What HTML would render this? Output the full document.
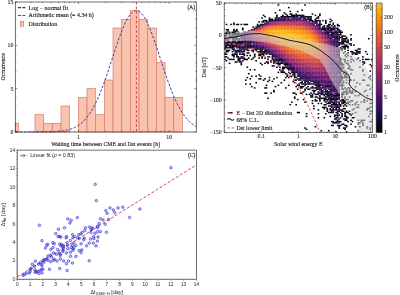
<!DOCTYPE html>
<html><head><meta charset="utf-8"><style>
html,body{margin:0;padding:0;background:#fff;width:400px;height:295px;overflow:hidden}
svg{display:block;will-change:transform;filter:blur(0.35px)}
text[font-family*="Serif"]{stroke:#222;stroke-width:0.14px;paint-order:stroke}
</style></head><body>
<svg width="400" height="295" viewBox="0 0 400 295" shape-rendering="auto">
<rect width="400" height="295" fill="#fff"/>
<rect x="15.30" y="123.33" width="3.00" height="8.67" fill="#f9c3ad" stroke="#d97a68" stroke-width="0.7"/>
<rect x="35.00" y="114.67" width="8.67" height="17.33" fill="#f9c3ad" stroke="#d97a68" stroke-width="0.7"/>
<rect x="43.67" y="123.33" width="8.67" height="8.67" fill="#f9c3ad" stroke="#d97a68" stroke-width="0.7"/>
<rect x="52.34" y="123.33" width="8.67" height="8.67" fill="#f9c3ad" stroke="#d97a68" stroke-width="0.7"/>
<rect x="61.01" y="106.00" width="8.67" height="26.00" fill="#f9c3ad" stroke="#d97a68" stroke-width="0.7"/>
<rect x="78.35" y="97.33" width="8.67" height="34.67" fill="#f9c3ad" stroke="#d97a68" stroke-width="0.7"/>
<rect x="87.02" y="88.67" width="8.67" height="43.33" fill="#f9c3ad" stroke="#d97a68" stroke-width="0.7"/>
<rect x="95.69" y="114.67" width="8.67" height="17.33" fill="#f9c3ad" stroke="#d97a68" stroke-width="0.7"/>
<rect x="104.36" y="80.00" width="8.67" height="52.00" fill="#f9c3ad" stroke="#d97a68" stroke-width="0.7"/>
<rect x="113.03" y="28.00" width="8.67" height="104.00" fill="#f9c3ad" stroke="#d97a68" stroke-width="0.7"/>
<rect x="121.70" y="19.33" width="8.67" height="112.67" fill="#f9c3ad" stroke="#d97a68" stroke-width="0.7"/>
<rect x="130.37" y="10.67" width="8.67" height="121.33" fill="#f9c3ad" stroke="#d97a68" stroke-width="0.7"/>
<rect x="139.04" y="19.33" width="8.67" height="112.67" fill="#f9c3ad" stroke="#d97a68" stroke-width="0.7"/>
<rect x="147.71" y="28.00" width="8.67" height="104.00" fill="#f9c3ad" stroke="#d97a68" stroke-width="0.7"/>
<rect x="156.38" y="62.67" width="8.67" height="69.33" fill="#f9c3ad" stroke="#d97a68" stroke-width="0.7"/>
<rect x="165.05" y="97.33" width="8.67" height="34.67" fill="#f9c3ad" stroke="#d97a68" stroke-width="0.7"/>
<rect x="173.72" y="97.33" width="8.67" height="34.67" fill="#f9c3ad" stroke="#d97a68" stroke-width="0.7"/>
<polyline points="15.30,132.00 16.21,132.00 17.12,132.00 18.03,132.00 18.94,132.00 19.85,132.00 20.76,132.00 21.67,132.00 22.58,132.00 23.49,132.00 24.40,132.00 25.31,132.00 26.21,132.00 27.12,132.00 28.03,132.00 28.94,131.99 29.85,131.99 30.76,131.99 31.67,131.99 32.58,131.99 33.49,131.99 34.40,131.99 35.31,131.98 36.22,131.98 37.13,131.98 38.04,131.97 38.95,131.97 39.86,131.96 40.77,131.96 41.68,131.95 42.59,131.94 43.50,131.93 44.41,131.92 45.32,131.91 46.22,131.89 47.13,131.88 48.04,131.86 48.95,131.84 49.86,131.81 50.77,131.79 51.68,131.76 52.59,131.72 53.50,131.68 54.41,131.64 55.32,131.59 56.23,131.54 57.14,131.47 58.05,131.40 58.96,131.33 59.87,131.24 60.78,131.14 61.69,131.03 62.60,130.91 63.51,130.78 64.42,130.63 65.33,130.47 66.23,130.29 67.14,130.09 68.05,129.87 68.96,129.63 69.87,129.37 70.78,129.08 71.69,128.76 72.60,128.42 73.51,128.04 74.42,127.63 75.33,127.19 76.24,126.70 77.15,126.18 78.06,125.61 78.97,125.00 79.88,124.35 80.79,123.64 81.70,122.88 82.61,122.07 83.52,121.19 84.43,120.26 85.34,119.27 86.24,118.21 87.15,117.09 88.06,115.90 88.97,114.64 89.88,113.30 90.79,111.90 91.70,110.42 92.61,108.86 93.52,107.22 94.43,105.51 95.34,103.72 96.25,101.85 97.16,99.91 98.07,97.88 98.98,95.79 99.89,93.62 100.80,91.37 101.71,89.06 102.62,86.68 103.53,84.24 104.44,81.74 105.35,79.19 106.25,76.58 107.16,73.93 108.07,71.24 108.98,68.52 109.89,65.76 110.80,62.99 111.71,60.21 112.62,57.42 113.53,54.64 114.44,51.86 115.35,49.11 116.26,46.38 117.17,43.69 118.08,41.05 118.99,38.46 119.90,35.94 120.81,33.49 121.72,31.12 122.63,28.84 123.54,26.67 124.45,24.60 125.36,22.65 126.26,20.82 127.17,19.13 128.08,17.57 128.99,16.16 129.90,14.90 130.81,13.80 131.72,12.85 132.63,12.08 133.54,11.47 134.45,11.03 135.36,10.76 136.27,10.67 137.18,10.75 138.09,11.00 139.00,11.43 139.91,12.03 140.82,12.80 141.73,13.73 142.64,14.82 143.55,16.07 144.46,17.47 145.37,19.02 146.27,20.71 147.18,22.52 148.09,24.47 149.00,26.53 149.91,28.70 150.82,30.97 151.73,33.33 152.64,35.77 153.55,38.29 154.46,40.87 155.37,43.51 156.28,46.20 157.19,48.92 158.10,51.68 159.01,54.45 159.92,57.24 160.83,60.03 161.74,62.81 162.65,65.58 163.56,68.33 164.47,71.06 165.38,73.75 166.28,76.41 167.19,79.01 168.10,81.57 169.01,84.08 169.92,86.52 170.83,88.91 171.74,91.22 172.65,93.47 173.56,95.65 174.47,97.75 175.38,99.77 176.29,101.72 177.20,103.60 178.11,105.39 179.02,107.11 179.93,108.75 180.84,110.31 181.75,111.80 182.66,113.21 183.57,114.55 184.48,115.82 185.39,117.01 186.29,118.14 187.20,119.20 188.11,120.20 189.02,121.14 189.93,122.01 190.84,122.83 191.75,123.59 192.66,124.30 193.57,124.96 194.48,125.58 195.39,126.14 196.30,126.67" fill="none" stroke="#2a32b0" stroke-width="0.95" stroke-dasharray="2.6,1.6"/>
<line x1="136.40" y1="2.00" x2="136.40" y2="132.00" stroke="#c42e2a" stroke-width="0.85" stroke-dasharray="2.6,2.1"/>
<rect x="15.3" y="2.0" width="181.0" height="130.0" fill="none" stroke="#333" stroke-width="0.7"/>
<line x1="15.30" y1="132.00" x2="17.30" y2="132.00" stroke="#222" stroke-width="0.5"/>
<line x1="196.30" y1="132.00" x2="194.30" y2="132.00" stroke="#222" stroke-width="0.5"/>
<line x1="15.30" y1="123.33" x2="16.40" y2="123.33" stroke="#222" stroke-width="0.5"/>
<line x1="196.30" y1="123.33" x2="195.20" y2="123.33" stroke="#222" stroke-width="0.5"/>
<line x1="15.30" y1="114.67" x2="16.40" y2="114.67" stroke="#222" stroke-width="0.5"/>
<line x1="196.30" y1="114.67" x2="195.20" y2="114.67" stroke="#222" stroke-width="0.5"/>
<line x1="15.30" y1="106.00" x2="16.40" y2="106.00" stroke="#222" stroke-width="0.5"/>
<line x1="196.30" y1="106.00" x2="195.20" y2="106.00" stroke="#222" stroke-width="0.5"/>
<line x1="15.30" y1="97.33" x2="16.40" y2="97.33" stroke="#222" stroke-width="0.5"/>
<line x1="196.30" y1="97.33" x2="195.20" y2="97.33" stroke="#222" stroke-width="0.5"/>
<line x1="15.30" y1="88.67" x2="17.30" y2="88.67" stroke="#222" stroke-width="0.5"/>
<line x1="196.30" y1="88.67" x2="194.30" y2="88.67" stroke="#222" stroke-width="0.5"/>
<line x1="15.30" y1="80.00" x2="16.40" y2="80.00" stroke="#222" stroke-width="0.5"/>
<line x1="196.30" y1="80.00" x2="195.20" y2="80.00" stroke="#222" stroke-width="0.5"/>
<line x1="15.30" y1="71.33" x2="16.40" y2="71.33" stroke="#222" stroke-width="0.5"/>
<line x1="196.30" y1="71.33" x2="195.20" y2="71.33" stroke="#222" stroke-width="0.5"/>
<line x1="15.30" y1="62.67" x2="16.40" y2="62.67" stroke="#222" stroke-width="0.5"/>
<line x1="196.30" y1="62.67" x2="195.20" y2="62.67" stroke="#222" stroke-width="0.5"/>
<line x1="15.30" y1="54.00" x2="16.40" y2="54.00" stroke="#222" stroke-width="0.5"/>
<line x1="196.30" y1="54.00" x2="195.20" y2="54.00" stroke="#222" stroke-width="0.5"/>
<line x1="15.30" y1="45.33" x2="17.30" y2="45.33" stroke="#222" stroke-width="0.5"/>
<line x1="196.30" y1="45.33" x2="194.30" y2="45.33" stroke="#222" stroke-width="0.5"/>
<line x1="15.30" y1="36.67" x2="16.40" y2="36.67" stroke="#222" stroke-width="0.5"/>
<line x1="196.30" y1="36.67" x2="195.20" y2="36.67" stroke="#222" stroke-width="0.5"/>
<line x1="15.30" y1="28.00" x2="16.40" y2="28.00" stroke="#222" stroke-width="0.5"/>
<line x1="196.30" y1="28.00" x2="195.20" y2="28.00" stroke="#222" stroke-width="0.5"/>
<line x1="15.30" y1="19.33" x2="16.40" y2="19.33" stroke="#222" stroke-width="0.5"/>
<line x1="196.30" y1="19.33" x2="195.20" y2="19.33" stroke="#222" stroke-width="0.5"/>
<line x1="15.30" y1="10.67" x2="16.40" y2="10.67" stroke="#222" stroke-width="0.5"/>
<line x1="196.30" y1="10.67" x2="195.20" y2="10.67" stroke="#222" stroke-width="0.5"/>
<line x1="15.30" y1="2.00" x2="17.30" y2="2.00" stroke="#222" stroke-width="0.5"/>
<line x1="196.30" y1="2.00" x2="194.30" y2="2.00" stroke="#222" stroke-width="0.5"/>
<text x="13.40" y="133.90" font-size="5.95" text-anchor="end" font-family='"Liberation Serif", serif' fill="#222" style="stroke-width:0.1px">0</text>
<text x="13.40" y="90.57" font-size="5.95" text-anchor="end" font-family='"Liberation Serif", serif' fill="#222" style="stroke-width:0.1px">5</text>
<text x="13.40" y="47.23" font-size="5.95" text-anchor="end" font-family='"Liberation Serif", serif' fill="#222" style="stroke-width:0.1px">10</text>
<text x="13.40" y="3.90" font-size="5.95" text-anchor="end" font-family='"Liberation Serif", serif' fill="#222" style="stroke-width:0.1px">15</text>
<line x1="15.27" y1="132.00" x2="15.27" y2="130.90" stroke="#222" stroke-width="0.5"/>
<line x1="15.27" y1="2.00" x2="15.27" y2="3.10" stroke="#222" stroke-width="0.5"/>
<line x1="31.23" y1="132.00" x2="31.23" y2="130.90" stroke="#222" stroke-width="0.5"/>
<line x1="31.23" y1="2.00" x2="31.23" y2="3.10" stroke="#222" stroke-width="0.5"/>
<line x1="42.55" y1="132.00" x2="42.55" y2="130.90" stroke="#222" stroke-width="0.5"/>
<line x1="42.55" y1="2.00" x2="42.55" y2="3.10" stroke="#222" stroke-width="0.5"/>
<line x1="51.33" y1="132.00" x2="51.33" y2="130.90" stroke="#222" stroke-width="0.5"/>
<line x1="51.33" y1="2.00" x2="51.33" y2="3.10" stroke="#222" stroke-width="0.5"/>
<line x1="58.50" y1="132.00" x2="58.50" y2="130.90" stroke="#222" stroke-width="0.5"/>
<line x1="58.50" y1="2.00" x2="58.50" y2="3.10" stroke="#222" stroke-width="0.5"/>
<line x1="64.57" y1="132.00" x2="64.57" y2="130.90" stroke="#222" stroke-width="0.5"/>
<line x1="64.57" y1="2.00" x2="64.57" y2="3.10" stroke="#222" stroke-width="0.5"/>
<line x1="69.82" y1="132.00" x2="69.82" y2="130.90" stroke="#222" stroke-width="0.5"/>
<line x1="69.82" y1="2.00" x2="69.82" y2="3.10" stroke="#222" stroke-width="0.5"/>
<line x1="74.45" y1="132.00" x2="74.45" y2="130.90" stroke="#222" stroke-width="0.5"/>
<line x1="74.45" y1="2.00" x2="74.45" y2="3.10" stroke="#222" stroke-width="0.5"/>
<line x1="78.60" y1="132.00" x2="78.60" y2="130.00" stroke="#222" stroke-width="0.5"/>
<line x1="78.60" y1="2.00" x2="78.60" y2="4.00" stroke="#222" stroke-width="0.5"/>
<line x1="105.87" y1="132.00" x2="105.87" y2="130.90" stroke="#222" stroke-width="0.5"/>
<line x1="105.87" y1="2.00" x2="105.87" y2="3.10" stroke="#222" stroke-width="0.5"/>
<line x1="121.83" y1="132.00" x2="121.83" y2="130.90" stroke="#222" stroke-width="0.5"/>
<line x1="121.83" y1="2.00" x2="121.83" y2="3.10" stroke="#222" stroke-width="0.5"/>
<line x1="133.15" y1="132.00" x2="133.15" y2="130.90" stroke="#222" stroke-width="0.5"/>
<line x1="133.15" y1="2.00" x2="133.15" y2="3.10" stroke="#222" stroke-width="0.5"/>
<line x1="141.93" y1="132.00" x2="141.93" y2="130.90" stroke="#222" stroke-width="0.5"/>
<line x1="141.93" y1="2.00" x2="141.93" y2="3.10" stroke="#222" stroke-width="0.5"/>
<line x1="149.10" y1="132.00" x2="149.10" y2="130.90" stroke="#222" stroke-width="0.5"/>
<line x1="149.10" y1="2.00" x2="149.10" y2="3.10" stroke="#222" stroke-width="0.5"/>
<line x1="155.17" y1="132.00" x2="155.17" y2="130.90" stroke="#222" stroke-width="0.5"/>
<line x1="155.17" y1="2.00" x2="155.17" y2="3.10" stroke="#222" stroke-width="0.5"/>
<line x1="160.42" y1="132.00" x2="160.42" y2="130.90" stroke="#222" stroke-width="0.5"/>
<line x1="160.42" y1="2.00" x2="160.42" y2="3.10" stroke="#222" stroke-width="0.5"/>
<line x1="165.05" y1="132.00" x2="165.05" y2="130.90" stroke="#222" stroke-width="0.5"/>
<line x1="165.05" y1="2.00" x2="165.05" y2="3.10" stroke="#222" stroke-width="0.5"/>
<line x1="169.20" y1="132.00" x2="169.20" y2="130.00" stroke="#222" stroke-width="0.5"/>
<line x1="169.20" y1="2.00" x2="169.20" y2="4.00" stroke="#222" stroke-width="0.5"/>
<text x="78.60" y="138.60" font-size="5.95" text-anchor="middle" font-family='"Liberation Serif", serif' fill="#222" style="stroke-width:0.1px">1</text>
<text x="169.20" y="138.60" font-size="5.95" text-anchor="middle" font-family='"Liberation Serif", serif' fill="#222" style="stroke-width:0.1px">10</text>
<text x="105.60" y="145.60" font-size="5.82" text-anchor="middle" font-family='"Liberation Serif", serif' fill="#222">Waiting time between CME and Dst events [h]</text>
<text x="4.90" y="66.80" font-size="5.95" text-anchor="middle" font-family='"Liberation Serif", serif' fill="#222" transform="rotate(-90 4.9 66.8)">Occurrence</text>
<text x="195.20" y="9.00" font-size="5.6" text-anchor="end" font-family='"Liberation Serif", serif' fill="#222">(A)</text>
<line x1="17.80" y1="7.60" x2="25.40" y2="7.60" stroke="#2e3599" stroke-width="1.1" stroke-dasharray="3.3,1.2"/>
<text x="28.60" y="9.60" font-size="5.95" text-anchor="start" font-family='"Liberation Serif", serif' fill="#222">Log − normal fit</text>
<line x1="17.80" y1="15.50" x2="25.40" y2="15.50" stroke="#a83a36" stroke-width="1.1" stroke-dasharray="3.3,1.2"/>
<text x="28.60" y="17.20" font-size="5.95" text-anchor="start" font-family='"Liberation Serif", serif' fill="#222">Arithmetic mean (= 4.34 h)</text>
<rect x="20.4" y="21.3" width="3.2" height="5.0" fill="#f9c3ad" stroke="#d97a68" stroke-width="0.7"/>
<text x="28.60" y="26.30" font-size="5.95" text-anchor="start" font-family='"Liberation Serif", serif' fill="#222">Distribution</text>
<g clip-path="url(#clipB)"><defs><clipPath id="clipB"><rect x="224.2" y="3.0" width="148.20" height="129.50"/></clipPath></defs><rect x="277.55" y="4.29" width="1.68" height="1.49" fill="#000004"/><rect x="304.23" y="4.29" width="1.68" height="1.49" fill="#000004"/><rect x="287.93" y="6.88" width="1.68" height="1.49" fill="#000004"/><rect x="279.03" y="9.47" width="1.68" height="1.49" fill="#000004"/><rect x="301.26" y="9.47" width="1.68" height="1.49" fill="#000004"/><rect x="289.41" y="10.77" width="1.68" height="1.49" fill="#000004"/><rect x="296.82" y="10.77" width="1.68" height="1.49" fill="#000004"/><rect x="274.59" y="12.06" width="1.68" height="1.49" fill="#000004"/><rect x="283.48" y="12.06" width="1.68" height="1.49" fill="#000004"/><rect x="284.96" y="13.36" width="1.68" height="1.49" fill="#000004"/><rect x="289.41" y="13.36" width="1.68" height="1.49" fill="#000004"/><rect x="290.89" y="13.36" width="1.68" height="1.49" fill="#160b39"/><rect x="295.34" y="13.36" width="1.68" height="1.49" fill="#000004"/><rect x="311.64" y="13.36" width="1.68" height="1.49" fill="#000004"/><rect x="319.05" y="13.36" width="1.68" height="1.49" fill="#000004"/><rect x="262.73" y="14.65" width="1.68" height="1.49" fill="#000004"/><rect x="276.07" y="14.65" width="1.68" height="1.49" fill="#000004"/><rect x="282.00" y="14.65" width="1.68" height="1.49" fill="#000004"/><rect x="286.44" y="14.65" width="1.68" height="1.49" fill="#000004"/><rect x="290.89" y="14.65" width="4.65" height="1.49" fill="#000004"/><rect x="295.34" y="14.65" width="1.68" height="1.49" fill="#310a5c"/><rect x="296.82" y="14.65" width="4.65" height="1.49" fill="#000004"/><rect x="301.26" y="14.65" width="1.68" height="1.49" fill="#160b39"/><rect x="302.75" y="14.65" width="1.68" height="1.49" fill="#000004"/><rect x="314.60" y="14.65" width="1.68" height="1.49" fill="#160b39"/><rect x="319.05" y="14.65" width="1.68" height="1.49" fill="#000004"/><rect x="264.21" y="15.95" width="1.68" height="1.49" fill="#000004"/><rect x="276.07" y="15.95" width="1.68" height="1.49" fill="#000004"/><rect x="280.52" y="15.95" width="3.16" height="1.49" fill="#000004"/><rect x="283.48" y="15.95" width="3.16" height="1.49" fill="#160b39"/><rect x="286.44" y="15.95" width="4.65" height="1.49" fill="#000004"/><rect x="290.89" y="15.95" width="1.68" height="1.49" fill="#310a5c"/><rect x="292.37" y="15.95" width="1.68" height="1.49" fill="#000004"/><rect x="293.85" y="15.95" width="1.68" height="1.49" fill="#160b39"/><rect x="295.34" y="15.95" width="1.68" height="1.49" fill="#310a5c"/><rect x="296.82" y="15.95" width="1.68" height="1.49" fill="#160b39"/><rect x="299.78" y="15.95" width="1.68" height="1.49" fill="#160b39"/><rect x="301.26" y="15.95" width="1.68" height="1.49" fill="#000004"/><rect x="302.75" y="15.95" width="1.68" height="1.49" fill="#310a5c"/><rect x="304.23" y="15.95" width="1.68" height="1.49" fill="#160b39"/><rect x="305.71" y="15.95" width="1.68" height="1.49" fill="#000004"/><rect x="307.19" y="15.95" width="3.16" height="1.49" fill="#160b39"/><rect x="310.16" y="15.95" width="1.68" height="1.49" fill="#000004"/><rect x="317.57" y="15.95" width="1.68" height="1.49" fill="#000004"/><rect x="261.25" y="17.24" width="1.68" height="1.49" fill="#000004"/><rect x="268.66" y="17.24" width="1.68" height="1.49" fill="#160b39"/><rect x="274.59" y="17.24" width="1.68" height="1.49" fill="#160b39"/><rect x="276.07" y="17.24" width="1.68" height="1.49" fill="#420a68"/><rect x="277.55" y="17.24" width="1.68" height="1.49" fill="#160b39"/><rect x="279.03" y="17.24" width="1.68" height="1.49" fill="#000004"/><rect x="280.52" y="17.24" width="1.68" height="1.49" fill="#310a5c"/><rect x="282.00" y="17.24" width="1.68" height="1.49" fill="#420a68"/><rect x="283.48" y="17.24" width="1.68" height="1.49" fill="#000004"/><rect x="284.96" y="17.24" width="1.68" height="1.49" fill="#160b39"/><rect x="286.44" y="17.24" width="1.68" height="1.49" fill="#420a68"/><rect x="287.93" y="17.24" width="1.68" height="1.49" fill="#000004"/><rect x="290.89" y="17.24" width="1.68" height="1.49" fill="#420a68"/><rect x="292.37" y="17.24" width="1.68" height="1.49" fill="#160b39"/><rect x="293.85" y="17.24" width="1.68" height="1.49" fill="#000004"/><rect x="295.34" y="17.24" width="1.68" height="1.49" fill="#310a5c"/><rect x="296.82" y="17.24" width="1.68" height="1.49" fill="#420a68"/><rect x="298.30" y="17.24" width="1.68" height="1.49" fill="#160b39"/><rect x="299.78" y="17.24" width="1.68" height="1.49" fill="#310a5c"/><rect x="301.26" y="17.24" width="1.68" height="1.49" fill="#4c0c6b"/><rect x="302.75" y="17.24" width="1.68" height="1.49" fill="#160b39"/><rect x="304.23" y="17.24" width="1.68" height="1.49" fill="#000004"/><rect x="307.19" y="17.24" width="1.68" height="1.49" fill="#000004"/><rect x="308.67" y="17.24" width="3.16" height="1.49" fill="#160b39"/><rect x="316.08" y="17.24" width="3.16" height="1.49" fill="#000004"/><rect x="268.66" y="18.54" width="4.65" height="1.49" fill="#000004"/><rect x="274.59" y="18.54" width="1.68" height="1.49" fill="#160b39"/><rect x="276.07" y="18.54" width="6.13" height="1.49" fill="#420a68"/><rect x="282.00" y="18.54" width="1.68" height="1.49" fill="#310a5c"/><rect x="283.48" y="18.54" width="1.68" height="1.49" fill="#160b39"/><rect x="284.96" y="18.54" width="1.68" height="1.49" fill="#61136e"/><rect x="286.44" y="18.54" width="1.68" height="1.49" fill="#6a176e"/><rect x="287.93" y="18.54" width="1.68" height="1.49" fill="#310a5c"/><rect x="289.41" y="18.54" width="3.16" height="1.49" fill="#61136e"/><rect x="292.37" y="18.54" width="1.68" height="1.49" fill="#420a68"/><rect x="293.85" y="18.54" width="1.68" height="1.49" fill="#61136e"/><rect x="295.34" y="18.54" width="1.68" height="1.49" fill="#310a5c"/><rect x="296.82" y="18.54" width="1.68" height="1.49" fill="#61136e"/><rect x="298.30" y="18.54" width="3.16" height="1.49" fill="#310a5c"/><rect x="302.75" y="18.54" width="1.68" height="1.49" fill="#4c0c6b"/><rect x="304.23" y="18.54" width="1.68" height="1.49" fill="#310a5c"/><rect x="305.71" y="18.54" width="1.68" height="1.49" fill="#160b39"/><rect x="307.19" y="18.54" width="1.68" height="1.49" fill="#000004"/><rect x="308.67" y="18.54" width="1.68" height="1.49" fill="#420a68"/><rect x="310.16" y="18.54" width="1.68" height="1.49" fill="#000004"/><rect x="314.60" y="18.54" width="1.68" height="1.49" fill="#000004"/><rect x="329.42" y="18.54" width="1.68" height="1.49" fill="#160b39"/><rect x="262.73" y="19.84" width="4.65" height="1.49" fill="#000004"/><rect x="268.66" y="19.84" width="1.68" height="1.49" fill="#000004"/><rect x="270.14" y="19.84" width="1.68" height="1.49" fill="#160b39"/><rect x="271.62" y="19.84" width="1.68" height="1.49" fill="#000004"/><rect x="273.11" y="19.84" width="1.68" height="1.49" fill="#5c126e"/><rect x="274.59" y="19.84" width="1.68" height="1.49" fill="#000004"/><rect x="276.07" y="19.84" width="1.68" height="1.49" fill="#310a5c"/><rect x="277.55" y="19.84" width="1.68" height="1.49" fill="#160b39"/><rect x="279.03" y="19.84" width="3.16" height="1.49" fill="#5c126e"/><rect x="282.00" y="19.84" width="3.16" height="1.49" fill="#61136e"/><rect x="284.96" y="19.84" width="4.65" height="1.49" fill="#65156e"/><rect x="289.41" y="19.84" width="3.16" height="1.49" fill="#6a176e"/><rect x="292.37" y="19.84" width="1.68" height="1.49" fill="#71196e"/><rect x="293.85" y="19.84" width="1.68" height="1.49" fill="#7f1e6c"/><rect x="295.34" y="19.84" width="1.68" height="1.49" fill="#71196e"/><rect x="296.82" y="19.84" width="1.68" height="1.49" fill="#6a176e"/><rect x="298.30" y="19.84" width="1.68" height="1.49" fill="#751b6e"/><rect x="299.78" y="19.84" width="1.68" height="1.49" fill="#6a176e"/><rect x="301.26" y="19.84" width="1.68" height="1.49" fill="#61136e"/><rect x="302.75" y="19.84" width="1.68" height="1.49" fill="#4c0c6b"/><rect x="304.23" y="19.84" width="1.68" height="1.49" fill="#5c126e"/><rect x="305.71" y="19.84" width="1.68" height="1.49" fill="#61136e"/><rect x="308.67" y="19.84" width="4.65" height="1.49" fill="#000004"/><rect x="314.60" y="19.84" width="1.68" height="1.49" fill="#000004"/><rect x="316.08" y="19.84" width="4.65" height="1.49" fill="#160b39"/><rect x="322.01" y="19.84" width="1.68" height="1.49" fill="#160b39"/><rect x="324.98" y="19.84" width="1.68" height="1.49" fill="#000004"/><rect x="330.90" y="19.84" width="1.68" height="1.49" fill="#000004"/><rect x="258.29" y="21.13" width="1.68" height="1.49" fill="#000004"/><rect x="261.25" y="21.13" width="3.16" height="1.49" fill="#000004"/><rect x="265.70" y="21.13" width="1.68" height="1.49" fill="#000004"/><rect x="267.18" y="21.13" width="4.65" height="1.49" fill="#420a68"/><rect x="271.62" y="21.13" width="1.68" height="1.49" fill="#6a176e"/><rect x="273.11" y="21.13" width="1.68" height="1.49" fill="#5c126e"/><rect x="274.59" y="21.13" width="3.16" height="1.49" fill="#71196e"/><rect x="277.55" y="21.13" width="1.68" height="1.49" fill="#7f1e6c"/><rect x="279.03" y="21.13" width="1.68" height="1.49" fill="#84206b"/><rect x="280.52" y="21.13" width="3.16" height="1.49" fill="#8a226a"/><rect x="283.48" y="21.13" width="1.68" height="1.49" fill="#7a1d6d"/><rect x="284.96" y="21.13" width="1.68" height="1.49" fill="#932667"/><rect x="286.44" y="21.13" width="7.61" height="1.49" fill="#8a226a"/><rect x="293.85" y="21.13" width="1.68" height="1.49" fill="#8f2469"/><rect x="295.34" y="21.13" width="1.68" height="1.49" fill="#932667"/><rect x="296.82" y="21.13" width="1.68" height="1.49" fill="#8f2469"/><rect x="298.30" y="21.13" width="1.68" height="1.49" fill="#932667"/><rect x="299.78" y="21.13" width="1.68" height="1.49" fill="#8a226a"/><rect x="301.26" y="21.13" width="1.68" height="1.49" fill="#84206b"/><rect x="302.75" y="21.13" width="1.68" height="1.49" fill="#751b6e"/><rect x="304.23" y="21.13" width="1.68" height="1.49" fill="#71196e"/><rect x="305.71" y="21.13" width="1.68" height="1.49" fill="#65156e"/><rect x="307.19" y="21.13" width="3.16" height="1.49" fill="#6a176e"/><rect x="311.64" y="21.13" width="1.68" height="1.49" fill="#000004"/><rect x="313.12" y="21.13" width="1.68" height="1.49" fill="#160b39"/><rect x="314.60" y="21.13" width="1.68" height="1.49" fill="#000004"/><rect x="316.08" y="21.13" width="1.68" height="1.49" fill="#160b39"/><rect x="319.05" y="21.13" width="1.68" height="1.49" fill="#000004"/><rect x="324.98" y="21.13" width="1.68" height="1.49" fill="#000004"/><rect x="329.42" y="21.13" width="1.68" height="1.49" fill="#000004"/><rect x="233.09" y="22.42" width="1.68" height="1.49" fill="#000004"/><rect x="264.21" y="22.42" width="4.65" height="1.49" fill="#310a5c"/><rect x="268.66" y="22.42" width="1.68" height="1.49" fill="#65156e"/><rect x="270.14" y="22.42" width="1.68" height="1.49" fill="#7a1d6d"/><rect x="271.62" y="22.42" width="1.68" height="1.49" fill="#7f1e6c"/><rect x="273.11" y="22.42" width="1.68" height="1.49" fill="#8a226a"/><rect x="274.59" y="22.42" width="1.68" height="1.49" fill="#982766"/><rect x="276.07" y="22.42" width="3.16" height="1.49" fill="#a32c61"/><rect x="279.03" y="22.42" width="3.16" height="1.49" fill="#b1325a"/><rect x="282.00" y="22.42" width="1.68" height="1.49" fill="#ad305d"/><rect x="283.48" y="22.42" width="1.68" height="1.49" fill="#a82e5f"/><rect x="284.96" y="22.42" width="3.16" height="1.49" fill="#b1325a"/><rect x="287.93" y="22.42" width="1.68" height="1.49" fill="#b63458"/><rect x="289.41" y="22.42" width="1.68" height="1.49" fill="#ad305d"/><rect x="290.89" y="22.42" width="1.68" height="1.49" fill="#b63458"/><rect x="292.37" y="22.42" width="1.68" height="1.49" fill="#ad305d"/><rect x="293.85" y="22.42" width="1.68" height="1.49" fill="#b1325a"/><rect x="295.34" y="22.42" width="3.16" height="1.49" fill="#ad305d"/><rect x="298.30" y="22.42" width="1.68" height="1.49" fill="#b1325a"/><rect x="299.78" y="22.42" width="1.68" height="1.49" fill="#a82e5f"/><rect x="301.26" y="22.42" width="1.68" height="1.49" fill="#a32c61"/><rect x="302.75" y="22.42" width="1.68" height="1.49" fill="#932667"/><rect x="304.23" y="22.42" width="1.68" height="1.49" fill="#8a226a"/><rect x="305.71" y="22.42" width="1.68" height="1.49" fill="#7a1d6d"/><rect x="307.19" y="22.42" width="1.68" height="1.49" fill="#751b6e"/><rect x="308.67" y="22.42" width="1.68" height="1.49" fill="#61136e"/><rect x="310.16" y="22.42" width="1.68" height="1.49" fill="#310a5c"/><rect x="311.64" y="22.42" width="1.68" height="1.49" fill="#61136e"/><rect x="313.12" y="22.42" width="1.68" height="1.49" fill="#5c126e"/><rect x="314.60" y="22.42" width="1.68" height="1.49" fill="#310a5c"/><rect x="316.08" y="22.42" width="1.68" height="1.49" fill="#000004"/><rect x="319.05" y="22.42" width="1.68" height="1.49" fill="#000004"/><rect x="324.98" y="22.42" width="1.68" height="1.49" fill="#000004"/><rect x="332.39" y="22.42" width="1.68" height="1.49" fill="#310a5c"/><rect x="225.68" y="23.72" width="1.68" height="1.49" fill="#000004"/><rect x="230.13" y="23.72" width="1.68" height="1.49" fill="#000004"/><rect x="233.09" y="23.72" width="1.68" height="1.49" fill="#000004"/><rect x="236.06" y="23.72" width="3.16" height="1.49" fill="#000004"/><rect x="240.50" y="23.72" width="1.68" height="1.49" fill="#000004"/><rect x="243.47" y="23.72" width="4.65" height="1.49" fill="#000004"/><rect x="256.80" y="23.72" width="1.68" height="1.49" fill="#000004"/><rect x="259.77" y="23.72" width="1.68" height="1.49" fill="#160b39"/><rect x="261.25" y="23.72" width="1.68" height="1.49" fill="#000004"/><rect x="262.73" y="23.72" width="3.16" height="1.49" fill="#420a68"/><rect x="265.70" y="23.72" width="1.68" height="1.49" fill="#6a176e"/><rect x="267.18" y="23.72" width="1.68" height="1.49" fill="#84206b"/><rect x="268.66" y="23.72" width="3.16" height="1.49" fill="#a32c61"/><rect x="271.62" y="23.72" width="1.68" height="1.49" fill="#b63458"/><rect x="273.11" y="23.72" width="4.65" height="1.49" fill="#bc3754"/><rect x="277.55" y="23.72" width="1.68" height="1.49" fill="#cc4248"/><rect x="279.03" y="23.72" width="1.68" height="1.49" fill="#c43c4e"/><rect x="280.52" y="23.72" width="1.68" height="1.49" fill="#c83f4b"/><rect x="282.00" y="23.72" width="1.68" height="1.49" fill="#cc4248"/><rect x="283.48" y="23.72" width="1.68" height="1.49" fill="#c43c4e"/><rect x="284.96" y="23.72" width="1.68" height="1.49" fill="#cc4248"/><rect x="286.44" y="23.72" width="3.16" height="1.49" fill="#c83f4b"/><rect x="289.41" y="23.72" width="3.16" height="1.49" fill="#c43c4e"/><rect x="292.37" y="23.72" width="1.68" height="1.49" fill="#c83f4b"/><rect x="293.85" y="23.72" width="1.68" height="1.49" fill="#c43c4e"/><rect x="295.34" y="23.72" width="1.68" height="1.49" fill="#c83f4b"/><rect x="296.82" y="23.72" width="3.16" height="1.49" fill="#c43c4e"/><rect x="299.78" y="23.72" width="1.68" height="1.49" fill="#c03a51"/><rect x="301.26" y="23.72" width="1.68" height="1.49" fill="#bc3754"/><rect x="302.75" y="23.72" width="1.68" height="1.49" fill="#b1325a"/><rect x="304.23" y="23.72" width="1.68" height="1.49" fill="#a82e5f"/><rect x="305.71" y="23.72" width="1.68" height="1.49" fill="#9d2964"/><rect x="307.19" y="23.72" width="1.68" height="1.49" fill="#932667"/><rect x="308.67" y="23.72" width="1.68" height="1.49" fill="#84206b"/><rect x="310.16" y="23.72" width="1.68" height="1.49" fill="#6a176e"/><rect x="311.64" y="23.72" width="1.68" height="1.49" fill="#61136e"/><rect x="313.12" y="23.72" width="1.68" height="1.49" fill="#420a68"/><rect x="316.08" y="23.72" width="1.68" height="1.49" fill="#4c0c6b"/><rect x="317.57" y="23.72" width="3.16" height="1.49" fill="#310a5c"/><rect x="320.53" y="23.72" width="1.68" height="1.49" fill="#000004"/><rect x="327.94" y="23.72" width="3.16" height="1.49" fill="#000004"/><rect x="332.39" y="23.72" width="1.68" height="1.49" fill="#160b39"/><rect x="336.83" y="23.72" width="1.68" height="1.49" fill="#000004"/><rect x="256.80" y="25.02" width="1.68" height="1.49" fill="#000004"/><rect x="258.29" y="25.02" width="1.68" height="1.49" fill="#310a5c"/><rect x="259.77" y="25.02" width="1.68" height="1.49" fill="#160b39"/><rect x="261.25" y="25.02" width="1.68" height="1.49" fill="#420a68"/><rect x="262.73" y="25.02" width="1.68" height="1.49" fill="#751b6e"/><rect x="264.21" y="25.02" width="1.68" height="1.49" fill="#932667"/><rect x="265.70" y="25.02" width="1.68" height="1.49" fill="#a82e5f"/><rect x="267.18" y="25.02" width="1.68" height="1.49" fill="#b1325a"/><rect x="268.66" y="25.02" width="1.68" height="1.49" fill="#c43c4e"/><rect x="270.14" y="25.02" width="1.68" height="1.49" fill="#d24644"/><rect x="271.62" y="25.02" width="1.68" height="1.49" fill="#c83f4b"/><rect x="273.11" y="25.02" width="1.68" height="1.49" fill="#dd513a"/><rect x="274.59" y="25.02" width="3.16" height="1.49" fill="#e05536"/><rect x="277.55" y="25.02" width="3.16" height="1.49" fill="#e45a31"/><rect x="280.52" y="25.02" width="1.68" height="1.49" fill="#e05536"/><rect x="282.00" y="25.02" width="3.16" height="1.49" fill="#e45a31"/><rect x="284.96" y="25.02" width="1.68" height="1.49" fill="#dd513a"/><rect x="286.44" y="25.02" width="3.16" height="1.49" fill="#d94d3d"/><rect x="289.41" y="25.02" width="1.68" height="1.49" fill="#e05536"/><rect x="290.89" y="25.02" width="1.68" height="1.49" fill="#dd513a"/><rect x="292.37" y="25.02" width="1.68" height="1.49" fill="#e45a31"/><rect x="293.85" y="25.02" width="1.68" height="1.49" fill="#d94d3d"/><rect x="295.34" y="25.02" width="1.68" height="1.49" fill="#dd513a"/><rect x="296.82" y="25.02" width="1.68" height="1.49" fill="#d94d3d"/><rect x="298.30" y="25.02" width="1.68" height="1.49" fill="#d54a41"/><rect x="299.78" y="25.02" width="1.68" height="1.49" fill="#d94d3d"/><rect x="301.26" y="25.02" width="1.68" height="1.49" fill="#c83f4b"/><rect x="302.75" y="25.02" width="1.68" height="1.49" fill="#c43c4e"/><rect x="304.23" y="25.02" width="1.68" height="1.49" fill="#b63458"/><rect x="305.71" y="25.02" width="1.68" height="1.49" fill="#a82e5f"/><rect x="307.19" y="25.02" width="1.68" height="1.49" fill="#ad305d"/><rect x="308.67" y="25.02" width="1.68" height="1.49" fill="#9d2964"/><rect x="310.16" y="25.02" width="1.68" height="1.49" fill="#8a226a"/><rect x="311.64" y="25.02" width="1.68" height="1.49" fill="#7f1e6c"/><rect x="313.12" y="25.02" width="1.68" height="1.49" fill="#65156e"/><rect x="314.60" y="25.02" width="1.68" height="1.49" fill="#6a176e"/><rect x="316.08" y="25.02" width="1.68" height="1.49" fill="#4c0c6b"/><rect x="317.57" y="25.02" width="1.68" height="1.49" fill="#310a5c"/><rect x="319.05" y="25.02" width="1.68" height="1.49" fill="#000004"/><rect x="323.49" y="25.02" width="1.68" height="1.49" fill="#000004"/><rect x="326.46" y="25.02" width="3.16" height="1.49" fill="#160b39"/><rect x="330.90" y="25.02" width="1.68" height="1.49" fill="#310a5c"/><rect x="333.87" y="25.02" width="1.68" height="1.49" fill="#000004"/><rect x="336.83" y="25.02" width="3.16" height="1.49" fill="#000004"/><rect x="252.36" y="26.31" width="1.68" height="1.49" fill="#000004"/><rect x="255.32" y="26.31" width="1.68" height="1.49" fill="#160b39"/><rect x="256.80" y="26.31" width="3.16" height="1.49" fill="#000004"/><rect x="259.77" y="26.31" width="1.68" height="1.49" fill="#84206b"/><rect x="261.25" y="26.31" width="1.68" height="1.49" fill="#982766"/><rect x="262.73" y="26.31" width="1.68" height="1.49" fill="#b1325a"/><rect x="264.21" y="26.31" width="1.68" height="1.49" fill="#c83f4b"/><rect x="265.70" y="26.31" width="1.68" height="1.49" fill="#d54a41"/><rect x="267.18" y="26.31" width="1.68" height="1.49" fill="#dd513a"/><rect x="268.66" y="26.31" width="1.68" height="1.49" fill="#e75e2e"/><rect x="270.14" y="26.31" width="4.65" height="1.49" fill="#ec6726"/><rect x="274.59" y="26.31" width="1.68" height="1.49" fill="#ea632a"/><rect x="276.07" y="26.31" width="1.68" height="1.49" fill="#ec6726"/><rect x="277.55" y="26.31" width="1.68" height="1.49" fill="#f1731d"/><rect x="279.03" y="26.31" width="3.16" height="1.49" fill="#ef6c23"/><rect x="282.00" y="26.31" width="1.68" height="1.49" fill="#f1731d"/><rect x="283.48" y="26.31" width="1.68" height="1.49" fill="#ef6c23"/><rect x="284.96" y="26.31" width="3.16" height="1.49" fill="#ec6726"/><rect x="287.93" y="26.31" width="1.68" height="1.49" fill="#ef6c23"/><rect x="289.41" y="26.31" width="3.16" height="1.49" fill="#ec6726"/><rect x="292.37" y="26.31" width="1.68" height="1.49" fill="#ea632a"/><rect x="293.85" y="26.31" width="1.68" height="1.49" fill="#ec6726"/><rect x="295.34" y="26.31" width="4.65" height="1.49" fill="#e45a31"/><rect x="299.78" y="26.31" width="1.68" height="1.49" fill="#ea632a"/><rect x="301.26" y="26.31" width="1.68" height="1.49" fill="#e45a31"/><rect x="302.75" y="26.31" width="1.68" height="1.49" fill="#d54a41"/><rect x="304.23" y="26.31" width="1.68" height="1.49" fill="#d24644"/><rect x="305.71" y="26.31" width="1.68" height="1.49" fill="#cc4248"/><rect x="307.19" y="26.31" width="1.68" height="1.49" fill="#c43c4e"/><rect x="308.67" y="26.31" width="1.68" height="1.49" fill="#bc3754"/><rect x="310.16" y="26.31" width="1.68" height="1.49" fill="#a82e5f"/><rect x="311.64" y="26.31" width="1.68" height="1.49" fill="#8f2469"/><rect x="313.12" y="26.31" width="1.68" height="1.49" fill="#84206b"/><rect x="314.60" y="26.31" width="1.68" height="1.49" fill="#71196e"/><rect x="316.08" y="26.31" width="1.68" height="1.49" fill="#6a176e"/><rect x="317.57" y="26.31" width="1.68" height="1.49" fill="#420a68"/><rect x="319.05" y="26.31" width="1.68" height="1.49" fill="#160b39"/><rect x="322.01" y="26.31" width="3.16" height="1.49" fill="#000004"/><rect x="326.46" y="26.31" width="3.16" height="1.49" fill="#000004"/><rect x="329.42" y="26.31" width="1.68" height="1.49" fill="#310a5c"/><rect x="332.39" y="26.31" width="1.68" height="1.49" fill="#160b39"/><rect x="333.87" y="26.31" width="1.68" height="1.49" fill="#000004"/><rect x="241.98" y="27.60" width="1.68" height="1.49" fill="#000004"/><rect x="253.84" y="27.60" width="1.68" height="1.49" fill="#000004"/><rect x="255.32" y="27.60" width="1.68" height="1.49" fill="#310a5c"/><rect x="256.80" y="27.60" width="1.68" height="1.49" fill="#84206b"/><rect x="258.29" y="27.60" width="1.68" height="1.49" fill="#a32c61"/><rect x="259.77" y="27.60" width="1.68" height="1.49" fill="#c03a51"/><rect x="261.25" y="27.60" width="1.68" height="1.49" fill="#d94d3d"/><rect x="262.73" y="27.60" width="1.68" height="1.49" fill="#e05536"/><rect x="264.21" y="27.60" width="1.68" height="1.49" fill="#e75e2e"/><rect x="265.70" y="27.60" width="1.68" height="1.49" fill="#ef6c23"/><rect x="267.18" y="27.60" width="1.68" height="1.49" fill="#f1731d"/><rect x="268.66" y="27.60" width="1.68" height="1.49" fill="#f78212"/><rect x="270.14" y="27.60" width="1.68" height="1.49" fill="#f37819"/><rect x="271.62" y="27.60" width="1.68" height="1.49" fill="#f78212"/><rect x="273.11" y="27.60" width="1.68" height="1.49" fill="#f8870e"/><rect x="274.59" y="27.60" width="3.16" height="1.49" fill="#f78212"/><rect x="277.55" y="27.60" width="1.68" height="1.49" fill="#f98e09"/><rect x="279.03" y="27.60" width="4.65" height="1.49" fill="#f8870e"/><rect x="283.48" y="27.60" width="3.16" height="1.49" fill="#f57d15"/><rect x="286.44" y="27.60" width="1.68" height="1.49" fill="#f8870e"/><rect x="287.93" y="27.60" width="1.68" height="1.49" fill="#f37819"/><rect x="289.41" y="27.60" width="1.68" height="1.49" fill="#f57d15"/><rect x="290.89" y="27.60" width="1.68" height="1.49" fill="#f37819"/><rect x="292.37" y="27.60" width="1.68" height="1.49" fill="#f57d15"/><rect x="293.85" y="27.60" width="1.68" height="1.49" fill="#f37819"/><rect x="295.34" y="27.60" width="1.68" height="1.49" fill="#f1731d"/><rect x="296.82" y="27.60" width="1.68" height="1.49" fill="#f37819"/><rect x="298.30" y="27.60" width="1.68" height="1.49" fill="#f1731d"/><rect x="299.78" y="27.60" width="4.65" height="1.49" fill="#ea632a"/><rect x="304.23" y="27.60" width="1.68" height="1.49" fill="#e45a31"/><rect x="305.71" y="27.60" width="1.68" height="1.49" fill="#d94d3d"/><rect x="307.19" y="27.60" width="1.68" height="1.49" fill="#cc4248"/><rect x="308.67" y="27.60" width="3.16" height="1.49" fill="#c83f4b"/><rect x="311.64" y="27.60" width="1.68" height="1.49" fill="#b1325a"/><rect x="313.12" y="27.60" width="1.68" height="1.49" fill="#9d2964"/><rect x="314.60" y="27.60" width="1.68" height="1.49" fill="#7f1e6c"/><rect x="316.08" y="27.60" width="1.68" height="1.49" fill="#6a176e"/><rect x="317.57" y="27.60" width="1.68" height="1.49" fill="#57106e"/><rect x="319.05" y="27.60" width="1.68" height="1.49" fill="#310a5c"/><rect x="320.53" y="27.60" width="1.68" height="1.49" fill="#420a68"/><rect x="322.01" y="27.60" width="1.68" height="1.49" fill="#160b39"/><rect x="323.49" y="27.60" width="1.68" height="1.49" fill="#000004"/><rect x="324.98" y="27.60" width="1.68" height="1.49" fill="#160b39"/><rect x="326.46" y="27.60" width="1.68" height="1.49" fill="#310a5c"/><rect x="327.94" y="27.60" width="1.68" height="1.49" fill="#000004"/><rect x="329.42" y="27.60" width="1.68" height="1.49" fill="#160b39"/><rect x="330.90" y="27.60" width="1.68" height="1.49" fill="#000004"/><rect x="332.39" y="27.60" width="1.68" height="1.49" fill="#420a68"/><rect x="333.87" y="27.60" width="1.68" height="1.49" fill="#310a5c"/><rect x="335.35" y="27.60" width="1.68" height="1.49" fill="#160b39"/><rect x="336.83" y="27.60" width="1.68" height="1.49" fill="#000004"/><rect x="225.68" y="28.90" width="3.16" height="1.49" fill="#000004"/><rect x="233.09" y="28.90" width="1.68" height="1.49" fill="#000004"/><rect x="236.06" y="28.90" width="1.68" height="1.49" fill="#000004"/><rect x="241.98" y="28.90" width="1.68" height="1.49" fill="#000004"/><rect x="250.88" y="28.90" width="1.68" height="1.49" fill="#310a5c"/><rect x="252.36" y="28.90" width="1.68" height="1.49" fill="#4c0c6b"/><rect x="253.84" y="28.90" width="1.68" height="1.49" fill="#7f1e6c"/><rect x="255.32" y="28.90" width="1.68" height="1.49" fill="#a32c61"/><rect x="256.80" y="28.90" width="1.68" height="1.49" fill="#c43c4e"/><rect x="258.29" y="28.90" width="1.68" height="1.49" fill="#c83f4b"/><rect x="259.77" y="28.90" width="1.68" height="1.49" fill="#e45a31"/><rect x="261.25" y="28.90" width="1.68" height="1.49" fill="#ef6c23"/><rect x="262.73" y="28.90" width="1.68" height="1.49" fill="#f37819"/><rect x="264.21" y="28.90" width="3.16" height="1.49" fill="#f78212"/><rect x="267.18" y="28.90" width="1.68" height="1.49" fill="#fa9407"/><rect x="268.66" y="28.90" width="1.68" height="1.49" fill="#fb9906"/><rect x="270.14" y="28.90" width="3.16" height="1.49" fill="#fa9407"/><rect x="273.11" y="28.90" width="3.16" height="1.49" fill="#fb9906"/><rect x="276.07" y="28.90" width="1.68" height="1.49" fill="#fa9407"/><rect x="277.55" y="28.90" width="1.68" height="1.49" fill="#f98e09"/><rect x="279.03" y="28.90" width="4.65" height="1.49" fill="#fb9906"/><rect x="283.48" y="28.90" width="3.16" height="1.49" fill="#fa9407"/><rect x="286.44" y="28.90" width="1.68" height="1.49" fill="#fb9906"/><rect x="287.93" y="28.90" width="1.68" height="1.49" fill="#fc9f07"/><rect x="289.41" y="28.90" width="1.68" height="1.49" fill="#fa9407"/><rect x="290.89" y="28.90" width="1.68" height="1.49" fill="#f8870e"/><rect x="292.37" y="28.90" width="1.68" height="1.49" fill="#f98e09"/><rect x="293.85" y="28.90" width="4.65" height="1.49" fill="#f8870e"/><rect x="298.30" y="28.90" width="1.68" height="1.49" fill="#f78212"/><rect x="299.78" y="28.90" width="1.68" height="1.49" fill="#f37819"/><rect x="301.26" y="28.90" width="1.68" height="1.49" fill="#f1731d"/><rect x="302.75" y="28.90" width="1.68" height="1.49" fill="#ef6c23"/><rect x="304.23" y="28.90" width="3.16" height="1.49" fill="#ec6726"/><rect x="307.19" y="28.90" width="1.68" height="1.49" fill="#e45a31"/><rect x="308.67" y="28.90" width="1.68" height="1.49" fill="#dd513a"/><rect x="310.16" y="28.90" width="1.68" height="1.49" fill="#d24644"/><rect x="311.64" y="28.90" width="1.68" height="1.49" fill="#c03a51"/><rect x="313.12" y="28.90" width="1.68" height="1.49" fill="#ad305d"/><rect x="314.60" y="28.90" width="1.68" height="1.49" fill="#982766"/><rect x="316.08" y="28.90" width="1.68" height="1.49" fill="#84206b"/><rect x="317.57" y="28.90" width="1.68" height="1.49" fill="#751b6e"/><rect x="319.05" y="28.90" width="1.68" height="1.49" fill="#5c126e"/><rect x="320.53" y="28.90" width="1.68" height="1.49" fill="#420a68"/><rect x="322.01" y="28.90" width="3.16" height="1.49" fill="#000004"/><rect x="324.98" y="28.90" width="1.68" height="1.49" fill="#160b39"/><rect x="326.46" y="28.90" width="1.68" height="1.49" fill="#420a68"/><rect x="327.94" y="28.90" width="1.68" height="1.49" fill="#000004"/><rect x="329.42" y="28.90" width="1.68" height="1.49" fill="#420a68"/><rect x="330.90" y="28.90" width="3.16" height="1.49" fill="#000004"/><rect x="333.87" y="28.90" width="1.68" height="1.49" fill="#5c126e"/><rect x="336.83" y="28.90" width="1.68" height="1.49" fill="#000004"/><rect x="338.31" y="28.90" width="1.68" height="1.49" fill="#160b39"/><rect x="227.16" y="30.20" width="1.68" height="1.49" fill="#000004"/><rect x="233.09" y="30.20" width="4.65" height="1.49" fill="#000004"/><rect x="247.91" y="30.20" width="1.68" height="1.49" fill="#000004"/><rect x="249.39" y="30.20" width="1.68" height="1.49" fill="#61136e"/><rect x="250.88" y="30.20" width="1.68" height="1.49" fill="#751b6e"/><rect x="252.36" y="30.20" width="1.68" height="1.49" fill="#a32c61"/><rect x="253.84" y="30.20" width="1.68" height="1.49" fill="#bc3754"/><rect x="255.32" y="30.20" width="1.68" height="1.49" fill="#cc4248"/><rect x="256.80" y="30.20" width="1.68" height="1.49" fill="#d94d3d"/><rect x="258.29" y="30.20" width="1.68" height="1.49" fill="#e45a31"/><rect x="259.77" y="30.20" width="1.68" height="1.49" fill="#ef6c23"/><rect x="261.25" y="30.20" width="1.68" height="1.49" fill="#f37819"/><rect x="262.73" y="30.20" width="3.16" height="1.49" fill="#f8870e"/><rect x="265.70" y="30.20" width="1.68" height="1.49" fill="#fb9906"/><rect x="267.18" y="30.20" width="1.68" height="1.49" fill="#fc9f07"/><rect x="268.66" y="30.20" width="1.68" height="1.49" fill="#fcac11"/><rect x="270.14" y="30.20" width="1.68" height="1.49" fill="#fc9f07"/><rect x="271.62" y="30.20" width="1.68" height="1.49" fill="#fcac11"/><rect x="273.11" y="30.20" width="1.68" height="1.49" fill="#fcb216"/><rect x="274.59" y="30.20" width="1.68" height="1.49" fill="#fc9f07"/><rect x="276.07" y="30.20" width="4.65" height="1.49" fill="#fcb216"/><rect x="280.52" y="30.20" width="1.68" height="1.49" fill="#fcac11"/><rect x="282.00" y="30.20" width="1.68" height="1.49" fill="#fcb216"/><rect x="283.48" y="30.20" width="1.68" height="1.49" fill="#fca50a"/><rect x="284.96" y="30.20" width="1.68" height="1.49" fill="#fc9f07"/><rect x="286.44" y="30.20" width="3.16" height="1.49" fill="#fca50a"/><rect x="289.41" y="30.20" width="1.68" height="1.49" fill="#fb9906"/><rect x="290.89" y="30.20" width="4.65" height="1.49" fill="#fc9f07"/><rect x="295.34" y="30.20" width="1.68" height="1.49" fill="#fa9407"/><rect x="296.82" y="30.20" width="1.68" height="1.49" fill="#fb9906"/><rect x="298.30" y="30.20" width="3.16" height="1.49" fill="#fa9407"/><rect x="301.26" y="30.20" width="1.68" height="1.49" fill="#f8870e"/><rect x="302.75" y="30.20" width="1.68" height="1.49" fill="#f57d15"/><rect x="304.23" y="30.20" width="1.68" height="1.49" fill="#f1731d"/><rect x="305.71" y="30.20" width="3.16" height="1.49" fill="#ef6c23"/><rect x="308.67" y="30.20" width="1.68" height="1.49" fill="#e75e2e"/><rect x="310.16" y="30.20" width="1.68" height="1.49" fill="#dd513a"/><rect x="311.64" y="30.20" width="1.68" height="1.49" fill="#d54a41"/><rect x="313.12" y="30.20" width="1.68" height="1.49" fill="#c43c4e"/><rect x="314.60" y="30.20" width="1.68" height="1.49" fill="#a82e5f"/><rect x="316.08" y="30.20" width="1.68" height="1.49" fill="#9d2964"/><rect x="317.57" y="30.20" width="1.68" height="1.49" fill="#8a226a"/><rect x="319.05" y="30.20" width="1.68" height="1.49" fill="#7a1d6d"/><rect x="320.53" y="30.20" width="1.68" height="1.49" fill="#65156e"/><rect x="323.49" y="30.20" width="1.68" height="1.49" fill="#4c0c6b"/><rect x="324.98" y="30.20" width="1.68" height="1.49" fill="#160b39"/><rect x="326.46" y="30.20" width="3.16" height="1.49" fill="#310a5c"/><rect x="329.42" y="30.20" width="3.16" height="1.49" fill="#000004"/><rect x="333.87" y="30.20" width="1.68" height="1.49" fill="#420a68"/><rect x="335.35" y="30.20" width="1.68" height="1.49" fill="#4c0c6b"/><rect x="336.83" y="30.20" width="1.68" height="1.49" fill="#420a68"/><rect x="338.31" y="30.20" width="1.68" height="1.49" fill="#160b39"/><rect x="339.80" y="30.20" width="1.68" height="1.49" fill="#000004"/><rect x="225.68" y="31.49" width="1.68" height="1.49" fill="#160b39"/><rect x="228.65" y="31.49" width="1.68" height="1.49" fill="#160b39"/><rect x="231.61" y="31.49" width="4.65" height="1.49" fill="#000004"/><rect x="237.54" y="31.49" width="1.68" height="1.49" fill="#000004"/><rect x="243.47" y="31.49" width="3.16" height="1.49" fill="#160b39"/><rect x="246.43" y="31.49" width="1.68" height="1.49" fill="#420a68"/><rect x="247.91" y="31.49" width="1.68" height="1.49" fill="#751b6e"/><rect x="249.39" y="31.49" width="1.68" height="1.49" fill="#8a226a"/><rect x="250.88" y="31.49" width="1.68" height="1.49" fill="#ad305d"/><rect x="252.36" y="31.49" width="1.68" height="1.49" fill="#c03a51"/><rect x="253.84" y="31.49" width="1.68" height="1.49" fill="#cc4248"/><rect x="255.32" y="31.49" width="1.68" height="1.49" fill="#dd513a"/><rect x="256.80" y="31.49" width="3.16" height="1.49" fill="#e75e2e"/><rect x="259.77" y="31.49" width="1.68" height="1.49" fill="#ec6726"/><rect x="261.25" y="31.49" width="1.68" height="1.49" fill="#f57d15"/><rect x="262.73" y="31.49" width="1.68" height="1.49" fill="#f78212"/><rect x="264.21" y="31.49" width="1.68" height="1.49" fill="#f98e09"/><rect x="265.70" y="31.49" width="1.68" height="1.49" fill="#fa9407"/><rect x="267.18" y="31.49" width="3.16" height="1.49" fill="#fca50a"/><rect x="270.14" y="31.49" width="4.65" height="1.49" fill="#fcac11"/><rect x="274.59" y="31.49" width="1.68" height="1.49" fill="#fbb81d"/><rect x="276.07" y="31.49" width="3.16" height="1.49" fill="#fcb216"/><rect x="279.03" y="31.49" width="1.68" height="1.49" fill="#fcac11"/><rect x="280.52" y="31.49" width="4.65" height="1.49" fill="#fcb216"/><rect x="284.96" y="31.49" width="4.65" height="1.49" fill="#fcac11"/><rect x="289.41" y="31.49" width="1.68" height="1.49" fill="#fb9906"/><rect x="290.89" y="31.49" width="1.68" height="1.49" fill="#fcac11"/><rect x="292.37" y="31.49" width="1.68" height="1.49" fill="#fca50a"/><rect x="293.85" y="31.49" width="3.16" height="1.49" fill="#fc9f07"/><rect x="296.82" y="31.49" width="1.68" height="1.49" fill="#fca50a"/><rect x="298.30" y="31.49" width="1.68" height="1.49" fill="#fc9f07"/><rect x="299.78" y="31.49" width="1.68" height="1.49" fill="#fb9906"/><rect x="301.26" y="31.49" width="3.16" height="1.49" fill="#fa9407"/><rect x="304.23" y="31.49" width="3.16" height="1.49" fill="#f57d15"/><rect x="307.19" y="31.49" width="1.68" height="1.49" fill="#f37819"/><rect x="308.67" y="31.49" width="1.68" height="1.49" fill="#f1731d"/><rect x="310.16" y="31.49" width="1.68" height="1.49" fill="#e75e2e"/><rect x="311.64" y="31.49" width="1.68" height="1.49" fill="#e05536"/><rect x="313.12" y="31.49" width="1.68" height="1.49" fill="#d24644"/><rect x="314.60" y="31.49" width="1.68" height="1.49" fill="#c43c4e"/><rect x="316.08" y="31.49" width="1.68" height="1.49" fill="#ad305d"/><rect x="317.57" y="31.49" width="1.68" height="1.49" fill="#982766"/><rect x="319.05" y="31.49" width="1.68" height="1.49" fill="#84206b"/><rect x="320.53" y="31.49" width="1.68" height="1.49" fill="#751b6e"/><rect x="322.01" y="31.49" width="1.68" height="1.49" fill="#71196e"/><rect x="323.49" y="31.49" width="1.68" height="1.49" fill="#420a68"/><rect x="324.98" y="31.49" width="1.68" height="1.49" fill="#310a5c"/><rect x="326.46" y="31.49" width="1.68" height="1.49" fill="#000004"/><rect x="327.94" y="31.49" width="1.68" height="1.49" fill="#160b39"/><rect x="329.42" y="31.49" width="1.68" height="1.49" fill="#310a5c"/><rect x="330.90" y="31.49" width="1.68" height="1.49" fill="#160b39"/><rect x="332.39" y="31.49" width="1.68" height="1.49" fill="#310a5c"/><rect x="333.87" y="31.49" width="3.16" height="1.49" fill="#160b39"/><rect x="336.83" y="31.49" width="1.68" height="1.49" fill="#420a68"/><rect x="338.31" y="31.49" width="4.65" height="1.49" fill="#000004"/><rect x="224.20" y="32.78" width="6.13" height="1.49" fill="#000004"/><rect x="230.13" y="32.78" width="1.68" height="1.49" fill="#160b39"/><rect x="231.61" y="32.78" width="7.61" height="1.49" fill="#000004"/><rect x="239.02" y="32.78" width="1.68" height="1.49" fill="#160b39"/><rect x="240.50" y="32.78" width="1.68" height="1.49" fill="#310a5c"/><rect x="241.98" y="32.78" width="1.68" height="1.49" fill="#000004"/><rect x="243.47" y="32.78" width="1.68" height="1.49" fill="#4c0c6b"/><rect x="244.95" y="32.78" width="1.68" height="1.49" fill="#61136e"/><rect x="246.43" y="32.78" width="1.68" height="1.49" fill="#7f1e6c"/><rect x="247.91" y="32.78" width="1.68" height="1.49" fill="#932667"/><rect x="249.39" y="32.78" width="1.68" height="1.49" fill="#9d2964"/><rect x="250.88" y="32.78" width="1.68" height="1.49" fill="#b1325a"/><rect x="252.36" y="32.78" width="3.16" height="1.49" fill="#c43c4e"/><rect x="255.32" y="32.78" width="1.68" height="1.49" fill="#d24644"/><rect x="256.80" y="32.78" width="1.68" height="1.49" fill="#d94d3d"/><rect x="258.29" y="32.78" width="1.68" height="1.49" fill="#dd513a"/><rect x="259.77" y="32.78" width="1.68" height="1.49" fill="#e05536"/><rect x="261.25" y="32.78" width="1.68" height="1.49" fill="#ef6c23"/><rect x="262.73" y="32.78" width="1.68" height="1.49" fill="#f78212"/><rect x="264.21" y="32.78" width="1.68" height="1.49" fill="#f8870e"/><rect x="265.70" y="32.78" width="1.68" height="1.49" fill="#fa9407"/><rect x="267.18" y="32.78" width="1.68" height="1.49" fill="#f8870e"/><rect x="268.66" y="32.78" width="1.68" height="1.49" fill="#fc9f07"/><rect x="270.14" y="32.78" width="1.68" height="1.49" fill="#fcb216"/><rect x="271.62" y="32.78" width="1.68" height="1.49" fill="#fca50a"/><rect x="273.11" y="32.78" width="1.68" height="1.49" fill="#fcac11"/><rect x="274.59" y="32.78" width="3.16" height="1.49" fill="#fbb81d"/><rect x="277.55" y="32.78" width="3.16" height="1.49" fill="#fbbe23"/><rect x="280.52" y="32.78" width="1.68" height="1.49" fill="#fac42a"/><rect x="282.00" y="32.78" width="3.16" height="1.49" fill="#fbbe23"/><rect x="284.96" y="32.78" width="1.68" height="1.49" fill="#fbb81d"/><rect x="286.44" y="32.78" width="1.68" height="1.49" fill="#fbbe23"/><rect x="287.93" y="32.78" width="1.68" height="1.49" fill="#fcb216"/><rect x="289.41" y="32.78" width="1.68" height="1.49" fill="#fbbe23"/><rect x="290.89" y="32.78" width="3.16" height="1.49" fill="#fbb81d"/><rect x="293.85" y="32.78" width="1.68" height="1.49" fill="#fcac11"/><rect x="295.34" y="32.78" width="4.65" height="1.49" fill="#fcb216"/><rect x="299.78" y="32.78" width="3.16" height="1.49" fill="#fc9f07"/><rect x="302.75" y="32.78" width="3.16" height="1.49" fill="#fb9906"/><rect x="305.71" y="32.78" width="3.16" height="1.49" fill="#f8870e"/><rect x="308.67" y="32.78" width="1.68" height="1.49" fill="#f78212"/><rect x="310.16" y="32.78" width="1.68" height="1.49" fill="#f57d15"/><rect x="311.64" y="32.78" width="1.68" height="1.49" fill="#ec6726"/><rect x="313.12" y="32.78" width="1.68" height="1.49" fill="#dd513a"/><rect x="314.60" y="32.78" width="1.68" height="1.49" fill="#d24644"/><rect x="316.08" y="32.78" width="1.68" height="1.49" fill="#c43c4e"/><rect x="317.57" y="32.78" width="1.68" height="1.49" fill="#b63458"/><rect x="319.05" y="32.78" width="1.68" height="1.49" fill="#a32c61"/><rect x="320.53" y="32.78" width="1.68" height="1.49" fill="#8a226a"/><rect x="322.01" y="32.78" width="1.68" height="1.49" fill="#71196e"/><rect x="323.49" y="32.78" width="1.68" height="1.49" fill="#65156e"/><rect x="324.98" y="32.78" width="1.68" height="1.49" fill="#310a5c"/><rect x="326.46" y="32.78" width="1.68" height="1.49" fill="#420a68"/><rect x="327.94" y="32.78" width="1.68" height="1.49" fill="#310a5c"/><rect x="330.90" y="32.78" width="3.16" height="1.49" fill="#000004"/><rect x="333.87" y="32.78" width="1.68" height="1.49" fill="#4c0c6b"/><rect x="335.35" y="32.78" width="1.68" height="1.49" fill="#420a68"/><rect x="336.83" y="32.78" width="1.68" height="1.49" fill="#160b39"/><rect x="339.80" y="32.78" width="1.68" height="1.49" fill="#160b39"/><rect x="225.68" y="34.08" width="1.68" height="1.49" fill="#160b39"/><rect x="228.65" y="34.08" width="1.68" height="1.49" fill="#000004"/><rect x="231.61" y="34.08" width="1.68" height="1.49" fill="#310a5c"/><rect x="233.09" y="34.08" width="7.61" height="1.49" fill="#000004"/><rect x="240.50" y="34.08" width="1.68" height="1.49" fill="#61136e"/><rect x="241.98" y="34.08" width="1.68" height="1.49" fill="#160b39"/><rect x="243.47" y="34.08" width="1.68" height="1.49" fill="#5c126e"/><rect x="244.95" y="34.08" width="1.68" height="1.49" fill="#65156e"/><rect x="246.43" y="34.08" width="1.68" height="1.49" fill="#7f1e6c"/><rect x="247.91" y="34.08" width="1.68" height="1.49" fill="#8a226a"/><rect x="249.39" y="34.08" width="1.68" height="1.49" fill="#932667"/><rect x="250.88" y="34.08" width="1.68" height="1.49" fill="#ad305d"/><rect x="252.36" y="34.08" width="1.68" height="1.49" fill="#bc3754"/><rect x="253.84" y="34.08" width="1.68" height="1.49" fill="#c43c4e"/><rect x="255.32" y="34.08" width="1.68" height="1.49" fill="#d24644"/><rect x="256.80" y="34.08" width="1.68" height="1.49" fill="#d94d3d"/><rect x="258.29" y="34.08" width="3.16" height="1.49" fill="#e05536"/><rect x="261.25" y="34.08" width="1.68" height="1.49" fill="#e75e2e"/><rect x="262.73" y="34.08" width="1.68" height="1.49" fill="#f1731d"/><rect x="264.21" y="34.08" width="1.68" height="1.49" fill="#ef6c23"/><rect x="265.70" y="34.08" width="1.68" height="1.49" fill="#f8870e"/><rect x="267.18" y="34.08" width="3.16" height="1.49" fill="#fa9407"/><rect x="270.14" y="34.08" width="1.68" height="1.49" fill="#fca50a"/><rect x="271.62" y="34.08" width="1.68" height="1.49" fill="#fc9f07"/><rect x="273.11" y="34.08" width="1.68" height="1.49" fill="#fcb216"/><rect x="274.59" y="34.08" width="1.68" height="1.49" fill="#fcac11"/><rect x="276.07" y="34.08" width="1.68" height="1.49" fill="#fcb216"/><rect x="277.55" y="34.08" width="1.68" height="1.49" fill="#fbb81d"/><rect x="279.03" y="34.08" width="1.68" height="1.49" fill="#fbbe23"/><rect x="280.52" y="34.08" width="1.68" height="1.49" fill="#fbb81d"/><rect x="282.00" y="34.08" width="1.68" height="1.49" fill="#fac42a"/><rect x="283.48" y="34.08" width="1.68" height="1.49" fill="#fbbe23"/><rect x="284.96" y="34.08" width="1.68" height="1.49" fill="#fac42a"/><rect x="286.44" y="34.08" width="3.16" height="1.49" fill="#fbbe23"/><rect x="289.41" y="34.08" width="3.16" height="1.49" fill="#fbb81d"/><rect x="292.37" y="34.08" width="3.16" height="1.49" fill="#fbbe23"/><rect x="295.34" y="34.08" width="1.68" height="1.49" fill="#fbb81d"/><rect x="296.82" y="34.08" width="1.68" height="1.49" fill="#fcb216"/><rect x="298.30" y="34.08" width="1.68" height="1.49" fill="#fbb81d"/><rect x="299.78" y="34.08" width="1.68" height="1.49" fill="#fcac11"/><rect x="301.26" y="34.08" width="1.68" height="1.49" fill="#fb9906"/><rect x="302.75" y="34.08" width="1.68" height="1.49" fill="#fca50a"/><rect x="304.23" y="34.08" width="4.65" height="1.49" fill="#fa9407"/><rect x="308.67" y="34.08" width="1.68" height="1.49" fill="#f8870e"/><rect x="310.16" y="34.08" width="1.68" height="1.49" fill="#f57d15"/><rect x="311.64" y="34.08" width="1.68" height="1.49" fill="#f37819"/><rect x="313.12" y="34.08" width="1.68" height="1.49" fill="#ec6726"/><rect x="314.60" y="34.08" width="1.68" height="1.49" fill="#e45a31"/><rect x="316.08" y="34.08" width="1.68" height="1.49" fill="#d54a41"/><rect x="317.57" y="34.08" width="1.68" height="1.49" fill="#c43c4e"/><rect x="319.05" y="34.08" width="1.68" height="1.49" fill="#b63458"/><rect x="320.53" y="34.08" width="1.68" height="1.49" fill="#982766"/><rect x="322.01" y="34.08" width="1.68" height="1.49" fill="#8f2469"/><rect x="323.49" y="34.08" width="1.68" height="1.49" fill="#7a1d6d"/><rect x="324.98" y="34.08" width="1.68" height="1.49" fill="#65156e"/><rect x="326.46" y="34.08" width="1.68" height="1.49" fill="#160b39"/><rect x="327.94" y="34.08" width="1.68" height="1.49" fill="#4c0c6b"/><rect x="329.42" y="34.08" width="6.13" height="1.49" fill="#160b39"/><rect x="335.35" y="34.08" width="1.68" height="1.49" fill="#310a5c"/><rect x="336.83" y="34.08" width="1.68" height="1.49" fill="#420a68"/><rect x="338.31" y="34.08" width="1.68" height="1.49" fill="#160b39"/><rect x="339.80" y="34.08" width="1.68" height="1.49" fill="#000004"/><rect x="350.17" y="34.08" width="1.68" height="1.49" fill="#000004"/><rect x="224.20" y="35.38" width="1.68" height="1.49" fill="#000004"/><rect x="225.68" y="35.38" width="1.68" height="1.49" fill="#160b39"/><rect x="228.65" y="35.38" width="3.16" height="1.49" fill="#000004"/><rect x="231.61" y="35.38" width="1.68" height="1.49" fill="#160b39"/><rect x="233.09" y="35.38" width="1.68" height="1.49" fill="#420a68"/><rect x="234.57" y="35.38" width="1.68" height="1.49" fill="#160b39"/><rect x="236.06" y="35.38" width="3.16" height="1.49" fill="#000004"/><rect x="239.02" y="35.38" width="1.68" height="1.49" fill="#160b39"/><rect x="240.50" y="35.38" width="1.68" height="1.49" fill="#310a5c"/><rect x="241.98" y="35.38" width="1.68" height="1.49" fill="#4c0c6b"/><rect x="243.47" y="35.38" width="1.68" height="1.49" fill="#160b39"/><rect x="244.95" y="35.38" width="1.68" height="1.49" fill="#5c126e"/><rect x="246.43" y="35.38" width="1.68" height="1.49" fill="#751b6e"/><rect x="247.91" y="35.38" width="1.68" height="1.49" fill="#84206b"/><rect x="249.39" y="35.38" width="1.68" height="1.49" fill="#8f2469"/><rect x="250.88" y="35.38" width="1.68" height="1.49" fill="#a32c61"/><rect x="252.36" y="35.38" width="1.68" height="1.49" fill="#a82e5f"/><rect x="253.84" y="35.38" width="1.68" height="1.49" fill="#b63458"/><rect x="255.32" y="35.38" width="1.68" height="1.49" fill="#c43c4e"/><rect x="256.80" y="35.38" width="1.68" height="1.49" fill="#cc4248"/><rect x="258.29" y="35.38" width="1.68" height="1.49" fill="#d24644"/><rect x="259.77" y="35.38" width="1.68" height="1.49" fill="#dd513a"/><rect x="261.25" y="35.38" width="1.68" height="1.49" fill="#e45a31"/><rect x="262.73" y="35.38" width="1.68" height="1.49" fill="#e75e2e"/><rect x="264.21" y="35.38" width="1.68" height="1.49" fill="#f1731d"/><rect x="265.70" y="35.38" width="1.68" height="1.49" fill="#f37819"/><rect x="267.18" y="35.38" width="1.68" height="1.49" fill="#f57d15"/><rect x="268.66" y="35.38" width="1.68" height="1.49" fill="#fa9407"/><rect x="270.14" y="35.38" width="1.68" height="1.49" fill="#fb9906"/><rect x="271.62" y="35.38" width="3.16" height="1.49" fill="#fc9f07"/><rect x="274.59" y="35.38" width="3.16" height="1.49" fill="#fcb216"/><rect x="277.55" y="35.38" width="1.68" height="1.49" fill="#fbb81d"/><rect x="279.03" y="35.38" width="1.68" height="1.49" fill="#fcb216"/><rect x="280.52" y="35.38" width="1.68" height="1.49" fill="#fbb81d"/><rect x="282.00" y="35.38" width="1.68" height="1.49" fill="#fac42a"/><rect x="283.48" y="35.38" width="3.16" height="1.49" fill="#fbbe23"/><rect x="286.44" y="35.38" width="6.13" height="1.49" fill="#fac42a"/><rect x="292.37" y="35.38" width="1.68" height="1.49" fill="#fbb81d"/><rect x="293.85" y="35.38" width="1.68" height="1.49" fill="#fbbe23"/><rect x="295.34" y="35.38" width="1.68" height="1.49" fill="#fbb81d"/><rect x="296.82" y="35.38" width="3.16" height="1.49" fill="#fac42a"/><rect x="299.78" y="35.38" width="1.68" height="1.49" fill="#fbb81d"/><rect x="301.26" y="35.38" width="3.16" height="1.49" fill="#fcb216"/><rect x="304.23" y="35.38" width="1.68" height="1.49" fill="#fcac11"/><rect x="305.71" y="35.38" width="1.68" height="1.49" fill="#fca50a"/><rect x="307.19" y="35.38" width="3.16" height="1.49" fill="#fc9f07"/><rect x="310.16" y="35.38" width="1.68" height="1.49" fill="#f98e09"/><rect x="311.64" y="35.38" width="1.68" height="1.49" fill="#f37819"/><rect x="313.12" y="35.38" width="1.68" height="1.49" fill="#ef6c23"/><rect x="314.60" y="35.38" width="1.68" height="1.49" fill="#ea632a"/><rect x="316.08" y="35.38" width="1.68" height="1.49" fill="#dd513a"/><rect x="317.57" y="35.38" width="1.68" height="1.49" fill="#d24644"/><rect x="319.05" y="35.38" width="1.68" height="1.49" fill="#c03a51"/><rect x="320.53" y="35.38" width="1.68" height="1.49" fill="#b1325a"/><rect x="322.01" y="35.38" width="1.68" height="1.49" fill="#9d2964"/><rect x="323.49" y="35.38" width="1.68" height="1.49" fill="#8a226a"/><rect x="324.98" y="35.38" width="1.68" height="1.49" fill="#71196e"/><rect x="326.46" y="35.38" width="1.68" height="1.49" fill="#61136e"/><rect x="327.94" y="35.38" width="1.68" height="1.49" fill="#000004"/><rect x="329.42" y="35.38" width="1.68" height="1.49" fill="#420a68"/><rect x="330.90" y="35.38" width="3.16" height="1.49" fill="#000004"/><rect x="333.87" y="35.38" width="1.68" height="1.49" fill="#5c126e"/><rect x="335.35" y="35.38" width="1.68" height="1.49" fill="#000004"/><rect x="336.83" y="35.38" width="3.16" height="1.49" fill="#160b39"/><rect x="341.28" y="35.38" width="3.16" height="1.49" fill="#000004"/><rect x="344.24" y="35.38" width="1.68" height="1.49" fill="#160b39"/><rect x="224.20" y="36.67" width="1.68" height="1.49" fill="#310a5c"/><rect x="228.65" y="36.67" width="1.68" height="1.49" fill="#160b39"/><rect x="230.13" y="36.67" width="3.16" height="1.49" fill="#000004"/><rect x="233.09" y="36.67" width="1.68" height="1.49" fill="#160b39"/><rect x="234.57" y="36.67" width="3.16" height="1.49" fill="#000004"/><rect x="240.50" y="36.67" width="1.68" height="1.49" fill="#160b39"/><rect x="241.98" y="36.67" width="1.68" height="1.49" fill="#5c126e"/><rect x="243.47" y="36.67" width="1.68" height="1.49" fill="#310a5c"/><rect x="244.95" y="36.67" width="1.68" height="1.49" fill="#5c126e"/><rect x="246.43" y="36.67" width="1.68" height="1.49" fill="#6a176e"/><rect x="247.91" y="36.67" width="1.68" height="1.49" fill="#751b6e"/><rect x="249.39" y="36.67" width="1.68" height="1.49" fill="#84206b"/><rect x="250.88" y="36.67" width="1.68" height="1.49" fill="#932667"/><rect x="252.36" y="36.67" width="1.68" height="1.49" fill="#9d2964"/><rect x="253.84" y="36.67" width="1.68" height="1.49" fill="#ad305d"/><rect x="255.32" y="36.67" width="1.68" height="1.49" fill="#b63458"/><rect x="256.80" y="36.67" width="1.68" height="1.49" fill="#c83f4b"/><rect x="258.29" y="36.67" width="3.16" height="1.49" fill="#cc4248"/><rect x="261.25" y="36.67" width="1.68" height="1.49" fill="#d94d3d"/><rect x="262.73" y="36.67" width="1.68" height="1.49" fill="#dd513a"/><rect x="264.21" y="36.67" width="1.68" height="1.49" fill="#e45a31"/><rect x="265.70" y="36.67" width="1.68" height="1.49" fill="#ea632a"/><rect x="267.18" y="36.67" width="3.16" height="1.49" fill="#f57d15"/><rect x="270.14" y="36.67" width="1.68" height="1.49" fill="#f78212"/><rect x="271.62" y="36.67" width="1.68" height="1.49" fill="#f98e09"/><rect x="273.11" y="36.67" width="1.68" height="1.49" fill="#fa9407"/><rect x="274.59" y="36.67" width="1.68" height="1.49" fill="#fb9906"/><rect x="276.07" y="36.67" width="1.68" height="1.49" fill="#fcac11"/><rect x="277.55" y="36.67" width="1.68" height="1.49" fill="#fc9f07"/><rect x="279.03" y="36.67" width="1.68" height="1.49" fill="#fcac11"/><rect x="280.52" y="36.67" width="3.16" height="1.49" fill="#fbb81d"/><rect x="283.48" y="36.67" width="1.68" height="1.49" fill="#fcac11"/><rect x="284.96" y="36.67" width="1.68" height="1.49" fill="#fbbe23"/><rect x="286.44" y="36.67" width="1.68" height="1.49" fill="#fbb81d"/><rect x="287.93" y="36.67" width="1.68" height="1.49" fill="#fbbe23"/><rect x="289.41" y="36.67" width="1.68" height="1.49" fill="#fbb81d"/><rect x="290.89" y="36.67" width="4.65" height="1.49" fill="#fac42a"/><rect x="295.34" y="36.67" width="1.68" height="1.49" fill="#fbbe23"/><rect x="296.82" y="36.67" width="1.68" height="1.49" fill="#fbb81d"/><rect x="298.30" y="36.67" width="3.16" height="1.49" fill="#fac42a"/><rect x="301.26" y="36.67" width="1.68" height="1.49" fill="#fcb216"/><rect x="302.75" y="36.67" width="1.68" height="1.49" fill="#fbb81d"/><rect x="304.23" y="36.67" width="4.65" height="1.49" fill="#fca50a"/><rect x="308.67" y="36.67" width="3.16" height="1.49" fill="#fb9906"/><rect x="311.64" y="36.67" width="1.68" height="1.49" fill="#f98e09"/><rect x="313.12" y="36.67" width="1.68" height="1.49" fill="#f57d15"/><rect x="314.60" y="36.67" width="1.68" height="1.49" fill="#ef6c23"/><rect x="316.08" y="36.67" width="1.68" height="1.49" fill="#ea632a"/><rect x="317.57" y="36.67" width="1.68" height="1.49" fill="#dd513a"/><rect x="319.05" y="36.67" width="1.68" height="1.49" fill="#d24644"/><rect x="320.53" y="36.67" width="1.68" height="1.49" fill="#c03a51"/><rect x="322.01" y="36.67" width="1.68" height="1.49" fill="#a82e5f"/><rect x="323.49" y="36.67" width="1.68" height="1.49" fill="#a32c61"/><rect x="324.98" y="36.67" width="1.68" height="1.49" fill="#8a226a"/><rect x="326.46" y="36.67" width="1.68" height="1.49" fill="#71196e"/><rect x="327.94" y="36.67" width="1.68" height="1.49" fill="#61136e"/><rect x="329.42" y="36.67" width="1.68" height="1.49" fill="#6a176e"/><rect x="330.90" y="36.67" width="1.68" height="1.49" fill="#5c126e"/><rect x="332.39" y="36.67" width="1.68" height="1.49" fill="#160b39"/><rect x="333.87" y="36.67" width="1.68" height="1.49" fill="#420a68"/><rect x="335.35" y="36.67" width="1.68" height="1.49" fill="#000004"/><rect x="336.83" y="36.67" width="1.68" height="1.49" fill="#310a5c"/><rect x="338.31" y="36.67" width="1.68" height="1.49" fill="#4c0c6b"/><rect x="339.80" y="36.67" width="1.68" height="1.49" fill="#000004"/><rect x="341.28" y="36.67" width="1.68" height="1.49" fill="#160b39"/><rect x="345.72" y="36.67" width="1.68" height="1.49" fill="#000004"/><rect x="224.20" y="37.96" width="1.68" height="1.49" fill="#160b39"/><rect x="225.68" y="37.96" width="1.68" height="1.49" fill="#310a5c"/><rect x="227.16" y="37.96" width="1.68" height="1.49" fill="#000004"/><rect x="228.65" y="37.96" width="1.68" height="1.49" fill="#160b39"/><rect x="231.61" y="37.96" width="3.16" height="1.49" fill="#000004"/><rect x="234.57" y="37.96" width="1.68" height="1.49" fill="#310a5c"/><rect x="236.06" y="37.96" width="1.68" height="1.49" fill="#000004"/><rect x="237.54" y="37.96" width="1.68" height="1.49" fill="#160b39"/><rect x="239.02" y="37.96" width="1.68" height="1.49" fill="#420a68"/><rect x="240.50" y="37.96" width="1.68" height="1.49" fill="#310a5c"/><rect x="241.98" y="37.96" width="1.68" height="1.49" fill="#420a68"/><rect x="243.47" y="37.96" width="1.68" height="1.49" fill="#310a5c"/><rect x="244.95" y="37.96" width="3.16" height="1.49" fill="#61136e"/><rect x="247.91" y="37.96" width="1.68" height="1.49" fill="#6a176e"/><rect x="249.39" y="37.96" width="1.68" height="1.49" fill="#7f1e6c"/><rect x="250.88" y="37.96" width="1.68" height="1.49" fill="#8a226a"/><rect x="252.36" y="37.96" width="1.68" height="1.49" fill="#8f2469"/><rect x="253.84" y="37.96" width="1.68" height="1.49" fill="#a32c61"/><rect x="255.32" y="37.96" width="1.68" height="1.49" fill="#a82e5f"/><rect x="256.80" y="37.96" width="1.68" height="1.49" fill="#ad305d"/><rect x="258.29" y="37.96" width="3.16" height="1.49" fill="#bc3754"/><rect x="261.25" y="37.96" width="1.68" height="1.49" fill="#cc4248"/><rect x="262.73" y="37.96" width="1.68" height="1.49" fill="#d94d3d"/><rect x="264.21" y="37.96" width="1.68" height="1.49" fill="#e05536"/><rect x="265.70" y="37.96" width="1.68" height="1.49" fill="#e75e2e"/><rect x="267.18" y="37.96" width="1.68" height="1.49" fill="#ec6726"/><rect x="268.66" y="37.96" width="1.68" height="1.49" fill="#f1731d"/><rect x="270.14" y="37.96" width="1.68" height="1.49" fill="#f57d15"/><rect x="271.62" y="37.96" width="1.68" height="1.49" fill="#f37819"/><rect x="273.11" y="37.96" width="1.68" height="1.49" fill="#f98e09"/><rect x="274.59" y="37.96" width="1.68" height="1.49" fill="#fa9407"/><rect x="276.07" y="37.96" width="1.68" height="1.49" fill="#fc9f07"/><rect x="277.55" y="37.96" width="1.68" height="1.49" fill="#fb9906"/><rect x="279.03" y="37.96" width="1.68" height="1.49" fill="#fcac11"/><rect x="280.52" y="37.96" width="1.68" height="1.49" fill="#fca50a"/><rect x="282.00" y="37.96" width="3.16" height="1.49" fill="#fcb216"/><rect x="284.96" y="37.96" width="1.68" height="1.49" fill="#fca50a"/><rect x="286.44" y="37.96" width="1.68" height="1.49" fill="#fbb81d"/><rect x="287.93" y="37.96" width="1.68" height="1.49" fill="#fbbe23"/><rect x="289.41" y="37.96" width="1.68" height="1.49" fill="#fac42a"/><rect x="290.89" y="37.96" width="1.68" height="1.49" fill="#fbbe23"/><rect x="292.37" y="37.96" width="1.68" height="1.49" fill="#fbb81d"/><rect x="293.85" y="37.96" width="1.68" height="1.49" fill="#fac42a"/><rect x="295.34" y="37.96" width="1.68" height="1.49" fill="#fbbe23"/><rect x="296.82" y="37.96" width="3.16" height="1.49" fill="#fac42a"/><rect x="299.78" y="37.96" width="1.68" height="1.49" fill="#fbbe23"/><rect x="301.26" y="37.96" width="1.68" height="1.49" fill="#fbb81d"/><rect x="302.75" y="37.96" width="1.68" height="1.49" fill="#fcb216"/><rect x="304.23" y="37.96" width="1.68" height="1.49" fill="#fca50a"/><rect x="305.71" y="37.96" width="3.16" height="1.49" fill="#fcb216"/><rect x="308.67" y="37.96" width="1.68" height="1.49" fill="#fcac11"/><rect x="310.16" y="37.96" width="1.68" height="1.49" fill="#fc9f07"/><rect x="311.64" y="37.96" width="1.68" height="1.49" fill="#fb9906"/><rect x="313.12" y="37.96" width="1.68" height="1.49" fill="#f78212"/><rect x="314.60" y="37.96" width="1.68" height="1.49" fill="#f37819"/><rect x="316.08" y="37.96" width="1.68" height="1.49" fill="#ec6726"/><rect x="317.57" y="37.96" width="1.68" height="1.49" fill="#e05536"/><rect x="319.05" y="37.96" width="1.68" height="1.49" fill="#d54a41"/><rect x="320.53" y="37.96" width="1.68" height="1.49" fill="#c43c4e"/><rect x="322.01" y="37.96" width="1.68" height="1.49" fill="#b63458"/><rect x="323.49" y="37.96" width="1.68" height="1.49" fill="#a82e5f"/><rect x="324.98" y="37.96" width="1.68" height="1.49" fill="#932667"/><rect x="326.46" y="37.96" width="1.68" height="1.49" fill="#7a1d6d"/><rect x="327.94" y="37.96" width="1.68" height="1.49" fill="#6a176e"/><rect x="329.42" y="37.96" width="1.68" height="1.49" fill="#000004"/><rect x="330.90" y="37.96" width="1.68" height="1.49" fill="#310a5c"/><rect x="333.87" y="37.96" width="1.68" height="1.49" fill="#160b39"/><rect x="335.35" y="37.96" width="1.68" height="1.49" fill="#310a5c"/><rect x="336.83" y="37.96" width="1.68" height="1.49" fill="#000004"/><rect x="338.31" y="37.96" width="1.68" height="1.49" fill="#160b39"/><rect x="341.28" y="37.96" width="1.68" height="1.49" fill="#420a68"/><rect x="342.76" y="37.96" width="4.65" height="1.49" fill="#000004"/><rect x="350.17" y="37.96" width="1.68" height="1.49" fill="#000004"/><rect x="367.95" y="37.96" width="1.68" height="1.49" fill="#000004"/><rect x="224.20" y="39.26" width="1.68" height="1.49" fill="#310a5c"/><rect x="225.68" y="39.26" width="1.68" height="1.49" fill="#160b39"/><rect x="227.16" y="39.26" width="1.68" height="1.49" fill="#4c0c6b"/><rect x="231.61" y="39.26" width="1.68" height="1.49" fill="#420a68"/><rect x="233.09" y="39.26" width="1.68" height="1.49" fill="#000004"/><rect x="234.57" y="39.26" width="3.16" height="1.49" fill="#420a68"/><rect x="237.54" y="39.26" width="1.68" height="1.49" fill="#160b39"/><rect x="239.02" y="39.26" width="1.68" height="1.49" fill="#000004"/><rect x="241.98" y="39.26" width="1.68" height="1.49" fill="#4c0c6b"/><rect x="243.47" y="39.26" width="3.16" height="1.49" fill="#310a5c"/><rect x="246.43" y="39.26" width="1.68" height="1.49" fill="#5c126e"/><rect x="247.91" y="39.26" width="3.16" height="1.49" fill="#61136e"/><rect x="250.88" y="39.26" width="1.68" height="1.49" fill="#751b6e"/><rect x="252.36" y="39.26" width="1.68" height="1.49" fill="#7f1e6c"/><rect x="253.84" y="39.26" width="1.68" height="1.49" fill="#8a226a"/><rect x="255.32" y="39.26" width="1.68" height="1.49" fill="#932667"/><rect x="256.80" y="39.26" width="1.68" height="1.49" fill="#ad305d"/><rect x="258.29" y="39.26" width="1.68" height="1.49" fill="#9d2964"/><rect x="259.77" y="39.26" width="1.68" height="1.49" fill="#b1325a"/><rect x="261.25" y="39.26" width="1.68" height="1.49" fill="#c03a51"/><rect x="262.73" y="39.26" width="1.68" height="1.49" fill="#cc4248"/><rect x="264.21" y="39.26" width="3.16" height="1.49" fill="#d94d3d"/><rect x="267.18" y="39.26" width="1.68" height="1.49" fill="#e75e2e"/><rect x="268.66" y="39.26" width="1.68" height="1.49" fill="#e05536"/><rect x="270.14" y="39.26" width="1.68" height="1.49" fill="#ec6726"/><rect x="271.62" y="39.26" width="1.68" height="1.49" fill="#f37819"/><rect x="273.11" y="39.26" width="3.16" height="1.49" fill="#f57d15"/><rect x="276.07" y="39.26" width="3.16" height="1.49" fill="#f8870e"/><rect x="279.03" y="39.26" width="1.68" height="1.49" fill="#fa9407"/><rect x="280.52" y="39.26" width="1.68" height="1.49" fill="#fb9906"/><rect x="282.00" y="39.26" width="3.16" height="1.49" fill="#fca50a"/><rect x="284.96" y="39.26" width="4.65" height="1.49" fill="#fcb216"/><rect x="289.41" y="39.26" width="1.68" height="1.49" fill="#fac42a"/><rect x="290.89" y="39.26" width="1.68" height="1.49" fill="#fbbe23"/><rect x="292.37" y="39.26" width="1.68" height="1.49" fill="#fcb216"/><rect x="293.85" y="39.26" width="1.68" height="1.49" fill="#fac42a"/><rect x="295.34" y="39.26" width="1.68" height="1.49" fill="#fbbe23"/><rect x="296.82" y="39.26" width="1.68" height="1.49" fill="#fac42a"/><rect x="298.30" y="39.26" width="1.68" height="1.49" fill="#fbbe23"/><rect x="299.78" y="39.26" width="1.68" height="1.49" fill="#fcb216"/><rect x="301.26" y="39.26" width="1.68" height="1.49" fill="#fbb81d"/><rect x="302.75" y="39.26" width="4.65" height="1.49" fill="#fcac11"/><rect x="307.19" y="39.26" width="1.68" height="1.49" fill="#fbb81d"/><rect x="308.67" y="39.26" width="1.68" height="1.49" fill="#fcac11"/><rect x="310.16" y="39.26" width="1.68" height="1.49" fill="#fca50a"/><rect x="311.64" y="39.26" width="1.68" height="1.49" fill="#fb9906"/><rect x="313.12" y="39.26" width="1.68" height="1.49" fill="#f8870e"/><rect x="314.60" y="39.26" width="1.68" height="1.49" fill="#f78212"/><rect x="316.08" y="39.26" width="1.68" height="1.49" fill="#f1731d"/><rect x="317.57" y="39.26" width="1.68" height="1.49" fill="#e75e2e"/><rect x="319.05" y="39.26" width="1.68" height="1.49" fill="#dd513a"/><rect x="320.53" y="39.26" width="1.68" height="1.49" fill="#d24644"/><rect x="322.01" y="39.26" width="1.68" height="1.49" fill="#c43c4e"/><rect x="323.49" y="39.26" width="1.68" height="1.49" fill="#b63458"/><rect x="324.98" y="39.26" width="1.68" height="1.49" fill="#9d2964"/><rect x="326.46" y="39.26" width="1.68" height="1.49" fill="#8a226a"/><rect x="327.94" y="39.26" width="1.68" height="1.49" fill="#7a1d6d"/><rect x="329.42" y="39.26" width="1.68" height="1.49" fill="#5c126e"/><rect x="330.90" y="39.26" width="1.68" height="1.49" fill="#71196e"/><rect x="332.39" y="39.26" width="6.13" height="1.49" fill="#160b39"/><rect x="338.31" y="39.26" width="1.68" height="1.49" fill="#000004"/><rect x="341.28" y="39.26" width="1.68" height="1.49" fill="#000004"/><rect x="342.76" y="39.26" width="1.68" height="1.49" fill="#310a5c"/><rect x="344.24" y="39.26" width="1.68" height="1.49" fill="#000004"/><rect x="347.21" y="39.26" width="1.68" height="1.49" fill="#000004"/><rect x="350.17" y="39.26" width="1.68" height="1.49" fill="#000004"/><rect x="224.20" y="40.55" width="1.68" height="1.49" fill="#310a5c"/><rect x="227.16" y="40.55" width="1.68" height="1.49" fill="#000004"/><rect x="228.65" y="40.55" width="1.68" height="1.49" fill="#420a68"/><rect x="231.61" y="40.55" width="1.68" height="1.49" fill="#160b39"/><rect x="233.09" y="40.55" width="1.68" height="1.49" fill="#000004"/><rect x="234.57" y="40.55" width="1.68" height="1.49" fill="#420a68"/><rect x="237.54" y="40.55" width="1.68" height="1.49" fill="#000004"/><rect x="239.02" y="40.55" width="1.68" height="1.49" fill="#160b39"/><rect x="240.50" y="40.55" width="1.68" height="1.49" fill="#310a5c"/><rect x="241.98" y="40.55" width="1.68" height="1.49" fill="#000004"/><rect x="243.47" y="40.55" width="1.68" height="1.49" fill="#310a5c"/><rect x="244.95" y="40.55" width="1.68" height="1.49" fill="#000004"/><rect x="246.43" y="40.55" width="1.68" height="1.49" fill="#5c126e"/><rect x="247.91" y="40.55" width="1.68" height="1.49" fill="#751b6e"/><rect x="249.39" y="40.55" width="1.68" height="1.49" fill="#61136e"/><rect x="250.88" y="40.55" width="1.68" height="1.49" fill="#6a176e"/><rect x="252.36" y="40.55" width="1.68" height="1.49" fill="#751b6e"/><rect x="253.84" y="40.55" width="1.68" height="1.49" fill="#7a1d6d"/><rect x="255.32" y="40.55" width="1.68" height="1.49" fill="#8a226a"/><rect x="256.80" y="40.55" width="1.68" height="1.49" fill="#8f2469"/><rect x="258.29" y="40.55" width="1.68" height="1.49" fill="#982766"/><rect x="259.77" y="40.55" width="1.68" height="1.49" fill="#a32c61"/><rect x="261.25" y="40.55" width="1.68" height="1.49" fill="#b63458"/><rect x="262.73" y="40.55" width="1.68" height="1.49" fill="#c03a51"/><rect x="264.21" y="40.55" width="1.68" height="1.49" fill="#c43c4e"/><rect x="265.70" y="40.55" width="1.68" height="1.49" fill="#c83f4b"/><rect x="267.18" y="40.55" width="1.68" height="1.49" fill="#d54a41"/><rect x="268.66" y="40.55" width="1.68" height="1.49" fill="#dd513a"/><rect x="270.14" y="40.55" width="4.65" height="1.49" fill="#ea632a"/><rect x="274.59" y="40.55" width="1.68" height="1.49" fill="#f37819"/><rect x="276.07" y="40.55" width="3.16" height="1.49" fill="#f78212"/><rect x="279.03" y="40.55" width="1.68" height="1.49" fill="#fa9407"/><rect x="280.52" y="40.55" width="1.68" height="1.49" fill="#f98e09"/><rect x="282.00" y="40.55" width="1.68" height="1.49" fill="#fb9906"/><rect x="283.48" y="40.55" width="1.68" height="1.49" fill="#fc9f07"/><rect x="284.96" y="40.55" width="1.68" height="1.49" fill="#fca50a"/><rect x="286.44" y="40.55" width="3.16" height="1.49" fill="#fcac11"/><rect x="289.41" y="40.55" width="1.68" height="1.49" fill="#fbb81d"/><rect x="290.89" y="40.55" width="3.16" height="1.49" fill="#fcb216"/><rect x="293.85" y="40.55" width="1.68" height="1.49" fill="#fbbe23"/><rect x="295.34" y="40.55" width="1.68" height="1.49" fill="#fcb216"/><rect x="296.82" y="40.55" width="1.68" height="1.49" fill="#fbb81d"/><rect x="298.30" y="40.55" width="3.16" height="1.49" fill="#fbbe23"/><rect x="301.26" y="40.55" width="3.16" height="1.49" fill="#fcb216"/><rect x="304.23" y="40.55" width="1.68" height="1.49" fill="#fbb81d"/><rect x="305.71" y="40.55" width="1.68" height="1.49" fill="#fcac11"/><rect x="307.19" y="40.55" width="1.68" height="1.49" fill="#fcb216"/><rect x="308.67" y="40.55" width="1.68" height="1.49" fill="#fca50a"/><rect x="310.16" y="40.55" width="1.68" height="1.49" fill="#fcac11"/><rect x="311.64" y="40.55" width="3.16" height="1.49" fill="#fa9407"/><rect x="314.60" y="40.55" width="1.68" height="1.49" fill="#f8870e"/><rect x="316.08" y="40.55" width="1.68" height="1.49" fill="#f37819"/><rect x="317.57" y="40.55" width="1.68" height="1.49" fill="#ea632a"/><rect x="319.05" y="40.55" width="1.68" height="1.49" fill="#e05536"/><rect x="320.53" y="40.55" width="3.16" height="1.49" fill="#d24644"/><rect x="323.49" y="40.55" width="1.68" height="1.49" fill="#b1325a"/><rect x="324.98" y="40.55" width="1.68" height="1.49" fill="#a32c61"/><rect x="326.46" y="40.55" width="1.68" height="1.49" fill="#982766"/><rect x="327.94" y="40.55" width="1.68" height="1.49" fill="#7a1d6d"/><rect x="329.42" y="40.55" width="1.68" height="1.49" fill="#61136e"/><rect x="330.90" y="40.55" width="3.16" height="1.49" fill="#4c0c6b"/><rect x="333.87" y="40.55" width="4.65" height="1.49" fill="#420a68"/><rect x="341.28" y="40.55" width="4.65" height="1.49" fill="#000004"/><rect x="345.72" y="40.55" width="1.68" height="1.49" fill="#160b39"/><rect x="347.21" y="40.55" width="1.68" height="1.49" fill="#000004"/><rect x="224.20" y="41.85" width="6.13" height="1.49" fill="#000004"/><rect x="230.13" y="41.85" width="3.16" height="1.49" fill="#160b39"/><rect x="233.09" y="41.85" width="1.68" height="1.49" fill="#000004"/><rect x="234.57" y="41.85" width="1.68" height="1.49" fill="#420a68"/><rect x="236.06" y="41.85" width="6.13" height="1.49" fill="#000004"/><rect x="241.98" y="41.85" width="1.68" height="1.49" fill="#420a68"/><rect x="243.47" y="41.85" width="1.68" height="1.49" fill="#6a176e"/><rect x="244.95" y="41.85" width="1.68" height="1.49" fill="#420a68"/><rect x="246.43" y="41.85" width="1.68" height="1.49" fill="#310a5c"/><rect x="247.91" y="41.85" width="1.68" height="1.49" fill="#000004"/><rect x="249.39" y="41.85" width="1.68" height="1.49" fill="#160b39"/><rect x="250.88" y="41.85" width="1.68" height="1.49" fill="#000004"/><rect x="252.36" y="41.85" width="3.16" height="1.49" fill="#61136e"/><rect x="255.32" y="41.85" width="1.68" height="1.49" fill="#751b6e"/><rect x="256.80" y="41.85" width="1.68" height="1.49" fill="#7f1e6c"/><rect x="258.29" y="41.85" width="1.68" height="1.49" fill="#7a1d6d"/><rect x="259.77" y="41.85" width="3.16" height="1.49" fill="#8f2469"/><rect x="262.73" y="41.85" width="1.68" height="1.49" fill="#a82e5f"/><rect x="264.21" y="41.85" width="1.68" height="1.49" fill="#ad305d"/><rect x="265.70" y="41.85" width="1.68" height="1.49" fill="#c03a51"/><rect x="267.18" y="41.85" width="1.68" height="1.49" fill="#c83f4b"/><rect x="268.66" y="41.85" width="1.68" height="1.49" fill="#cc4248"/><rect x="270.14" y="41.85" width="1.68" height="1.49" fill="#d24644"/><rect x="271.62" y="41.85" width="1.68" height="1.49" fill="#e45a31"/><rect x="273.11" y="41.85" width="1.68" height="1.49" fill="#e75e2e"/><rect x="274.59" y="41.85" width="3.16" height="1.49" fill="#ef6c23"/><rect x="277.55" y="41.85" width="3.16" height="1.49" fill="#f78212"/><rect x="280.52" y="41.85" width="3.16" height="1.49" fill="#f98e09"/><rect x="283.48" y="41.85" width="1.68" height="1.49" fill="#fa9407"/><rect x="284.96" y="41.85" width="3.16" height="1.49" fill="#fb9906"/><rect x="287.93" y="41.85" width="1.68" height="1.49" fill="#fc9f07"/><rect x="289.41" y="41.85" width="1.68" height="1.49" fill="#fcb216"/><rect x="290.89" y="41.85" width="1.68" height="1.49" fill="#fcac11"/><rect x="292.37" y="41.85" width="1.68" height="1.49" fill="#fca50a"/><rect x="293.85" y="41.85" width="1.68" height="1.49" fill="#fcb216"/><rect x="295.34" y="41.85" width="1.68" height="1.49" fill="#fcac11"/><rect x="296.82" y="41.85" width="1.68" height="1.49" fill="#fcb216"/><rect x="298.30" y="41.85" width="3.16" height="1.49" fill="#fbb81d"/><rect x="301.26" y="41.85" width="1.68" height="1.49" fill="#fbbe23"/><rect x="302.75" y="41.85" width="1.68" height="1.49" fill="#fbb81d"/><rect x="304.23" y="41.85" width="3.16" height="1.49" fill="#fcb216"/><rect x="307.19" y="41.85" width="3.16" height="1.49" fill="#fcac11"/><rect x="310.16" y="41.85" width="1.68" height="1.49" fill="#fcb216"/><rect x="311.64" y="41.85" width="3.16" height="1.49" fill="#fc9f07"/><rect x="314.60" y="41.85" width="1.68" height="1.49" fill="#f8870e"/><rect x="316.08" y="41.85" width="1.68" height="1.49" fill="#f78212"/><rect x="317.57" y="41.85" width="1.68" height="1.49" fill="#ea632a"/><rect x="319.05" y="41.85" width="1.68" height="1.49" fill="#e75e2e"/><rect x="320.53" y="41.85" width="1.68" height="1.49" fill="#dd513a"/><rect x="322.01" y="41.85" width="1.68" height="1.49" fill="#d94d3d"/><rect x="323.49" y="41.85" width="1.68" height="1.49" fill="#c83f4b"/><rect x="324.98" y="41.85" width="1.68" height="1.49" fill="#b1325a"/><rect x="326.46" y="41.85" width="1.68" height="1.49" fill="#9d2964"/><rect x="327.94" y="41.85" width="1.68" height="1.49" fill="#8a226a"/><rect x="329.42" y="41.85" width="1.68" height="1.49" fill="#65156e"/><rect x="330.90" y="41.85" width="1.68" height="1.49" fill="#751b6e"/><rect x="332.39" y="41.85" width="1.68" height="1.49" fill="#61136e"/><rect x="333.87" y="41.85" width="1.68" height="1.49" fill="#5c126e"/><rect x="335.35" y="41.85" width="1.68" height="1.49" fill="#61136e"/><rect x="336.83" y="41.85" width="1.68" height="1.49" fill="#160b39"/><rect x="338.31" y="41.85" width="1.68" height="1.49" fill="#000004"/><rect x="339.80" y="41.85" width="1.68" height="1.49" fill="#310a5c"/><rect x="341.28" y="41.85" width="3.16" height="1.49" fill="#000004"/><rect x="345.72" y="41.85" width="1.68" height="1.49" fill="#310a5c"/><rect x="347.21" y="41.85" width="1.68" height="1.49" fill="#160b39"/><rect x="224.20" y="43.14" width="1.68" height="1.49" fill="#000004"/><rect x="225.68" y="43.14" width="1.68" height="1.49" fill="#160b39"/><rect x="227.16" y="43.14" width="1.68" height="1.49" fill="#000004"/><rect x="230.13" y="43.14" width="3.16" height="1.49" fill="#000004"/><rect x="234.57" y="43.14" width="1.68" height="1.49" fill="#310a5c"/><rect x="236.06" y="43.14" width="3.16" height="1.49" fill="#000004"/><rect x="239.02" y="43.14" width="1.68" height="1.49" fill="#310a5c"/><rect x="240.50" y="43.14" width="1.68" height="1.49" fill="#000004"/><rect x="241.98" y="43.14" width="1.68" height="1.49" fill="#310a5c"/><rect x="243.47" y="43.14" width="1.68" height="1.49" fill="#4c0c6b"/><rect x="244.95" y="43.14" width="1.68" height="1.49" fill="#160b39"/><rect x="246.43" y="43.14" width="3.16" height="1.49" fill="#310a5c"/><rect x="249.39" y="43.14" width="1.68" height="1.49" fill="#000004"/><rect x="252.36" y="43.14" width="1.68" height="1.49" fill="#420a68"/><rect x="253.84" y="43.14" width="1.68" height="1.49" fill="#6a176e"/><rect x="255.32" y="43.14" width="1.68" height="1.49" fill="#5c126e"/><rect x="256.80" y="43.14" width="1.68" height="1.49" fill="#61136e"/><rect x="258.29" y="43.14" width="1.68" height="1.49" fill="#6a176e"/><rect x="259.77" y="43.14" width="1.68" height="1.49" fill="#751b6e"/><rect x="261.25" y="43.14" width="1.68" height="1.49" fill="#7f1e6c"/><rect x="262.73" y="43.14" width="1.68" height="1.49" fill="#8f2469"/><rect x="264.21" y="43.14" width="1.68" height="1.49" fill="#9d2964"/><rect x="265.70" y="43.14" width="1.68" height="1.49" fill="#ad305d"/><rect x="267.18" y="43.14" width="1.68" height="1.49" fill="#b63458"/><rect x="268.66" y="43.14" width="1.68" height="1.49" fill="#c43c4e"/><rect x="270.14" y="43.14" width="1.68" height="1.49" fill="#d24644"/><rect x="271.62" y="43.14" width="1.68" height="1.49" fill="#d94d3d"/><rect x="273.11" y="43.14" width="3.16" height="1.49" fill="#dd513a"/><rect x="276.07" y="43.14" width="1.68" height="1.49" fill="#e75e2e"/><rect x="277.55" y="43.14" width="1.68" height="1.49" fill="#ec6726"/><rect x="279.03" y="43.14" width="1.68" height="1.49" fill="#f37819"/><rect x="280.52" y="43.14" width="1.68" height="1.49" fill="#f57d15"/><rect x="282.00" y="43.14" width="1.68" height="1.49" fill="#f98e09"/><rect x="283.48" y="43.14" width="1.68" height="1.49" fill="#f8870e"/><rect x="284.96" y="43.14" width="1.68" height="1.49" fill="#fa9407"/><rect x="286.44" y="43.14" width="1.68" height="1.49" fill="#f98e09"/><rect x="287.93" y="43.14" width="1.68" height="1.49" fill="#fa9407"/><rect x="289.41" y="43.14" width="1.68" height="1.49" fill="#fc9f07"/><rect x="290.89" y="43.14" width="3.16" height="1.49" fill="#fca50a"/><rect x="293.85" y="43.14" width="1.68" height="1.49" fill="#fa9407"/><rect x="295.34" y="43.14" width="1.68" height="1.49" fill="#fcac11"/><rect x="296.82" y="43.14" width="4.65" height="1.49" fill="#fcb216"/><rect x="301.26" y="43.14" width="1.68" height="1.49" fill="#fcac11"/><rect x="302.75" y="43.14" width="3.16" height="1.49" fill="#fcb216"/><rect x="305.71" y="43.14" width="1.68" height="1.49" fill="#fca50a"/><rect x="307.19" y="43.14" width="3.16" height="1.49" fill="#fcac11"/><rect x="310.16" y="43.14" width="1.68" height="1.49" fill="#fc9f07"/><rect x="311.64" y="43.14" width="1.68" height="1.49" fill="#fca50a"/><rect x="313.12" y="43.14" width="1.68" height="1.49" fill="#fa9407"/><rect x="314.60" y="43.14" width="1.68" height="1.49" fill="#f8870e"/><rect x="316.08" y="43.14" width="1.68" height="1.49" fill="#f78212"/><rect x="317.57" y="43.14" width="1.68" height="1.49" fill="#f1731d"/><rect x="319.05" y="43.14" width="1.68" height="1.49" fill="#ef6c23"/><rect x="320.53" y="43.14" width="1.68" height="1.49" fill="#dd513a"/><rect x="322.01" y="43.14" width="1.68" height="1.49" fill="#d54a41"/><rect x="323.49" y="43.14" width="1.68" height="1.49" fill="#cc4248"/><rect x="324.98" y="43.14" width="1.68" height="1.49" fill="#c03a51"/><rect x="326.46" y="43.14" width="1.68" height="1.49" fill="#a32c61"/><rect x="327.94" y="43.14" width="1.68" height="1.49" fill="#932667"/><rect x="329.42" y="43.14" width="3.16" height="1.49" fill="#61136e"/><rect x="332.39" y="43.14" width="3.16" height="1.49" fill="#000004"/><rect x="335.35" y="43.14" width="1.68" height="1.49" fill="#5c126e"/><rect x="336.83" y="43.14" width="1.68" height="1.49" fill="#420a68"/><rect x="338.31" y="43.14" width="1.68" height="1.49" fill="#000004"/><rect x="339.80" y="43.14" width="1.68" height="1.49" fill="#160b39"/><rect x="341.28" y="43.14" width="3.16" height="1.49" fill="#000004"/><rect x="348.69" y="43.14" width="3.16" height="1.49" fill="#000004"/><rect x="224.20" y="44.44" width="1.68" height="1.49" fill="#420a68"/><rect x="225.68" y="44.44" width="6.13" height="1.49" fill="#000004"/><rect x="231.61" y="44.44" width="1.68" height="1.49" fill="#160b39"/><rect x="233.09" y="44.44" width="1.68" height="1.49" fill="#000004"/><rect x="234.57" y="44.44" width="1.68" height="1.49" fill="#4c0c6b"/><rect x="236.06" y="44.44" width="1.68" height="1.49" fill="#000004"/><rect x="237.54" y="44.44" width="1.68" height="1.49" fill="#5c126e"/><rect x="239.02" y="44.44" width="1.68" height="1.49" fill="#61136e"/><rect x="240.50" y="44.44" width="1.68" height="1.49" fill="#6a176e"/><rect x="243.47" y="44.44" width="1.68" height="1.49" fill="#61136e"/><rect x="244.95" y="44.44" width="1.68" height="1.49" fill="#310a5c"/><rect x="246.43" y="44.44" width="1.68" height="1.49" fill="#000004"/><rect x="247.91" y="44.44" width="4.65" height="1.49" fill="#160b39"/><rect x="252.36" y="44.44" width="1.68" height="1.49" fill="#4c0c6b"/><rect x="253.84" y="44.44" width="1.68" height="1.49" fill="#310a5c"/><rect x="255.32" y="44.44" width="1.68" height="1.49" fill="#5c126e"/><rect x="256.80" y="44.44" width="1.68" height="1.49" fill="#420a68"/><rect x="258.29" y="44.44" width="3.16" height="1.49" fill="#61136e"/><rect x="261.25" y="44.44" width="1.68" height="1.49" fill="#71196e"/><rect x="262.73" y="44.44" width="1.68" height="1.49" fill="#7a1d6d"/><rect x="264.21" y="44.44" width="1.68" height="1.49" fill="#84206b"/><rect x="265.70" y="44.44" width="1.68" height="1.49" fill="#982766"/><rect x="267.18" y="44.44" width="1.68" height="1.49" fill="#a32c61"/><rect x="268.66" y="44.44" width="1.68" height="1.49" fill="#b1325a"/><rect x="270.14" y="44.44" width="1.68" height="1.49" fill="#b63458"/><rect x="271.62" y="44.44" width="1.68" height="1.49" fill="#c03a51"/><rect x="273.11" y="44.44" width="1.68" height="1.49" fill="#c83f4b"/><rect x="274.59" y="44.44" width="1.68" height="1.49" fill="#d54a41"/><rect x="276.07" y="44.44" width="1.68" height="1.49" fill="#dd513a"/><rect x="277.55" y="44.44" width="1.68" height="1.49" fill="#e05536"/><rect x="279.03" y="44.44" width="1.68" height="1.49" fill="#ec6726"/><rect x="280.52" y="44.44" width="3.16" height="1.49" fill="#ef6c23"/><rect x="283.48" y="44.44" width="1.68" height="1.49" fill="#f78212"/><rect x="284.96" y="44.44" width="1.68" height="1.49" fill="#f8870e"/><rect x="286.44" y="44.44" width="1.68" height="1.49" fill="#f78212"/><rect x="287.93" y="44.44" width="1.68" height="1.49" fill="#f8870e"/><rect x="289.41" y="44.44" width="1.68" height="1.49" fill="#fa9407"/><rect x="290.89" y="44.44" width="1.68" height="1.49" fill="#fb9906"/><rect x="292.37" y="44.44" width="1.68" height="1.49" fill="#fa9407"/><rect x="293.85" y="44.44" width="1.68" height="1.49" fill="#fca50a"/><rect x="295.34" y="44.44" width="1.68" height="1.49" fill="#fc9f07"/><rect x="296.82" y="44.44" width="4.65" height="1.49" fill="#fca50a"/><rect x="301.26" y="44.44" width="3.16" height="1.49" fill="#fcac11"/><rect x="304.23" y="44.44" width="1.68" height="1.49" fill="#fc9f07"/><rect x="305.71" y="44.44" width="1.68" height="1.49" fill="#fcac11"/><rect x="307.19" y="44.44" width="1.68" height="1.49" fill="#fb9906"/><rect x="308.67" y="44.44" width="1.68" height="1.49" fill="#fca50a"/><rect x="310.16" y="44.44" width="1.68" height="1.49" fill="#fc9f07"/><rect x="311.64" y="44.44" width="3.16" height="1.49" fill="#fb9906"/><rect x="314.60" y="44.44" width="3.16" height="1.49" fill="#f78212"/><rect x="317.57" y="44.44" width="1.68" height="1.49" fill="#f57d15"/><rect x="319.05" y="44.44" width="1.68" height="1.49" fill="#ec6726"/><rect x="320.53" y="44.44" width="1.68" height="1.49" fill="#e45a31"/><rect x="322.01" y="44.44" width="1.68" height="1.49" fill="#dd513a"/><rect x="323.49" y="44.44" width="1.68" height="1.49" fill="#d24644"/><rect x="324.98" y="44.44" width="1.68" height="1.49" fill="#c03a51"/><rect x="326.46" y="44.44" width="1.68" height="1.49" fill="#b1325a"/><rect x="327.94" y="44.44" width="1.68" height="1.49" fill="#8f2469"/><rect x="329.42" y="44.44" width="1.68" height="1.49" fill="#6a176e"/><rect x="330.90" y="44.44" width="1.68" height="1.49" fill="#65156e"/><rect x="332.39" y="44.44" width="3.16" height="1.49" fill="#5c126e"/><rect x="335.35" y="44.44" width="3.16" height="1.49" fill="#160b39"/><rect x="338.31" y="44.44" width="1.68" height="1.49" fill="#000004"/><rect x="344.24" y="44.44" width="3.16" height="1.49" fill="#000004"/><rect x="350.17" y="44.44" width="1.68" height="1.49" fill="#000004"/><rect x="353.13" y="44.44" width="1.68" height="1.49" fill="#000004"/><rect x="224.20" y="45.73" width="3.16" height="1.49" fill="#160b39"/><rect x="228.65" y="45.73" width="3.16" height="1.49" fill="#310a5c"/><rect x="231.61" y="45.73" width="3.16" height="1.49" fill="#000004"/><rect x="234.57" y="45.73" width="3.16" height="1.49" fill="#160b39"/><rect x="237.54" y="45.73" width="1.68" height="1.49" fill="#420a68"/><rect x="239.02" y="45.73" width="1.68" height="1.49" fill="#160b39"/><rect x="240.50" y="45.73" width="3.16" height="1.49" fill="#310a5c"/><rect x="243.47" y="45.73" width="1.68" height="1.49" fill="#000004"/><rect x="244.95" y="45.73" width="3.16" height="1.49" fill="#310a5c"/><rect x="247.91" y="45.73" width="1.68" height="1.49" fill="#160b39"/><rect x="249.39" y="45.73" width="1.68" height="1.49" fill="#000004"/><rect x="250.88" y="45.73" width="1.68" height="1.49" fill="#310a5c"/><rect x="252.36" y="45.73" width="1.68" height="1.49" fill="#160b39"/><rect x="253.84" y="45.73" width="1.68" height="1.49" fill="#420a68"/><rect x="255.32" y="45.73" width="1.68" height="1.49" fill="#000004"/><rect x="256.80" y="45.73" width="1.68" height="1.49" fill="#420a68"/><rect x="258.29" y="45.73" width="1.68" height="1.49" fill="#5c126e"/><rect x="259.77" y="45.73" width="1.68" height="1.49" fill="#61136e"/><rect x="261.25" y="45.73" width="1.68" height="1.49" fill="#4c0c6b"/><rect x="262.73" y="45.73" width="1.68" height="1.49" fill="#65156e"/><rect x="264.21" y="45.73" width="1.68" height="1.49" fill="#751b6e"/><rect x="265.70" y="45.73" width="1.68" height="1.49" fill="#84206b"/><rect x="267.18" y="45.73" width="1.68" height="1.49" fill="#8a226a"/><rect x="268.66" y="45.73" width="1.68" height="1.49" fill="#982766"/><rect x="270.14" y="45.73" width="1.68" height="1.49" fill="#ad305d"/><rect x="271.62" y="45.73" width="1.68" height="1.49" fill="#b63458"/><rect x="273.11" y="45.73" width="1.68" height="1.49" fill="#c03a51"/><rect x="274.59" y="45.73" width="1.68" height="1.49" fill="#c83f4b"/><rect x="276.07" y="45.73" width="1.68" height="1.49" fill="#d54a41"/><rect x="277.55" y="45.73" width="1.68" height="1.49" fill="#d94d3d"/><rect x="279.03" y="45.73" width="1.68" height="1.49" fill="#e45a31"/><rect x="280.52" y="45.73" width="1.68" height="1.49" fill="#e75e2e"/><rect x="282.00" y="45.73" width="3.16" height="1.49" fill="#ea632a"/><rect x="284.96" y="45.73" width="1.68" height="1.49" fill="#ef6c23"/><rect x="286.44" y="45.73" width="1.68" height="1.49" fill="#f57d15"/><rect x="287.93" y="45.73" width="1.68" height="1.49" fill="#f8870e"/><rect x="289.41" y="45.73" width="4.65" height="1.49" fill="#f98e09"/><rect x="293.85" y="45.73" width="3.16" height="1.49" fill="#fa9407"/><rect x="296.82" y="45.73" width="1.68" height="1.49" fill="#fb9906"/><rect x="298.30" y="45.73" width="1.68" height="1.49" fill="#fca50a"/><rect x="299.78" y="45.73" width="1.68" height="1.49" fill="#fa9407"/><rect x="301.26" y="45.73" width="1.68" height="1.49" fill="#fb9906"/><rect x="302.75" y="45.73" width="1.68" height="1.49" fill="#fc9f07"/><rect x="304.23" y="45.73" width="1.68" height="1.49" fill="#fa9407"/><rect x="305.71" y="45.73" width="1.68" height="1.49" fill="#fb9906"/><rect x="307.19" y="45.73" width="3.16" height="1.49" fill="#fc9f07"/><rect x="310.16" y="45.73" width="3.16" height="1.49" fill="#fb9906"/><rect x="313.12" y="45.73" width="1.68" height="1.49" fill="#f98e09"/><rect x="314.60" y="45.73" width="1.68" height="1.49" fill="#fa9407"/><rect x="316.08" y="45.73" width="1.68" height="1.49" fill="#f78212"/><rect x="317.57" y="45.73" width="1.68" height="1.49" fill="#f1731d"/><rect x="319.05" y="45.73" width="1.68" height="1.49" fill="#ef6c23"/><rect x="320.53" y="45.73" width="1.68" height="1.49" fill="#ea632a"/><rect x="322.01" y="45.73" width="1.68" height="1.49" fill="#e05536"/><rect x="323.49" y="45.73" width="1.68" height="1.49" fill="#d54a41"/><rect x="324.98" y="45.73" width="1.68" height="1.49" fill="#c03a51"/><rect x="326.46" y="45.73" width="1.68" height="1.49" fill="#a82e5f"/><rect x="327.94" y="45.73" width="1.68" height="1.49" fill="#982766"/><rect x="329.42" y="45.73" width="1.68" height="1.49" fill="#751b6e"/><rect x="330.90" y="45.73" width="1.68" height="1.49" fill="#65156e"/><rect x="332.39" y="45.73" width="1.68" height="1.49" fill="#5c126e"/><rect x="333.87" y="45.73" width="1.68" height="1.49" fill="#6a176e"/><rect x="335.35" y="45.73" width="1.68" height="1.49" fill="#4c0c6b"/><rect x="336.83" y="45.73" width="1.68" height="1.49" fill="#420a68"/><rect x="341.28" y="45.73" width="1.68" height="1.49" fill="#160b39"/><rect x="342.76" y="45.73" width="6.13" height="1.49" fill="#000004"/><rect x="224.20" y="47.03" width="4.65" height="1.49" fill="#160b39"/><rect x="228.65" y="47.03" width="1.68" height="1.49" fill="#310a5c"/><rect x="230.13" y="47.03" width="3.16" height="1.49" fill="#000004"/><rect x="233.09" y="47.03" width="1.68" height="1.49" fill="#310a5c"/><rect x="236.06" y="47.03" width="1.68" height="1.49" fill="#160b39"/><rect x="237.54" y="47.03" width="1.68" height="1.49" fill="#420a68"/><rect x="239.02" y="47.03" width="1.68" height="1.49" fill="#160b39"/><rect x="240.50" y="47.03" width="1.68" height="1.49" fill="#310a5c"/><rect x="241.98" y="47.03" width="1.68" height="1.49" fill="#000004"/><rect x="243.47" y="47.03" width="1.68" height="1.49" fill="#310a5c"/><rect x="244.95" y="47.03" width="1.68" height="1.49" fill="#160b39"/><rect x="246.43" y="47.03" width="1.68" height="1.49" fill="#000004"/><rect x="247.91" y="47.03" width="4.65" height="1.49" fill="#160b39"/><rect x="252.36" y="47.03" width="3.16" height="1.49" fill="#310a5c"/><rect x="255.32" y="47.03" width="1.68" height="1.49" fill="#4c0c6b"/><rect x="256.80" y="47.03" width="1.68" height="1.49" fill="#420a68"/><rect x="258.29" y="47.03" width="1.68" height="1.49" fill="#4c0c6b"/><rect x="259.77" y="47.03" width="3.16" height="1.49" fill="#420a68"/><rect x="262.73" y="47.03" width="1.68" height="1.49" fill="#310a5c"/><rect x="264.21" y="47.03" width="1.68" height="1.49" fill="#65156e"/><rect x="265.70" y="47.03" width="1.68" height="1.49" fill="#61136e"/><rect x="267.18" y="47.03" width="1.68" height="1.49" fill="#7f1e6c"/><rect x="268.66" y="47.03" width="1.68" height="1.49" fill="#751b6e"/><rect x="270.14" y="47.03" width="1.68" height="1.49" fill="#8f2469"/><rect x="271.62" y="47.03" width="1.68" height="1.49" fill="#9d2964"/><rect x="273.11" y="47.03" width="1.68" height="1.49" fill="#a82e5f"/><rect x="274.59" y="47.03" width="1.68" height="1.49" fill="#ad305d"/><rect x="276.07" y="47.03" width="1.68" height="1.49" fill="#bc3754"/><rect x="277.55" y="47.03" width="1.68" height="1.49" fill="#cc4248"/><rect x="279.03" y="47.03" width="1.68" height="1.49" fill="#d24644"/><rect x="280.52" y="47.03" width="1.68" height="1.49" fill="#e05536"/><rect x="282.00" y="47.03" width="1.68" height="1.49" fill="#e75e2e"/><rect x="283.48" y="47.03" width="3.16" height="1.49" fill="#ec6726"/><rect x="286.44" y="47.03" width="1.68" height="1.49" fill="#ef6c23"/><rect x="287.93" y="47.03" width="1.68" height="1.49" fill="#f1731d"/><rect x="289.41" y="47.03" width="6.13" height="1.49" fill="#f8870e"/><rect x="295.34" y="47.03" width="1.68" height="1.49" fill="#fa9407"/><rect x="296.82" y="47.03" width="1.68" height="1.49" fill="#f78212"/><rect x="298.30" y="47.03" width="1.68" height="1.49" fill="#fb9906"/><rect x="299.78" y="47.03" width="1.68" height="1.49" fill="#fa9407"/><rect x="301.26" y="47.03" width="1.68" height="1.49" fill="#f8870e"/><rect x="302.75" y="47.03" width="1.68" height="1.49" fill="#fb9906"/><rect x="304.23" y="47.03" width="1.68" height="1.49" fill="#fa9407"/><rect x="305.71" y="47.03" width="1.68" height="1.49" fill="#fb9906"/><rect x="307.19" y="47.03" width="3.16" height="1.49" fill="#fa9407"/><rect x="310.16" y="47.03" width="1.68" height="1.49" fill="#fb9906"/><rect x="311.64" y="47.03" width="1.68" height="1.49" fill="#fa9407"/><rect x="313.12" y="47.03" width="1.68" height="1.49" fill="#f98e09"/><rect x="314.60" y="47.03" width="1.68" height="1.49" fill="#f57d15"/><rect x="316.08" y="47.03" width="1.68" height="1.49" fill="#f78212"/><rect x="317.57" y="47.03" width="1.68" height="1.49" fill="#f1731d"/><rect x="319.05" y="47.03" width="1.68" height="1.49" fill="#ef6c23"/><rect x="320.53" y="47.03" width="1.68" height="1.49" fill="#e75e2e"/><rect x="322.01" y="47.03" width="1.68" height="1.49" fill="#e45a31"/><rect x="323.49" y="47.03" width="1.68" height="1.49" fill="#d94d3d"/><rect x="324.98" y="47.03" width="1.68" height="1.49" fill="#c43c4e"/><rect x="326.46" y="47.03" width="1.68" height="1.49" fill="#bc3754"/><rect x="327.94" y="47.03" width="1.68" height="1.49" fill="#982766"/><rect x="329.42" y="47.03" width="1.68" height="1.49" fill="#7a1d6d"/><rect x="330.90" y="47.03" width="1.68" height="1.49" fill="#6a176e"/><rect x="332.39" y="47.03" width="1.68" height="1.49" fill="#61136e"/><rect x="333.87" y="47.03" width="1.68" height="1.49" fill="#000004"/><rect x="335.35" y="47.03" width="1.68" height="1.49" fill="#310a5c"/><rect x="336.83" y="47.03" width="1.68" height="1.49" fill="#160b39"/><rect x="339.80" y="47.03" width="1.68" height="1.49" fill="#000004"/><rect x="342.76" y="47.03" width="1.68" height="1.49" fill="#160b39"/><rect x="344.24" y="47.03" width="1.68" height="1.49" fill="#000004"/><rect x="347.21" y="47.03" width="1.68" height="1.49" fill="#000004"/><rect x="224.20" y="48.32" width="1.68" height="1.49" fill="#000004"/><rect x="231.61" y="48.32" width="3.16" height="1.49" fill="#000004"/><rect x="239.02" y="48.32" width="1.68" height="1.49" fill="#160b39"/><rect x="240.50" y="48.32" width="1.68" height="1.49" fill="#310a5c"/><rect x="241.98" y="48.32" width="1.68" height="1.49" fill="#000004"/><rect x="243.47" y="48.32" width="1.68" height="1.49" fill="#420a68"/><rect x="244.95" y="48.32" width="1.68" height="1.49" fill="#160b39"/><rect x="246.43" y="48.32" width="1.68" height="1.49" fill="#310a5c"/><rect x="253.84" y="48.32" width="1.68" height="1.49" fill="#160b39"/><rect x="255.32" y="48.32" width="3.16" height="1.49" fill="#000004"/><rect x="258.29" y="48.32" width="1.68" height="1.49" fill="#160b39"/><rect x="259.77" y="48.32" width="3.16" height="1.49" fill="#000004"/><rect x="262.73" y="48.32" width="1.68" height="1.49" fill="#310a5c"/><rect x="264.21" y="48.32" width="1.68" height="1.49" fill="#4c0c6b"/><rect x="265.70" y="48.32" width="1.68" height="1.49" fill="#61136e"/><rect x="267.18" y="48.32" width="1.68" height="1.49" fill="#5c126e"/><rect x="268.66" y="48.32" width="1.68" height="1.49" fill="#6a176e"/><rect x="270.14" y="48.32" width="1.68" height="1.49" fill="#7f1e6c"/><rect x="271.62" y="48.32" width="1.68" height="1.49" fill="#8f2469"/><rect x="273.11" y="48.32" width="1.68" height="1.49" fill="#982766"/><rect x="274.59" y="48.32" width="1.68" height="1.49" fill="#a32c61"/><rect x="276.07" y="48.32" width="1.68" height="1.49" fill="#ad305d"/><rect x="277.55" y="48.32" width="1.68" height="1.49" fill="#c03a51"/><rect x="279.03" y="48.32" width="1.68" height="1.49" fill="#c83f4b"/><rect x="280.52" y="48.32" width="1.68" height="1.49" fill="#d24644"/><rect x="282.00" y="48.32" width="1.68" height="1.49" fill="#d94d3d"/><rect x="283.48" y="48.32" width="3.16" height="1.49" fill="#e05536"/><rect x="286.44" y="48.32" width="1.68" height="1.49" fill="#ea632a"/><rect x="287.93" y="48.32" width="3.16" height="1.49" fill="#ef6c23"/><rect x="290.89" y="48.32" width="1.68" height="1.49" fill="#f37819"/><rect x="292.37" y="48.32" width="1.68" height="1.49" fill="#f57d15"/><rect x="293.85" y="48.32" width="1.68" height="1.49" fill="#f8870e"/><rect x="295.34" y="48.32" width="4.65" height="1.49" fill="#f78212"/><rect x="299.78" y="48.32" width="1.68" height="1.49" fill="#f8870e"/><rect x="301.26" y="48.32" width="3.16" height="1.49" fill="#f78212"/><rect x="304.23" y="48.32" width="1.68" height="1.49" fill="#fa9407"/><rect x="305.71" y="48.32" width="3.16" height="1.49" fill="#f98e09"/><rect x="308.67" y="48.32" width="4.65" height="1.49" fill="#f78212"/><rect x="313.12" y="48.32" width="1.68" height="1.49" fill="#f98e09"/><rect x="314.60" y="48.32" width="1.68" height="1.49" fill="#f8870e"/><rect x="316.08" y="48.32" width="3.16" height="1.49" fill="#f1731d"/><rect x="319.05" y="48.32" width="1.68" height="1.49" fill="#ec6726"/><rect x="320.53" y="48.32" width="1.68" height="1.49" fill="#e75e2e"/><rect x="322.01" y="48.32" width="1.68" height="1.49" fill="#e05536"/><rect x="323.49" y="48.32" width="1.68" height="1.49" fill="#dd513a"/><rect x="324.98" y="48.32" width="1.68" height="1.49" fill="#d24644"/><rect x="326.46" y="48.32" width="1.68" height="1.49" fill="#c03a51"/><rect x="327.94" y="48.32" width="1.68" height="1.49" fill="#a32c61"/><rect x="329.42" y="48.32" width="1.68" height="1.49" fill="#7a1d6d"/><rect x="330.90" y="48.32" width="1.68" height="1.49" fill="#71196e"/><rect x="332.39" y="48.32" width="1.68" height="1.49" fill="#61136e"/><rect x="333.87" y="48.32" width="1.68" height="1.49" fill="#4c0c6b"/><rect x="335.35" y="48.32" width="1.68" height="1.49" fill="#5c126e"/><rect x="336.83" y="48.32" width="3.16" height="1.49" fill="#310a5c"/><rect x="339.80" y="48.32" width="3.16" height="1.49" fill="#160b39"/><rect x="344.24" y="48.32" width="1.68" height="1.49" fill="#000004"/><rect x="357.58" y="48.32" width="3.16" height="1.49" fill="#000004"/><rect x="225.68" y="49.62" width="1.68" height="1.49" fill="#000004"/><rect x="227.16" y="49.62" width="1.68" height="1.49" fill="#160b39"/><rect x="228.65" y="49.62" width="1.68" height="1.49" fill="#000004"/><rect x="233.09" y="49.62" width="1.68" height="1.49" fill="#160b39"/><rect x="234.57" y="49.62" width="3.16" height="1.49" fill="#420a68"/><rect x="237.54" y="49.62" width="1.68" height="1.49" fill="#000004"/><rect x="239.02" y="49.62" width="1.68" height="1.49" fill="#420a68"/><rect x="240.50" y="49.62" width="1.68" height="1.49" fill="#160b39"/><rect x="243.47" y="49.62" width="1.68" height="1.49" fill="#000004"/><rect x="246.43" y="49.62" width="1.68" height="1.49" fill="#160b39"/><rect x="247.91" y="49.62" width="1.68" height="1.49" fill="#000004"/><rect x="250.88" y="49.62" width="1.68" height="1.49" fill="#310a5c"/><rect x="252.36" y="49.62" width="1.68" height="1.49" fill="#000004"/><rect x="255.32" y="49.62" width="1.68" height="1.49" fill="#000004"/><rect x="259.77" y="49.62" width="3.16" height="1.49" fill="#160b39"/><rect x="264.21" y="49.62" width="1.68" height="1.49" fill="#160b39"/><rect x="265.70" y="49.62" width="1.68" height="1.49" fill="#000004"/><rect x="267.18" y="49.62" width="3.16" height="1.49" fill="#4c0c6b"/><rect x="270.14" y="49.62" width="1.68" height="1.49" fill="#65156e"/><rect x="271.62" y="49.62" width="1.68" height="1.49" fill="#7a1d6d"/><rect x="273.11" y="49.62" width="3.16" height="1.49" fill="#8f2469"/><rect x="276.07" y="49.62" width="1.68" height="1.49" fill="#982766"/><rect x="277.55" y="49.62" width="1.68" height="1.49" fill="#9d2964"/><rect x="279.03" y="49.62" width="1.68" height="1.49" fill="#bc3754"/><rect x="280.52" y="49.62" width="1.68" height="1.49" fill="#c83f4b"/><rect x="282.00" y="49.62" width="1.68" height="1.49" fill="#cc4248"/><rect x="283.48" y="49.62" width="1.68" height="1.49" fill="#d54a41"/><rect x="284.96" y="49.62" width="3.16" height="1.49" fill="#e05536"/><rect x="287.93" y="49.62" width="1.68" height="1.49" fill="#ea632a"/><rect x="289.41" y="49.62" width="1.68" height="1.49" fill="#ef6c23"/><rect x="290.89" y="49.62" width="4.65" height="1.49" fill="#f1731d"/><rect x="295.34" y="49.62" width="3.16" height="1.49" fill="#f37819"/><rect x="298.30" y="49.62" width="3.16" height="1.49" fill="#f8870e"/><rect x="301.26" y="49.62" width="3.16" height="1.49" fill="#f78212"/><rect x="304.23" y="49.62" width="1.68" height="1.49" fill="#f8870e"/><rect x="305.71" y="49.62" width="1.68" height="1.49" fill="#f78212"/><rect x="307.19" y="49.62" width="4.65" height="1.49" fill="#f8870e"/><rect x="311.64" y="49.62" width="1.68" height="1.49" fill="#f78212"/><rect x="313.12" y="49.62" width="1.68" height="1.49" fill="#f1731d"/><rect x="314.60" y="49.62" width="1.68" height="1.49" fill="#f57d15"/><rect x="316.08" y="49.62" width="1.68" height="1.49" fill="#f1731d"/><rect x="317.57" y="49.62" width="1.68" height="1.49" fill="#ec6726"/><rect x="319.05" y="49.62" width="1.68" height="1.49" fill="#ef6c23"/><rect x="320.53" y="49.62" width="1.68" height="1.49" fill="#e75e2e"/><rect x="322.01" y="49.62" width="1.68" height="1.49" fill="#e05536"/><rect x="323.49" y="49.62" width="1.68" height="1.49" fill="#d94d3d"/><rect x="324.98" y="49.62" width="1.68" height="1.49" fill="#cc4248"/><rect x="326.46" y="49.62" width="1.68" height="1.49" fill="#c43c4e"/><rect x="327.94" y="49.62" width="1.68" height="1.49" fill="#9d2964"/><rect x="329.42" y="49.62" width="1.68" height="1.49" fill="#7f1e6c"/><rect x="330.90" y="49.62" width="1.68" height="1.49" fill="#71196e"/><rect x="332.39" y="49.62" width="1.68" height="1.49" fill="#6a176e"/><rect x="333.87" y="49.62" width="1.68" height="1.49" fill="#5c126e"/><rect x="335.35" y="49.62" width="1.68" height="1.49" fill="#71196e"/><rect x="336.83" y="49.62" width="1.68" height="1.49" fill="#5c126e"/><rect x="338.31" y="49.62" width="1.68" height="1.49" fill="#160b39"/><rect x="341.28" y="49.62" width="1.68" height="1.49" fill="#000004"/><rect x="347.21" y="49.62" width="1.68" height="1.49" fill="#000004"/><rect x="354.62" y="49.62" width="3.16" height="1.49" fill="#000004"/><rect x="225.68" y="50.91" width="3.16" height="1.49" fill="#000004"/><rect x="231.61" y="50.91" width="1.68" height="1.49" fill="#000004"/><rect x="234.57" y="50.91" width="1.68" height="1.49" fill="#160b39"/><rect x="236.06" y="50.91" width="1.68" height="1.49" fill="#310a5c"/><rect x="237.54" y="50.91" width="3.16" height="1.49" fill="#000004"/><rect x="240.50" y="50.91" width="1.68" height="1.49" fill="#160b39"/><rect x="241.98" y="50.91" width="1.68" height="1.49" fill="#420a68"/><rect x="243.47" y="50.91" width="1.68" height="1.49" fill="#000004"/><rect x="252.36" y="50.91" width="1.68" height="1.49" fill="#000004"/><rect x="256.80" y="50.91" width="4.65" height="1.49" fill="#000004"/><rect x="261.25" y="50.91" width="1.68" height="1.49" fill="#310a5c"/><rect x="262.73" y="50.91" width="3.16" height="1.49" fill="#000004"/><rect x="265.70" y="50.91" width="1.68" height="1.49" fill="#420a68"/><rect x="267.18" y="50.91" width="1.68" height="1.49" fill="#310a5c"/><rect x="268.66" y="50.91" width="1.68" height="1.49" fill="#4c0c6b"/><rect x="270.14" y="50.91" width="1.68" height="1.49" fill="#61136e"/><rect x="271.62" y="50.91" width="1.68" height="1.49" fill="#65156e"/><rect x="273.11" y="50.91" width="1.68" height="1.49" fill="#6a176e"/><rect x="274.59" y="50.91" width="1.68" height="1.49" fill="#7f1e6c"/><rect x="276.07" y="50.91" width="1.68" height="1.49" fill="#8a226a"/><rect x="277.55" y="50.91" width="1.68" height="1.49" fill="#9d2964"/><rect x="279.03" y="50.91" width="1.68" height="1.49" fill="#a82e5f"/><rect x="280.52" y="50.91" width="1.68" height="1.49" fill="#bc3754"/><rect x="282.00" y="50.91" width="1.68" height="1.49" fill="#c03a51"/><rect x="283.48" y="50.91" width="3.16" height="1.49" fill="#c83f4b"/><rect x="286.44" y="50.91" width="1.68" height="1.49" fill="#d94d3d"/><rect x="287.93" y="50.91" width="1.68" height="1.49" fill="#e05536"/><rect x="289.41" y="50.91" width="1.68" height="1.49" fill="#e45a31"/><rect x="290.89" y="50.91" width="1.68" height="1.49" fill="#e75e2e"/><rect x="292.37" y="50.91" width="1.68" height="1.49" fill="#ec6726"/><rect x="293.85" y="50.91" width="1.68" height="1.49" fill="#ef6c23"/><rect x="295.34" y="50.91" width="1.68" height="1.49" fill="#ec6726"/><rect x="296.82" y="50.91" width="1.68" height="1.49" fill="#f1731d"/><rect x="298.30" y="50.91" width="4.65" height="1.49" fill="#f37819"/><rect x="302.75" y="50.91" width="1.68" height="1.49" fill="#f1731d"/><rect x="304.23" y="50.91" width="1.68" height="1.49" fill="#f57d15"/><rect x="305.71" y="50.91" width="1.68" height="1.49" fill="#f78212"/><rect x="307.19" y="50.91" width="1.68" height="1.49" fill="#f8870e"/><rect x="308.67" y="50.91" width="1.68" height="1.49" fill="#f78212"/><rect x="310.16" y="50.91" width="4.65" height="1.49" fill="#f57d15"/><rect x="314.60" y="50.91" width="1.68" height="1.49" fill="#f1731d"/><rect x="316.08" y="50.91" width="1.68" height="1.49" fill="#ef6c23"/><rect x="317.57" y="50.91" width="1.68" height="1.49" fill="#ea632a"/><rect x="319.05" y="50.91" width="1.68" height="1.49" fill="#e75e2e"/><rect x="320.53" y="50.91" width="1.68" height="1.49" fill="#e45a31"/><rect x="322.01" y="50.91" width="1.68" height="1.49" fill="#e05536"/><rect x="323.49" y="50.91" width="1.68" height="1.49" fill="#d94d3d"/><rect x="324.98" y="50.91" width="1.68" height="1.49" fill="#d24644"/><rect x="326.46" y="50.91" width="1.68" height="1.49" fill="#c83f4b"/><rect x="327.94" y="50.91" width="1.68" height="1.49" fill="#a82e5f"/><rect x="329.42" y="50.91" width="1.68" height="1.49" fill="#84206b"/><rect x="330.90" y="50.91" width="1.68" height="1.49" fill="#71196e"/><rect x="332.39" y="50.91" width="1.68" height="1.49" fill="#65156e"/><rect x="333.87" y="50.91" width="1.68" height="1.49" fill="#57106e"/><rect x="335.35" y="50.91" width="1.68" height="1.49" fill="#310a5c"/><rect x="336.83" y="50.91" width="1.68" height="1.49" fill="#160b39"/><rect x="338.31" y="50.91" width="1.68" height="1.49" fill="#000004"/><rect x="344.24" y="50.91" width="1.68" height="1.49" fill="#000004"/><rect x="350.17" y="50.91" width="3.16" height="1.49" fill="#000004"/><rect x="356.10" y="50.91" width="4.65" height="1.49" fill="#000004"/><rect x="364.99" y="50.91" width="1.68" height="1.49" fill="#000004"/><rect x="224.20" y="52.21" width="1.68" height="1.49" fill="#000004"/><rect x="234.57" y="52.21" width="3.16" height="1.49" fill="#160b39"/><rect x="239.02" y="52.21" width="1.68" height="1.49" fill="#4c0c6b"/><rect x="241.98" y="52.21" width="1.68" height="1.49" fill="#310a5c"/><rect x="246.43" y="52.21" width="3.16" height="1.49" fill="#000004"/><rect x="259.77" y="52.21" width="1.68" height="1.49" fill="#000004"/><rect x="261.25" y="52.21" width="1.68" height="1.49" fill="#4c0c6b"/><rect x="262.73" y="52.21" width="3.16" height="1.49" fill="#000004"/><rect x="265.70" y="52.21" width="1.68" height="1.49" fill="#160b39"/><rect x="267.18" y="52.21" width="1.68" height="1.49" fill="#000004"/><rect x="268.66" y="52.21" width="3.16" height="1.49" fill="#160b39"/><rect x="271.62" y="52.21" width="1.68" height="1.49" fill="#4c0c6b"/><rect x="273.11" y="52.21" width="1.68" height="1.49" fill="#5c126e"/><rect x="274.59" y="52.21" width="1.68" height="1.49" fill="#65156e"/><rect x="276.07" y="52.21" width="1.68" height="1.49" fill="#7a1d6d"/><rect x="277.55" y="52.21" width="1.68" height="1.49" fill="#8a226a"/><rect x="279.03" y="52.21" width="1.68" height="1.49" fill="#932667"/><rect x="280.52" y="52.21" width="1.68" height="1.49" fill="#ad305d"/><rect x="282.00" y="52.21" width="1.68" height="1.49" fill="#a82e5f"/><rect x="283.48" y="52.21" width="1.68" height="1.49" fill="#c43c4e"/><rect x="284.96" y="52.21" width="1.68" height="1.49" fill="#c03a51"/><rect x="286.44" y="52.21" width="1.68" height="1.49" fill="#cc4248"/><rect x="287.93" y="52.21" width="1.68" height="1.49" fill="#d54a41"/><rect x="289.41" y="52.21" width="1.68" height="1.49" fill="#dd513a"/><rect x="290.89" y="52.21" width="1.68" height="1.49" fill="#e05536"/><rect x="292.37" y="52.21" width="1.68" height="1.49" fill="#e45a31"/><rect x="293.85" y="52.21" width="1.68" height="1.49" fill="#e75e2e"/><rect x="295.34" y="52.21" width="1.68" height="1.49" fill="#ec6726"/><rect x="296.82" y="52.21" width="1.68" height="1.49" fill="#ef6c23"/><rect x="298.30" y="52.21" width="1.68" height="1.49" fill="#ec6726"/><rect x="299.78" y="52.21" width="4.65" height="1.49" fill="#f1731d"/><rect x="304.23" y="52.21" width="3.16" height="1.49" fill="#ef6c23"/><rect x="307.19" y="52.21" width="1.68" height="1.49" fill="#f37819"/><rect x="308.67" y="52.21" width="1.68" height="1.49" fill="#ec6726"/><rect x="310.16" y="52.21" width="1.68" height="1.49" fill="#f1731d"/><rect x="311.64" y="52.21" width="1.68" height="1.49" fill="#f37819"/><rect x="313.12" y="52.21" width="1.68" height="1.49" fill="#ef6c23"/><rect x="314.60" y="52.21" width="1.68" height="1.49" fill="#f37819"/><rect x="316.08" y="52.21" width="1.68" height="1.49" fill="#f1731d"/><rect x="317.57" y="52.21" width="1.68" height="1.49" fill="#ea632a"/><rect x="319.05" y="52.21" width="1.68" height="1.49" fill="#e75e2e"/><rect x="320.53" y="52.21" width="1.68" height="1.49" fill="#e45a31"/><rect x="322.01" y="52.21" width="1.68" height="1.49" fill="#dd513a"/><rect x="323.49" y="52.21" width="1.68" height="1.49" fill="#d94d3d"/><rect x="324.98" y="52.21" width="1.68" height="1.49" fill="#d24644"/><rect x="326.46" y="52.21" width="1.68" height="1.49" fill="#c83f4b"/><rect x="327.94" y="52.21" width="1.68" height="1.49" fill="#a82e5f"/><rect x="329.42" y="52.21" width="1.68" height="1.49" fill="#7f1e6c"/><rect x="330.90" y="52.21" width="1.68" height="1.49" fill="#751b6e"/><rect x="332.39" y="52.21" width="1.68" height="1.49" fill="#65156e"/><rect x="333.87" y="52.21" width="1.68" height="1.49" fill="#61136e"/><rect x="335.35" y="52.21" width="1.68" height="1.49" fill="#71196e"/><rect x="336.83" y="52.21" width="3.16" height="1.49" fill="#160b39"/><rect x="342.76" y="52.21" width="1.68" height="1.49" fill="#000004"/><rect x="347.21" y="52.21" width="1.68" height="1.49" fill="#000004"/><rect x="351.65" y="52.21" width="3.16" height="1.49" fill="#000004"/><rect x="354.62" y="52.21" width="3.16" height="1.49" fill="#160b39"/><rect x="357.58" y="52.21" width="1.68" height="1.49" fill="#000004"/><rect x="359.06" y="52.21" width="1.68" height="1.49" fill="#160b39"/><rect x="224.20" y="53.50" width="3.16" height="1.49" fill="#000004"/><rect x="231.61" y="53.50" width="1.68" height="1.49" fill="#000004"/><rect x="233.09" y="53.50" width="4.65" height="1.49" fill="#160b39"/><rect x="239.02" y="53.50" width="1.68" height="1.49" fill="#000004"/><rect x="240.50" y="53.50" width="1.68" height="1.49" fill="#4c0c6b"/><rect x="241.98" y="53.50" width="3.16" height="1.49" fill="#000004"/><rect x="253.84" y="53.50" width="1.68" height="1.49" fill="#000004"/><rect x="258.29" y="53.50" width="6.13" height="1.49" fill="#000004"/><rect x="265.70" y="53.50" width="1.68" height="1.49" fill="#310a5c"/><rect x="268.66" y="53.50" width="1.68" height="1.49" fill="#310a5c"/><rect x="270.14" y="53.50" width="1.68" height="1.49" fill="#160b39"/><rect x="271.62" y="53.50" width="3.16" height="1.49" fill="#310a5c"/><rect x="274.59" y="53.50" width="1.68" height="1.49" fill="#5c126e"/><rect x="276.07" y="53.50" width="1.68" height="1.49" fill="#61136e"/><rect x="277.55" y="53.50" width="1.68" height="1.49" fill="#7a1d6d"/><rect x="279.03" y="53.50" width="1.68" height="1.49" fill="#84206b"/><rect x="280.52" y="53.50" width="1.68" height="1.49" fill="#8f2469"/><rect x="282.00" y="53.50" width="3.16" height="1.49" fill="#a32c61"/><rect x="284.96" y="53.50" width="1.68" height="1.49" fill="#b63458"/><rect x="286.44" y="53.50" width="1.68" height="1.49" fill="#c03a51"/><rect x="287.93" y="53.50" width="1.68" height="1.49" fill="#c83f4b"/><rect x="289.41" y="53.50" width="1.68" height="1.49" fill="#cc4248"/><rect x="290.89" y="53.50" width="1.68" height="1.49" fill="#d54a41"/><rect x="292.37" y="53.50" width="1.68" height="1.49" fill="#d94d3d"/><rect x="293.85" y="53.50" width="3.16" height="1.49" fill="#e05536"/><rect x="296.82" y="53.50" width="1.68" height="1.49" fill="#e75e2e"/><rect x="298.30" y="53.50" width="1.68" height="1.49" fill="#e45a31"/><rect x="299.78" y="53.50" width="1.68" height="1.49" fill="#ec6726"/><rect x="301.26" y="53.50" width="1.68" height="1.49" fill="#ef6c23"/><rect x="302.75" y="53.50" width="1.68" height="1.49" fill="#ea632a"/><rect x="304.23" y="53.50" width="1.68" height="1.49" fill="#ec6726"/><rect x="305.71" y="53.50" width="3.16" height="1.49" fill="#ef6c23"/><rect x="308.67" y="53.50" width="3.16" height="1.49" fill="#f1731d"/><rect x="311.64" y="53.50" width="4.65" height="1.49" fill="#ef6c23"/><rect x="316.08" y="53.50" width="1.68" height="1.49" fill="#ec6726"/><rect x="317.57" y="53.50" width="1.68" height="1.49" fill="#ea632a"/><rect x="319.05" y="53.50" width="3.16" height="1.49" fill="#e05536"/><rect x="322.01" y="53.50" width="1.68" height="1.49" fill="#d94d3d"/><rect x="323.49" y="53.50" width="1.68" height="1.49" fill="#d54a41"/><rect x="324.98" y="53.50" width="1.68" height="1.49" fill="#cc4248"/><rect x="326.46" y="53.50" width="1.68" height="1.49" fill="#c03a51"/><rect x="327.94" y="53.50" width="1.68" height="1.49" fill="#ad305d"/><rect x="329.42" y="53.50" width="1.68" height="1.49" fill="#7a1d6d"/><rect x="330.90" y="53.50" width="1.68" height="1.49" fill="#751b6e"/><rect x="332.39" y="53.50" width="1.68" height="1.49" fill="#65156e"/><rect x="333.87" y="53.50" width="1.68" height="1.49" fill="#61136e"/><rect x="335.35" y="53.50" width="1.68" height="1.49" fill="#4c0c6b"/><rect x="336.83" y="53.50" width="3.16" height="1.49" fill="#160b39"/><rect x="345.72" y="53.50" width="1.68" height="1.49" fill="#000004"/><rect x="351.65" y="53.50" width="1.68" height="1.49" fill="#160b39"/><rect x="354.62" y="53.50" width="3.16" height="1.49" fill="#000004"/><rect x="366.47" y="53.50" width="1.68" height="1.49" fill="#000004"/><rect x="231.61" y="54.80" width="3.16" height="1.49" fill="#000004"/><rect x="236.06" y="54.80" width="1.68" height="1.49" fill="#000004"/><rect x="243.47" y="54.80" width="1.68" height="1.49" fill="#000004"/><rect x="246.43" y="54.80" width="1.68" height="1.49" fill="#000004"/><rect x="249.39" y="54.80" width="1.68" height="1.49" fill="#000004"/><rect x="253.84" y="54.80" width="1.68" height="1.49" fill="#000004"/><rect x="258.29" y="54.80" width="3.16" height="1.49" fill="#000004"/><rect x="262.73" y="54.80" width="1.68" height="1.49" fill="#000004"/><rect x="271.62" y="54.80" width="3.16" height="1.49" fill="#160b39"/><rect x="274.59" y="54.80" width="1.68" height="1.49" fill="#61136e"/><rect x="276.07" y="54.80" width="1.68" height="1.49" fill="#4c0c6b"/><rect x="277.55" y="54.80" width="1.68" height="1.49" fill="#61136e"/><rect x="279.03" y="54.80" width="1.68" height="1.49" fill="#71196e"/><rect x="280.52" y="54.80" width="1.68" height="1.49" fill="#7a1d6d"/><rect x="282.00" y="54.80" width="1.68" height="1.49" fill="#8f2469"/><rect x="283.48" y="54.80" width="1.68" height="1.49" fill="#982766"/><rect x="284.96" y="54.80" width="1.68" height="1.49" fill="#ad305d"/><rect x="286.44" y="54.80" width="1.68" height="1.49" fill="#b1325a"/><rect x="287.93" y="54.80" width="1.68" height="1.49" fill="#bc3754"/><rect x="289.41" y="54.80" width="1.68" height="1.49" fill="#c03a51"/><rect x="290.89" y="54.80" width="1.68" height="1.49" fill="#c43c4e"/><rect x="292.37" y="54.80" width="1.68" height="1.49" fill="#c83f4b"/><rect x="293.85" y="54.80" width="1.68" height="1.49" fill="#d94d3d"/><rect x="295.34" y="54.80" width="1.68" height="1.49" fill="#d24644"/><rect x="296.82" y="54.80" width="1.68" height="1.49" fill="#e45a31"/><rect x="298.30" y="54.80" width="3.16" height="1.49" fill="#e05536"/><rect x="301.26" y="54.80" width="1.68" height="1.49" fill="#e75e2e"/><rect x="302.75" y="54.80" width="1.68" height="1.49" fill="#e45a31"/><rect x="304.23" y="54.80" width="3.16" height="1.49" fill="#ea632a"/><rect x="307.19" y="54.80" width="3.16" height="1.49" fill="#ec6726"/><rect x="310.16" y="54.80" width="1.68" height="1.49" fill="#ef6c23"/><rect x="311.64" y="54.80" width="1.68" height="1.49" fill="#ea632a"/><rect x="313.12" y="54.80" width="1.68" height="1.49" fill="#ef6c23"/><rect x="314.60" y="54.80" width="3.16" height="1.49" fill="#ea632a"/><rect x="317.57" y="54.80" width="1.68" height="1.49" fill="#e75e2e"/><rect x="319.05" y="54.80" width="1.68" height="1.49" fill="#e05536"/><rect x="320.53" y="54.80" width="1.68" height="1.49" fill="#d94d3d"/><rect x="322.01" y="54.80" width="1.68" height="1.49" fill="#dd513a"/><rect x="323.49" y="54.80" width="3.16" height="1.49" fill="#cc4248"/><rect x="326.46" y="54.80" width="1.68" height="1.49" fill="#c03a51"/><rect x="327.94" y="54.80" width="1.68" height="1.49" fill="#a82e5f"/><rect x="329.42" y="54.80" width="3.16" height="1.49" fill="#7a1d6d"/><rect x="332.39" y="54.80" width="1.68" height="1.49" fill="#6a176e"/><rect x="333.87" y="54.80" width="1.68" height="1.49" fill="#61136e"/><rect x="335.35" y="54.80" width="1.68" height="1.49" fill="#7f1e6c"/><rect x="336.83" y="54.80" width="1.68" height="1.49" fill="#420a68"/><rect x="338.31" y="54.80" width="1.68" height="1.49" fill="#160b39"/><rect x="344.24" y="54.80" width="1.68" height="1.49" fill="#160b39"/><rect x="347.21" y="54.80" width="1.68" height="1.49" fill="#160b39"/><rect x="224.20" y="56.09" width="3.16" height="1.49" fill="#000004"/><rect x="233.09" y="56.09" width="1.68" height="1.49" fill="#000004"/><rect x="236.06" y="56.09" width="3.16" height="1.49" fill="#000004"/><rect x="240.50" y="56.09" width="1.68" height="1.49" fill="#000004"/><rect x="241.98" y="56.09" width="1.68" height="1.49" fill="#420a68"/><rect x="253.84" y="56.09" width="1.68" height="1.49" fill="#000004"/><rect x="261.25" y="56.09" width="1.68" height="1.49" fill="#000004"/><rect x="267.18" y="56.09" width="1.68" height="1.49" fill="#000004"/><rect x="268.66" y="56.09" width="1.68" height="1.49" fill="#420a68"/><rect x="271.62" y="56.09" width="1.68" height="1.49" fill="#000004"/><rect x="273.11" y="56.09" width="1.68" height="1.49" fill="#160b39"/><rect x="274.59" y="56.09" width="1.68" height="1.49" fill="#310a5c"/><rect x="276.07" y="56.09" width="1.68" height="1.49" fill="#160b39"/><rect x="277.55" y="56.09" width="1.68" height="1.49" fill="#310a5c"/><rect x="279.03" y="56.09" width="1.68" height="1.49" fill="#5c126e"/><rect x="280.52" y="56.09" width="1.68" height="1.49" fill="#71196e"/><rect x="282.00" y="56.09" width="1.68" height="1.49" fill="#7a1d6d"/><rect x="283.48" y="56.09" width="1.68" height="1.49" fill="#8a226a"/><rect x="284.96" y="56.09" width="1.68" height="1.49" fill="#982766"/><rect x="286.44" y="56.09" width="1.68" height="1.49" fill="#a82e5f"/><rect x="287.93" y="56.09" width="3.16" height="1.49" fill="#b1325a"/><rect x="290.89" y="56.09" width="1.68" height="1.49" fill="#bc3754"/><rect x="292.37" y="56.09" width="1.68" height="1.49" fill="#c43c4e"/><rect x="293.85" y="56.09" width="1.68" height="1.49" fill="#c03a51"/><rect x="295.34" y="56.09" width="1.68" height="1.49" fill="#cc4248"/><rect x="296.82" y="56.09" width="1.68" height="1.49" fill="#d54a41"/><rect x="298.30" y="56.09" width="3.16" height="1.49" fill="#d94d3d"/><rect x="301.26" y="56.09" width="3.16" height="1.49" fill="#e45a31"/><rect x="304.23" y="56.09" width="1.68" height="1.49" fill="#e75e2e"/><rect x="305.71" y="56.09" width="4.65" height="1.49" fill="#e45a31"/><rect x="310.16" y="56.09" width="1.68" height="1.49" fill="#e75e2e"/><rect x="311.64" y="56.09" width="3.16" height="1.49" fill="#e45a31"/><rect x="314.60" y="56.09" width="3.16" height="1.49" fill="#e75e2e"/><rect x="317.57" y="56.09" width="1.68" height="1.49" fill="#e05536"/><rect x="319.05" y="56.09" width="1.68" height="1.49" fill="#d94d3d"/><rect x="320.53" y="56.09" width="1.68" height="1.49" fill="#dd513a"/><rect x="322.01" y="56.09" width="1.68" height="1.49" fill="#d54a41"/><rect x="323.49" y="56.09" width="1.68" height="1.49" fill="#d24644"/><rect x="324.98" y="56.09" width="3.16" height="1.49" fill="#c43c4e"/><rect x="327.94" y="56.09" width="1.68" height="1.49" fill="#ad305d"/><rect x="329.42" y="56.09" width="1.68" height="1.49" fill="#7f1e6c"/><rect x="330.90" y="56.09" width="1.68" height="1.49" fill="#751b6e"/><rect x="332.39" y="56.09" width="1.68" height="1.49" fill="#6a176e"/><rect x="333.87" y="56.09" width="1.68" height="1.49" fill="#61136e"/><rect x="335.35" y="56.09" width="1.68" height="1.49" fill="#420a68"/><rect x="336.83" y="56.09" width="1.68" height="1.49" fill="#61136e"/><rect x="338.31" y="56.09" width="1.68" height="1.49" fill="#000004"/><rect x="345.72" y="56.09" width="1.68" height="1.49" fill="#000004"/><rect x="350.17" y="56.09" width="1.68" height="1.49" fill="#000004"/><rect x="362.03" y="56.09" width="1.68" height="1.49" fill="#000004"/><rect x="227.16" y="57.39" width="1.68" height="1.49" fill="#000004"/><rect x="237.54" y="57.39" width="1.68" height="1.49" fill="#000004"/><rect x="239.02" y="57.39" width="1.68" height="1.49" fill="#160b39"/><rect x="240.50" y="57.39" width="1.68" height="1.49" fill="#310a5c"/><rect x="241.98" y="57.39" width="3.16" height="1.49" fill="#000004"/><rect x="247.91" y="57.39" width="1.68" height="1.49" fill="#000004"/><rect x="252.36" y="57.39" width="1.68" height="1.49" fill="#000004"/><rect x="258.29" y="57.39" width="1.68" height="1.49" fill="#000004"/><rect x="261.25" y="57.39" width="1.68" height="1.49" fill="#000004"/><rect x="264.21" y="57.39" width="1.68" height="1.49" fill="#000004"/><rect x="271.62" y="57.39" width="1.68" height="1.49" fill="#000004"/><rect x="274.59" y="57.39" width="1.68" height="1.49" fill="#160b39"/><rect x="276.07" y="57.39" width="1.68" height="1.49" fill="#420a68"/><rect x="277.55" y="57.39" width="1.68" height="1.49" fill="#160b39"/><rect x="279.03" y="57.39" width="1.68" height="1.49" fill="#61136e"/><rect x="280.52" y="57.39" width="1.68" height="1.49" fill="#4c0c6b"/><rect x="282.00" y="57.39" width="1.68" height="1.49" fill="#6a176e"/><rect x="283.48" y="57.39" width="1.68" height="1.49" fill="#7f1e6c"/><rect x="284.96" y="57.39" width="1.68" height="1.49" fill="#7a1d6d"/><rect x="286.44" y="57.39" width="1.68" height="1.49" fill="#932667"/><rect x="287.93" y="57.39" width="1.68" height="1.49" fill="#a32c61"/><rect x="289.41" y="57.39" width="1.68" height="1.49" fill="#a82e5f"/><rect x="290.89" y="57.39" width="1.68" height="1.49" fill="#b63458"/><rect x="292.37" y="57.39" width="1.68" height="1.49" fill="#bc3754"/><rect x="293.85" y="57.39" width="3.16" height="1.49" fill="#c43c4e"/><rect x="296.82" y="57.39" width="1.68" height="1.49" fill="#cc4248"/><rect x="298.30" y="57.39" width="3.16" height="1.49" fill="#d24644"/><rect x="301.26" y="57.39" width="1.68" height="1.49" fill="#d94d3d"/><rect x="302.75" y="57.39" width="1.68" height="1.49" fill="#d54a41"/><rect x="304.23" y="57.39" width="3.16" height="1.49" fill="#d94d3d"/><rect x="307.19" y="57.39" width="1.68" height="1.49" fill="#e45a31"/><rect x="308.67" y="57.39" width="3.16" height="1.49" fill="#e05536"/><rect x="311.64" y="57.39" width="1.68" height="1.49" fill="#e45a31"/><rect x="313.12" y="57.39" width="1.68" height="1.49" fill="#e05536"/><rect x="314.60" y="57.39" width="1.68" height="1.49" fill="#e45a31"/><rect x="316.08" y="57.39" width="1.68" height="1.49" fill="#e05536"/><rect x="317.57" y="57.39" width="1.68" height="1.49" fill="#dd513a"/><rect x="319.05" y="57.39" width="1.68" height="1.49" fill="#d94d3d"/><rect x="320.53" y="57.39" width="1.68" height="1.49" fill="#cc4248"/><rect x="322.01" y="57.39" width="1.68" height="1.49" fill="#d94d3d"/><rect x="323.49" y="57.39" width="1.68" height="1.49" fill="#d24644"/><rect x="324.98" y="57.39" width="3.16" height="1.49" fill="#c03a51"/><rect x="327.94" y="57.39" width="1.68" height="1.49" fill="#a32c61"/><rect x="329.42" y="57.39" width="3.16" height="1.49" fill="#7f1e6c"/><rect x="332.39" y="57.39" width="1.68" height="1.49" fill="#71196e"/><rect x="333.87" y="57.39" width="1.68" height="1.49" fill="#65156e"/><rect x="335.35" y="57.39" width="1.68" height="1.49" fill="#5c126e"/><rect x="336.83" y="57.39" width="3.16" height="1.49" fill="#310a5c"/><rect x="339.80" y="57.39" width="1.68" height="1.49" fill="#000004"/><rect x="357.58" y="57.39" width="1.68" height="1.49" fill="#160b39"/><rect x="224.20" y="58.68" width="1.68" height="1.49" fill="#000004"/><rect x="228.65" y="58.68" width="4.65" height="1.49" fill="#160b39"/><rect x="233.09" y="58.68" width="1.68" height="1.49" fill="#000004"/><rect x="237.54" y="58.68" width="1.68" height="1.49" fill="#000004"/><rect x="239.02" y="58.68" width="1.68" height="1.49" fill="#160b39"/><rect x="243.47" y="58.68" width="4.65" height="1.49" fill="#000004"/><rect x="250.88" y="58.68" width="1.68" height="1.49" fill="#000004"/><rect x="267.18" y="58.68" width="1.68" height="1.49" fill="#000004"/><rect x="271.62" y="58.68" width="3.16" height="1.49" fill="#160b39"/><rect x="274.59" y="58.68" width="1.68" height="1.49" fill="#420a68"/><rect x="276.07" y="58.68" width="1.68" height="1.49" fill="#310a5c"/><rect x="277.55" y="58.68" width="1.68" height="1.49" fill="#420a68"/><rect x="279.03" y="58.68" width="3.16" height="1.49" fill="#000004"/><rect x="282.00" y="58.68" width="1.68" height="1.49" fill="#420a68"/><rect x="283.48" y="58.68" width="1.68" height="1.49" fill="#65156e"/><rect x="284.96" y="58.68" width="3.16" height="1.49" fill="#7a1d6d"/><rect x="287.93" y="58.68" width="1.68" height="1.49" fill="#8a226a"/><rect x="289.41" y="58.68" width="4.65" height="1.49" fill="#a32c61"/><rect x="293.85" y="58.68" width="1.68" height="1.49" fill="#b63458"/><rect x="295.34" y="58.68" width="3.16" height="1.49" fill="#c03a51"/><rect x="298.30" y="58.68" width="1.68" height="1.49" fill="#c43c4e"/><rect x="299.78" y="58.68" width="1.68" height="1.49" fill="#cc4248"/><rect x="301.26" y="58.68" width="4.65" height="1.49" fill="#d24644"/><rect x="305.71" y="58.68" width="3.16" height="1.49" fill="#d94d3d"/><rect x="308.67" y="58.68" width="1.68" height="1.49" fill="#d54a41"/><rect x="310.16" y="58.68" width="1.68" height="1.49" fill="#d94d3d"/><rect x="311.64" y="58.68" width="1.68" height="1.49" fill="#dd513a"/><rect x="313.12" y="58.68" width="1.68" height="1.49" fill="#d94d3d"/><rect x="314.60" y="58.68" width="4.65" height="1.49" fill="#dd513a"/><rect x="319.05" y="58.68" width="3.16" height="1.49" fill="#d54a41"/><rect x="322.01" y="58.68" width="4.65" height="1.49" fill="#c83f4b"/><rect x="326.46" y="58.68" width="1.68" height="1.49" fill="#b1325a"/><rect x="327.94" y="58.68" width="1.68" height="1.49" fill="#a82e5f"/><rect x="329.42" y="58.68" width="1.68" height="1.49" fill="#84206b"/><rect x="330.90" y="58.68" width="1.68" height="1.49" fill="#7a1d6d"/><rect x="332.39" y="58.68" width="1.68" height="1.49" fill="#71196e"/><rect x="333.87" y="58.68" width="1.68" height="1.49" fill="#5c126e"/><rect x="335.35" y="58.68" width="1.68" height="1.49" fill="#6a176e"/><rect x="338.31" y="58.68" width="3.16" height="1.49" fill="#000004"/><rect x="342.76" y="58.68" width="1.68" height="1.49" fill="#310a5c"/><rect x="344.24" y="58.68" width="1.68" height="1.49" fill="#000004"/><rect x="350.17" y="58.68" width="3.16" height="1.49" fill="#000004"/><rect x="356.10" y="58.68" width="1.68" height="1.49" fill="#000004"/><rect x="362.03" y="58.68" width="1.68" height="1.49" fill="#000004"/><rect x="364.99" y="58.68" width="3.16" height="1.49" fill="#000004"/><rect x="367.95" y="58.68" width="1.68" height="1.49" fill="#160b39"/><rect x="370.92" y="58.68" width="1.68" height="1.49" fill="#000004"/><rect x="225.68" y="59.98" width="1.68" height="1.49" fill="#000004"/><rect x="237.54" y="59.98" width="1.68" height="1.49" fill="#000004"/><rect x="239.02" y="59.98" width="1.68" height="1.49" fill="#420a68"/><rect x="241.98" y="59.98" width="1.68" height="1.49" fill="#000004"/><rect x="255.32" y="59.98" width="1.68" height="1.49" fill="#000004"/><rect x="270.14" y="59.98" width="1.68" height="1.49" fill="#160b39"/><rect x="273.11" y="59.98" width="1.68" height="1.49" fill="#000004"/><rect x="274.59" y="59.98" width="1.68" height="1.49" fill="#420a68"/><rect x="276.07" y="59.98" width="3.16" height="1.49" fill="#160b39"/><rect x="279.03" y="59.98" width="1.68" height="1.49" fill="#000004"/><rect x="280.52" y="59.98" width="1.68" height="1.49" fill="#6a176e"/><rect x="282.00" y="59.98" width="1.68" height="1.49" fill="#000004"/><rect x="283.48" y="59.98" width="1.68" height="1.49" fill="#310a5c"/><rect x="284.96" y="59.98" width="1.68" height="1.49" fill="#5c126e"/><rect x="286.44" y="59.98" width="1.68" height="1.49" fill="#751b6e"/><rect x="287.93" y="59.98" width="1.68" height="1.49" fill="#7f1e6c"/><rect x="289.41" y="59.98" width="1.68" height="1.49" fill="#8f2469"/><rect x="290.89" y="59.98" width="1.68" height="1.49" fill="#982766"/><rect x="292.37" y="59.98" width="1.68" height="1.49" fill="#9d2964"/><rect x="293.85" y="59.98" width="1.68" height="1.49" fill="#a82e5f"/><rect x="295.34" y="59.98" width="1.68" height="1.49" fill="#b1325a"/><rect x="296.82" y="59.98" width="3.16" height="1.49" fill="#bc3754"/><rect x="299.78" y="59.98" width="3.16" height="1.49" fill="#c03a51"/><rect x="302.75" y="59.98" width="1.68" height="1.49" fill="#c83f4b"/><rect x="304.23" y="59.98" width="1.68" height="1.49" fill="#cc4248"/><rect x="305.71" y="59.98" width="1.68" height="1.49" fill="#d24644"/><rect x="307.19" y="59.98" width="1.68" height="1.49" fill="#cc4248"/><rect x="308.67" y="59.98" width="1.68" height="1.49" fill="#d24644"/><rect x="310.16" y="59.98" width="4.65" height="1.49" fill="#d54a41"/><rect x="314.60" y="59.98" width="1.68" height="1.49" fill="#d94d3d"/><rect x="316.08" y="59.98" width="1.68" height="1.49" fill="#d24644"/><rect x="317.57" y="59.98" width="1.68" height="1.49" fill="#d54a41"/><rect x="319.05" y="59.98" width="1.68" height="1.49" fill="#c83f4b"/><rect x="320.53" y="59.98" width="1.68" height="1.49" fill="#cc4248"/><rect x="322.01" y="59.98" width="1.68" height="1.49" fill="#c43c4e"/><rect x="323.49" y="59.98" width="1.68" height="1.49" fill="#c83f4b"/><rect x="324.98" y="59.98" width="1.68" height="1.49" fill="#c03a51"/><rect x="326.46" y="59.98" width="1.68" height="1.49" fill="#bc3754"/><rect x="327.94" y="59.98" width="1.68" height="1.49" fill="#9d2964"/><rect x="329.42" y="59.98" width="1.68" height="1.49" fill="#7a1d6d"/><rect x="330.90" y="59.98" width="3.16" height="1.49" fill="#71196e"/><rect x="333.87" y="59.98" width="1.68" height="1.49" fill="#6a176e"/><rect x="335.35" y="59.98" width="1.68" height="1.49" fill="#61136e"/><rect x="336.83" y="59.98" width="1.68" height="1.49" fill="#420a68"/><rect x="338.31" y="59.98" width="1.68" height="1.49" fill="#310a5c"/><rect x="339.80" y="59.98" width="1.68" height="1.49" fill="#000004"/><rect x="344.24" y="59.98" width="1.68" height="1.49" fill="#000004"/><rect x="347.21" y="59.98" width="1.68" height="1.49" fill="#000004"/><rect x="353.13" y="59.98" width="1.68" height="1.49" fill="#000004"/><rect x="359.06" y="59.98" width="1.68" height="1.49" fill="#000004"/><rect x="234.57" y="61.27" width="3.16" height="1.49" fill="#000004"/><rect x="239.02" y="61.27" width="3.16" height="1.49" fill="#000004"/><rect x="265.70" y="61.27" width="3.16" height="1.49" fill="#000004"/><rect x="270.14" y="61.27" width="1.68" height="1.49" fill="#000004"/><rect x="273.11" y="61.27" width="1.68" height="1.49" fill="#000004"/><rect x="274.59" y="61.27" width="1.68" height="1.49" fill="#310a5c"/><rect x="277.55" y="61.27" width="1.68" height="1.49" fill="#000004"/><rect x="280.52" y="61.27" width="1.68" height="1.49" fill="#000004"/><rect x="282.00" y="61.27" width="1.68" height="1.49" fill="#310a5c"/><rect x="283.48" y="61.27" width="3.16" height="1.49" fill="#4c0c6b"/><rect x="286.44" y="61.27" width="1.68" height="1.49" fill="#65156e"/><rect x="287.93" y="61.27" width="1.68" height="1.49" fill="#6a176e"/><rect x="289.41" y="61.27" width="1.68" height="1.49" fill="#7a1d6d"/><rect x="290.89" y="61.27" width="1.68" height="1.49" fill="#7f1e6c"/><rect x="292.37" y="61.27" width="1.68" height="1.49" fill="#8f2469"/><rect x="293.85" y="61.27" width="1.68" height="1.49" fill="#932667"/><rect x="295.34" y="61.27" width="1.68" height="1.49" fill="#9d2964"/><rect x="296.82" y="61.27" width="1.68" height="1.49" fill="#a32c61"/><rect x="298.30" y="61.27" width="1.68" height="1.49" fill="#b63458"/><rect x="299.78" y="61.27" width="1.68" height="1.49" fill="#c03a51"/><rect x="301.26" y="61.27" width="1.68" height="1.49" fill="#bc3754"/><rect x="302.75" y="61.27" width="1.68" height="1.49" fill="#c03a51"/><rect x="304.23" y="61.27" width="3.16" height="1.49" fill="#c43c4e"/><rect x="307.19" y="61.27" width="3.16" height="1.49" fill="#c83f4b"/><rect x="310.16" y="61.27" width="1.68" height="1.49" fill="#d24644"/><rect x="311.64" y="61.27" width="1.68" height="1.49" fill="#c83f4b"/><rect x="313.12" y="61.27" width="1.68" height="1.49" fill="#cc4248"/><rect x="314.60" y="61.27" width="1.68" height="1.49" fill="#d24644"/><rect x="316.08" y="61.27" width="1.68" height="1.49" fill="#c83f4b"/><rect x="317.57" y="61.27" width="1.68" height="1.49" fill="#d24644"/><rect x="319.05" y="61.27" width="4.65" height="1.49" fill="#c83f4b"/><rect x="323.49" y="61.27" width="1.68" height="1.49" fill="#c03a51"/><rect x="324.98" y="61.27" width="1.68" height="1.49" fill="#bc3754"/><rect x="326.46" y="61.27" width="1.68" height="1.49" fill="#ad305d"/><rect x="327.94" y="61.27" width="1.68" height="1.49" fill="#9d2964"/><rect x="329.42" y="61.27" width="1.68" height="1.49" fill="#7f1e6c"/><rect x="330.90" y="61.27" width="3.16" height="1.49" fill="#71196e"/><rect x="333.87" y="61.27" width="1.68" height="1.49" fill="#65156e"/><rect x="335.35" y="61.27" width="3.16" height="1.49" fill="#420a68"/><rect x="338.31" y="61.27" width="3.16" height="1.49" fill="#000004"/><rect x="344.24" y="61.27" width="1.68" height="1.49" fill="#000004"/><rect x="350.17" y="61.27" width="1.68" height="1.49" fill="#000004"/><rect x="362.03" y="61.27" width="1.68" height="1.49" fill="#000004"/><rect x="363.51" y="61.27" width="1.68" height="1.49" fill="#160b39"/><rect x="228.65" y="62.57" width="1.68" height="1.49" fill="#000004"/><rect x="240.50" y="62.57" width="1.68" height="1.49" fill="#160b39"/><rect x="259.77" y="62.57" width="1.68" height="1.49" fill="#000004"/><rect x="264.21" y="62.57" width="1.68" height="1.49" fill="#000004"/><rect x="267.18" y="62.57" width="1.68" height="1.49" fill="#000004"/><rect x="273.11" y="62.57" width="1.68" height="1.49" fill="#000004"/><rect x="276.07" y="62.57" width="6.13" height="1.49" fill="#000004"/><rect x="282.00" y="62.57" width="1.68" height="1.49" fill="#160b39"/><rect x="283.48" y="62.57" width="1.68" height="1.49" fill="#5c126e"/><rect x="284.96" y="62.57" width="1.68" height="1.49" fill="#000004"/><rect x="286.44" y="62.57" width="1.68" height="1.49" fill="#160b39"/><rect x="287.93" y="62.57" width="1.68" height="1.49" fill="#61136e"/><rect x="289.41" y="62.57" width="1.68" height="1.49" fill="#65156e"/><rect x="290.89" y="62.57" width="1.68" height="1.49" fill="#7a1d6d"/><rect x="292.37" y="62.57" width="1.68" height="1.49" fill="#7f1e6c"/><rect x="293.85" y="62.57" width="3.16" height="1.49" fill="#8f2469"/><rect x="296.82" y="62.57" width="1.68" height="1.49" fill="#9d2964"/><rect x="298.30" y="62.57" width="1.68" height="1.49" fill="#a32c61"/><rect x="299.78" y="62.57" width="1.68" height="1.49" fill="#b1325a"/><rect x="301.26" y="62.57" width="1.68" height="1.49" fill="#ad305d"/><rect x="302.75" y="62.57" width="1.68" height="1.49" fill="#b1325a"/><rect x="304.23" y="62.57" width="7.61" height="1.49" fill="#c03a51"/><rect x="311.64" y="62.57" width="1.68" height="1.49" fill="#c43c4e"/><rect x="313.12" y="62.57" width="1.68" height="1.49" fill="#c83f4b"/><rect x="314.60" y="62.57" width="4.65" height="1.49" fill="#cc4248"/><rect x="319.05" y="62.57" width="1.68" height="1.49" fill="#c43c4e"/><rect x="320.53" y="62.57" width="4.65" height="1.49" fill="#c03a51"/><rect x="324.98" y="62.57" width="1.68" height="1.49" fill="#b63458"/><rect x="326.46" y="62.57" width="1.68" height="1.49" fill="#b1325a"/><rect x="327.94" y="62.57" width="1.68" height="1.49" fill="#932667"/><rect x="329.42" y="62.57" width="1.68" height="1.49" fill="#751b6e"/><rect x="330.90" y="62.57" width="3.16" height="1.49" fill="#71196e"/><rect x="333.87" y="62.57" width="1.68" height="1.49" fill="#61136e"/><rect x="335.35" y="62.57" width="1.68" height="1.49" fill="#310a5c"/><rect x="336.83" y="62.57" width="1.68" height="1.49" fill="#61136e"/><rect x="338.31" y="62.57" width="1.68" height="1.49" fill="#160b39"/><rect x="339.80" y="62.57" width="3.16" height="1.49" fill="#000004"/><rect x="345.72" y="62.57" width="1.68" height="1.49" fill="#000004"/><rect x="347.21" y="62.57" width="1.68" height="1.49" fill="#160b39"/><rect x="363.51" y="62.57" width="1.68" height="1.49" fill="#000004"/><rect x="240.50" y="63.86" width="1.68" height="1.49" fill="#000004"/><rect x="261.25" y="63.86" width="1.68" height="1.49" fill="#000004"/><rect x="277.55" y="63.86" width="1.68" height="1.49" fill="#310a5c"/><rect x="279.03" y="63.86" width="1.68" height="1.49" fill="#000004"/><rect x="283.48" y="63.86" width="1.68" height="1.49" fill="#160b39"/><rect x="284.96" y="63.86" width="3.16" height="1.49" fill="#000004"/><rect x="287.93" y="63.86" width="1.68" height="1.49" fill="#4c0c6b"/><rect x="289.41" y="63.86" width="1.68" height="1.49" fill="#160b39"/><rect x="290.89" y="63.86" width="1.68" height="1.49" fill="#57106e"/><rect x="292.37" y="63.86" width="1.68" height="1.49" fill="#751b6e"/><rect x="293.85" y="63.86" width="1.68" height="1.49" fill="#7f1e6c"/><rect x="295.34" y="63.86" width="3.16" height="1.49" fill="#84206b"/><rect x="298.30" y="63.86" width="3.16" height="1.49" fill="#982766"/><rect x="301.26" y="63.86" width="3.16" height="1.49" fill="#9d2964"/><rect x="304.23" y="63.86" width="1.68" height="1.49" fill="#a82e5f"/><rect x="305.71" y="63.86" width="1.68" height="1.49" fill="#ad305d"/><rect x="307.19" y="63.86" width="1.68" height="1.49" fill="#b1325a"/><rect x="308.67" y="63.86" width="1.68" height="1.49" fill="#bc3754"/><rect x="310.16" y="63.86" width="3.16" height="1.49" fill="#c03a51"/><rect x="313.12" y="63.86" width="1.68" height="1.49" fill="#bc3754"/><rect x="314.60" y="63.86" width="1.68" height="1.49" fill="#c03a51"/><rect x="316.08" y="63.86" width="1.68" height="1.49" fill="#bc3754"/><rect x="317.57" y="63.86" width="1.68" height="1.49" fill="#c03a51"/><rect x="319.05" y="63.86" width="3.16" height="1.49" fill="#b63458"/><rect x="322.01" y="63.86" width="1.68" height="1.49" fill="#bc3754"/><rect x="323.49" y="63.86" width="1.68" height="1.49" fill="#b1325a"/><rect x="324.98" y="63.86" width="1.68" height="1.49" fill="#a82e5f"/><rect x="326.46" y="63.86" width="1.68" height="1.49" fill="#ad305d"/><rect x="327.94" y="63.86" width="1.68" height="1.49" fill="#8f2469"/><rect x="329.42" y="63.86" width="1.68" height="1.49" fill="#71196e"/><rect x="330.90" y="63.86" width="1.68" height="1.49" fill="#6a176e"/><rect x="332.39" y="63.86" width="1.68" height="1.49" fill="#65156e"/><rect x="333.87" y="63.86" width="1.68" height="1.49" fill="#61136e"/><rect x="335.35" y="63.86" width="1.68" height="1.49" fill="#310a5c"/><rect x="336.83" y="63.86" width="1.68" height="1.49" fill="#61136e"/><rect x="338.31" y="63.86" width="4.65" height="1.49" fill="#160b39"/><rect x="342.76" y="63.86" width="1.68" height="1.49" fill="#000004"/><rect x="347.21" y="63.86" width="1.68" height="1.49" fill="#000004"/><rect x="362.03" y="63.86" width="1.68" height="1.49" fill="#000004"/><rect x="369.44" y="63.86" width="1.68" height="1.49" fill="#000004"/><rect x="271.62" y="65.16" width="3.16" height="1.49" fill="#000004"/><rect x="284.96" y="65.16" width="1.68" height="1.49" fill="#310a5c"/><rect x="286.44" y="65.16" width="1.68" height="1.49" fill="#5c126e"/><rect x="287.93" y="65.16" width="1.68" height="1.49" fill="#420a68"/><rect x="289.41" y="65.16" width="1.68" height="1.49" fill="#4c0c6b"/><rect x="290.89" y="65.16" width="1.68" height="1.49" fill="#160b39"/><rect x="292.37" y="65.16" width="1.68" height="1.49" fill="#65156e"/><rect x="293.85" y="65.16" width="1.68" height="1.49" fill="#71196e"/><rect x="295.34" y="65.16" width="1.68" height="1.49" fill="#7a1d6d"/><rect x="296.82" y="65.16" width="1.68" height="1.49" fill="#7f1e6c"/><rect x="298.30" y="65.16" width="1.68" height="1.49" fill="#84206b"/><rect x="299.78" y="65.16" width="1.68" height="1.49" fill="#8f2469"/><rect x="301.26" y="65.16" width="1.68" height="1.49" fill="#932667"/><rect x="302.75" y="65.16" width="1.68" height="1.49" fill="#982766"/><rect x="304.23" y="65.16" width="3.16" height="1.49" fill="#a82e5f"/><rect x="307.19" y="65.16" width="1.68" height="1.49" fill="#a32c61"/><rect x="308.67" y="65.16" width="1.68" height="1.49" fill="#a82e5f"/><rect x="310.16" y="65.16" width="1.68" height="1.49" fill="#b63458"/><rect x="311.64" y="65.16" width="3.16" height="1.49" fill="#bc3754"/><rect x="314.60" y="65.16" width="1.68" height="1.49" fill="#c03a51"/><rect x="316.08" y="65.16" width="1.68" height="1.49" fill="#b63458"/><rect x="317.57" y="65.16" width="1.68" height="1.49" fill="#bc3754"/><rect x="319.05" y="65.16" width="1.68" height="1.49" fill="#b1325a"/><rect x="320.53" y="65.16" width="1.68" height="1.49" fill="#bc3754"/><rect x="322.01" y="65.16" width="1.68" height="1.49" fill="#b63458"/><rect x="323.49" y="65.16" width="1.68" height="1.49" fill="#b1325a"/><rect x="324.98" y="65.16" width="1.68" height="1.49" fill="#ad305d"/><rect x="326.46" y="65.16" width="1.68" height="1.49" fill="#9d2964"/><rect x="327.94" y="65.16" width="1.68" height="1.49" fill="#932667"/><rect x="329.42" y="65.16" width="1.68" height="1.49" fill="#6a176e"/><rect x="330.90" y="65.16" width="1.68" height="1.49" fill="#71196e"/><rect x="332.39" y="65.16" width="3.16" height="1.49" fill="#65156e"/><rect x="335.35" y="65.16" width="1.68" height="1.49" fill="#6a176e"/><rect x="336.83" y="65.16" width="1.68" height="1.49" fill="#310a5c"/><rect x="338.31" y="65.16" width="1.68" height="1.49" fill="#160b39"/><rect x="341.28" y="65.16" width="1.68" height="1.49" fill="#000004"/><rect x="348.69" y="65.16" width="1.68" height="1.49" fill="#000004"/><rect x="370.92" y="65.16" width="1.68" height="1.49" fill="#000004"/><rect x="246.43" y="66.45" width="1.68" height="1.49" fill="#000004"/><rect x="276.07" y="66.45" width="1.68" height="1.49" fill="#000004"/><rect x="279.03" y="66.45" width="1.68" height="1.49" fill="#000004"/><rect x="282.00" y="66.45" width="3.16" height="1.49" fill="#000004"/><rect x="284.96" y="66.45" width="1.68" height="1.49" fill="#4c0c6b"/><rect x="286.44" y="66.45" width="1.68" height="1.49" fill="#160b39"/><rect x="287.93" y="66.45" width="1.68" height="1.49" fill="#4c0c6b"/><rect x="289.41" y="66.45" width="1.68" height="1.49" fill="#160b39"/><rect x="290.89" y="66.45" width="3.16" height="1.49" fill="#4c0c6b"/><rect x="293.85" y="66.45" width="1.68" height="1.49" fill="#57106e"/><rect x="295.34" y="66.45" width="3.16" height="1.49" fill="#65156e"/><rect x="298.30" y="66.45" width="1.68" height="1.49" fill="#7f1e6c"/><rect x="299.78" y="66.45" width="1.68" height="1.49" fill="#84206b"/><rect x="301.26" y="66.45" width="1.68" height="1.49" fill="#8f2469"/><rect x="302.75" y="66.45" width="1.68" height="1.49" fill="#982766"/><rect x="304.23" y="66.45" width="1.68" height="1.49" fill="#932667"/><rect x="305.71" y="66.45" width="3.16" height="1.49" fill="#982766"/><rect x="308.67" y="66.45" width="1.68" height="1.49" fill="#a32c61"/><rect x="310.16" y="66.45" width="1.68" height="1.49" fill="#a82e5f"/><rect x="311.64" y="66.45" width="1.68" height="1.49" fill="#ad305d"/><rect x="313.12" y="66.45" width="3.16" height="1.49" fill="#b1325a"/><rect x="316.08" y="66.45" width="1.68" height="1.49" fill="#b63458"/><rect x="317.57" y="66.45" width="3.16" height="1.49" fill="#ad305d"/><rect x="320.53" y="66.45" width="1.68" height="1.49" fill="#a82e5f"/><rect x="322.01" y="66.45" width="1.68" height="1.49" fill="#ad305d"/><rect x="323.49" y="66.45" width="1.68" height="1.49" fill="#9d2964"/><rect x="324.98" y="66.45" width="1.68" height="1.49" fill="#a32c61"/><rect x="326.46" y="66.45" width="1.68" height="1.49" fill="#9d2964"/><rect x="327.94" y="66.45" width="1.68" height="1.49" fill="#8a226a"/><rect x="329.42" y="66.45" width="1.68" height="1.49" fill="#71196e"/><rect x="330.90" y="66.45" width="3.16" height="1.49" fill="#65156e"/><rect x="333.87" y="66.45" width="1.68" height="1.49" fill="#5c126e"/><rect x="335.35" y="66.45" width="1.68" height="1.49" fill="#7f1e6c"/><rect x="336.83" y="66.45" width="1.68" height="1.49" fill="#420a68"/><rect x="338.31" y="66.45" width="1.68" height="1.49" fill="#4c0c6b"/><rect x="339.80" y="66.45" width="1.68" height="1.49" fill="#000004"/><rect x="342.76" y="66.45" width="1.68" height="1.49" fill="#160b39"/><rect x="348.69" y="66.45" width="1.68" height="1.49" fill="#000004"/><rect x="359.06" y="66.45" width="1.68" height="1.49" fill="#000004"/><rect x="282.00" y="67.75" width="3.16" height="1.49" fill="#000004"/><rect x="286.44" y="67.75" width="3.16" height="1.49" fill="#000004"/><rect x="289.41" y="67.75" width="4.65" height="1.49" fill="#160b39"/><rect x="293.85" y="67.75" width="1.68" height="1.49" fill="#61136e"/><rect x="295.34" y="67.75" width="1.68" height="1.49" fill="#7f1e6c"/><rect x="296.82" y="67.75" width="1.68" height="1.49" fill="#65156e"/><rect x="298.30" y="67.75" width="1.68" height="1.49" fill="#71196e"/><rect x="299.78" y="67.75" width="1.68" height="1.49" fill="#751b6e"/><rect x="301.26" y="67.75" width="3.16" height="1.49" fill="#7a1d6d"/><rect x="304.23" y="67.75" width="1.68" height="1.49" fill="#84206b"/><rect x="305.71" y="67.75" width="1.68" height="1.49" fill="#8a226a"/><rect x="307.19" y="67.75" width="1.68" height="1.49" fill="#8f2469"/><rect x="308.67" y="67.75" width="1.68" height="1.49" fill="#932667"/><rect x="310.16" y="67.75" width="1.68" height="1.49" fill="#a82e5f"/><rect x="311.64" y="67.75" width="1.68" height="1.49" fill="#a32c61"/><rect x="313.12" y="67.75" width="1.68" height="1.49" fill="#9d2964"/><rect x="314.60" y="67.75" width="6.13" height="1.49" fill="#a32c61"/><rect x="320.53" y="67.75" width="1.68" height="1.49" fill="#982766"/><rect x="322.01" y="67.75" width="3.16" height="1.49" fill="#a82e5f"/><rect x="324.98" y="67.75" width="1.68" height="1.49" fill="#a32c61"/><rect x="326.46" y="67.75" width="1.68" height="1.49" fill="#982766"/><rect x="327.94" y="67.75" width="1.68" height="1.49" fill="#8a226a"/><rect x="329.42" y="67.75" width="1.68" height="1.49" fill="#6a176e"/><rect x="330.90" y="67.75" width="1.68" height="1.49" fill="#61136e"/><rect x="332.39" y="67.75" width="1.68" height="1.49" fill="#65156e"/><rect x="333.87" y="67.75" width="3.16" height="1.49" fill="#5c126e"/><rect x="336.83" y="67.75" width="1.68" height="1.49" fill="#420a68"/><rect x="338.31" y="67.75" width="1.68" height="1.49" fill="#310a5c"/><rect x="339.80" y="67.75" width="3.16" height="1.49" fill="#000004"/><rect x="342.76" y="67.75" width="1.68" height="1.49" fill="#160b39"/><rect x="347.21" y="67.75" width="3.16" height="1.49" fill="#000004"/><rect x="249.39" y="69.05" width="1.68" height="1.49" fill="#000004"/><rect x="253.84" y="69.05" width="1.68" height="1.49" fill="#000004"/><rect x="279.03" y="69.05" width="1.68" height="1.49" fill="#000004"/><rect x="282.00" y="69.05" width="1.68" height="1.49" fill="#160b39"/><rect x="287.93" y="69.05" width="1.68" height="1.49" fill="#000004"/><rect x="289.41" y="69.05" width="3.16" height="1.49" fill="#310a5c"/><rect x="292.37" y="69.05" width="1.68" height="1.49" fill="#000004"/><rect x="293.85" y="69.05" width="1.68" height="1.49" fill="#310a5c"/><rect x="295.34" y="69.05" width="1.68" height="1.49" fill="#5c126e"/><rect x="296.82" y="69.05" width="1.68" height="1.49" fill="#310a5c"/><rect x="298.30" y="69.05" width="1.68" height="1.49" fill="#61136e"/><rect x="299.78" y="69.05" width="1.68" height="1.49" fill="#6a176e"/><rect x="301.26" y="69.05" width="3.16" height="1.49" fill="#71196e"/><rect x="304.23" y="69.05" width="1.68" height="1.49" fill="#7f1e6c"/><rect x="305.71" y="69.05" width="1.68" height="1.49" fill="#7a1d6d"/><rect x="307.19" y="69.05" width="3.16" height="1.49" fill="#8a226a"/><rect x="310.16" y="69.05" width="1.68" height="1.49" fill="#932667"/><rect x="311.64" y="69.05" width="3.16" height="1.49" fill="#982766"/><rect x="314.60" y="69.05" width="1.68" height="1.49" fill="#8a226a"/><rect x="316.08" y="69.05" width="1.68" height="1.49" fill="#932667"/><rect x="317.57" y="69.05" width="3.16" height="1.49" fill="#982766"/><rect x="320.53" y="69.05" width="1.68" height="1.49" fill="#9d2964"/><rect x="322.01" y="69.05" width="1.68" height="1.49" fill="#a82e5f"/><rect x="323.49" y="69.05" width="1.68" height="1.49" fill="#9d2964"/><rect x="324.98" y="69.05" width="3.16" height="1.49" fill="#982766"/><rect x="327.94" y="69.05" width="1.68" height="1.49" fill="#84206b"/><rect x="329.42" y="69.05" width="1.68" height="1.49" fill="#71196e"/><rect x="330.90" y="69.05" width="1.68" height="1.49" fill="#6a176e"/><rect x="332.39" y="69.05" width="1.68" height="1.49" fill="#5c126e"/><rect x="333.87" y="69.05" width="1.68" height="1.49" fill="#61136e"/><rect x="335.35" y="69.05" width="1.68" height="1.49" fill="#4c0c6b"/><rect x="336.83" y="69.05" width="1.68" height="1.49" fill="#71196e"/><rect x="338.31" y="69.05" width="1.68" height="1.49" fill="#000004"/><rect x="339.80" y="69.05" width="1.68" height="1.49" fill="#160b39"/><rect x="350.17" y="69.05" width="3.16" height="1.49" fill="#000004"/><rect x="362.03" y="69.05" width="1.68" height="1.49" fill="#000004"/><rect x="280.52" y="70.34" width="1.68" height="1.49" fill="#000004"/><rect x="282.00" y="70.34" width="1.68" height="1.49" fill="#160b39"/><rect x="290.89" y="70.34" width="1.68" height="1.49" fill="#310a5c"/><rect x="292.37" y="70.34" width="1.68" height="1.49" fill="#160b39"/><rect x="293.85" y="70.34" width="1.68" height="1.49" fill="#310a5c"/><rect x="295.34" y="70.34" width="1.68" height="1.49" fill="#4c0c6b"/><rect x="296.82" y="70.34" width="1.68" height="1.49" fill="#160b39"/><rect x="298.30" y="70.34" width="1.68" height="1.49" fill="#310a5c"/><rect x="299.78" y="70.34" width="1.68" height="1.49" fill="#5c126e"/><rect x="301.26" y="70.34" width="1.68" height="1.49" fill="#57106e"/><rect x="302.75" y="70.34" width="1.68" height="1.49" fill="#6a176e"/><rect x="304.23" y="70.34" width="1.68" height="1.49" fill="#65156e"/><rect x="305.71" y="70.34" width="1.68" height="1.49" fill="#71196e"/><rect x="307.19" y="70.34" width="3.16" height="1.49" fill="#7f1e6c"/><rect x="310.16" y="70.34" width="1.68" height="1.49" fill="#84206b"/><rect x="311.64" y="70.34" width="1.68" height="1.49" fill="#7f1e6c"/><rect x="313.12" y="70.34" width="6.13" height="1.49" fill="#932667"/><rect x="319.05" y="70.34" width="1.68" height="1.49" fill="#8a226a"/><rect x="320.53" y="70.34" width="1.68" height="1.49" fill="#8f2469"/><rect x="322.01" y="70.34" width="3.16" height="1.49" fill="#982766"/><rect x="324.98" y="70.34" width="1.68" height="1.49" fill="#932667"/><rect x="326.46" y="70.34" width="1.68" height="1.49" fill="#84206b"/><rect x="327.94" y="70.34" width="1.68" height="1.49" fill="#7f1e6c"/><rect x="329.42" y="70.34" width="1.68" height="1.49" fill="#71196e"/><rect x="330.90" y="70.34" width="3.16" height="1.49" fill="#61136e"/><rect x="333.87" y="70.34" width="1.68" height="1.49" fill="#5c126e"/><rect x="335.35" y="70.34" width="1.68" height="1.49" fill="#420a68"/><rect x="336.83" y="70.34" width="1.68" height="1.49" fill="#4c0c6b"/><rect x="338.31" y="70.34" width="1.68" height="1.49" fill="#000004"/><rect x="339.80" y="70.34" width="1.68" height="1.49" fill="#160b39"/><rect x="341.28" y="70.34" width="1.68" height="1.49" fill="#000004"/><rect x="344.24" y="70.34" width="1.68" height="1.49" fill="#000004"/><rect x="362.03" y="70.34" width="1.68" height="1.49" fill="#000004"/><rect x="369.44" y="70.34" width="1.68" height="1.49" fill="#000004"/><rect x="277.55" y="71.63" width="1.68" height="1.49" fill="#000004"/><rect x="280.52" y="71.63" width="4.65" height="1.49" fill="#000004"/><rect x="287.93" y="71.63" width="1.68" height="1.49" fill="#160b39"/><rect x="290.89" y="71.63" width="1.68" height="1.49" fill="#160b39"/><rect x="292.37" y="71.63" width="3.16" height="1.49" fill="#000004"/><rect x="295.34" y="71.63" width="1.68" height="1.49" fill="#160b39"/><rect x="296.82" y="71.63" width="1.68" height="1.49" fill="#420a68"/><rect x="298.30" y="71.63" width="1.68" height="1.49" fill="#4c0c6b"/><rect x="299.78" y="71.63" width="1.68" height="1.49" fill="#61136e"/><rect x="301.26" y="71.63" width="1.68" height="1.49" fill="#420a68"/><rect x="302.75" y="71.63" width="1.68" height="1.49" fill="#57106e"/><rect x="304.23" y="71.63" width="1.68" height="1.49" fill="#65156e"/><rect x="305.71" y="71.63" width="4.65" height="1.49" fill="#6a176e"/><rect x="310.16" y="71.63" width="1.68" height="1.49" fill="#751b6e"/><rect x="311.64" y="71.63" width="1.68" height="1.49" fill="#7f1e6c"/><rect x="313.12" y="71.63" width="3.16" height="1.49" fill="#84206b"/><rect x="316.08" y="71.63" width="1.68" height="1.49" fill="#8a226a"/><rect x="317.57" y="71.63" width="1.68" height="1.49" fill="#7f1e6c"/><rect x="319.05" y="71.63" width="1.68" height="1.49" fill="#8a226a"/><rect x="320.53" y="71.63" width="1.68" height="1.49" fill="#8f2469"/><rect x="322.01" y="71.63" width="1.68" height="1.49" fill="#8a226a"/><rect x="323.49" y="71.63" width="1.68" height="1.49" fill="#8f2469"/><rect x="324.98" y="71.63" width="3.16" height="1.49" fill="#84206b"/><rect x="327.94" y="71.63" width="1.68" height="1.49" fill="#7a1d6d"/><rect x="329.42" y="71.63" width="1.68" height="1.49" fill="#5c126e"/><rect x="330.90" y="71.63" width="1.68" height="1.49" fill="#61136e"/><rect x="332.39" y="71.63" width="1.68" height="1.49" fill="#65156e"/><rect x="333.87" y="71.63" width="1.68" height="1.49" fill="#420a68"/><rect x="335.35" y="71.63" width="1.68" height="1.49" fill="#61136e"/><rect x="336.83" y="71.63" width="1.68" height="1.49" fill="#310a5c"/><rect x="338.31" y="71.63" width="1.68" height="1.49" fill="#420a68"/><rect x="339.80" y="71.63" width="1.68" height="1.49" fill="#160b39"/><rect x="342.76" y="71.63" width="1.68" height="1.49" fill="#160b39"/><rect x="345.72" y="71.63" width="1.68" height="1.49" fill="#000004"/><rect x="247.91" y="72.93" width="1.68" height="1.49" fill="#000004"/><rect x="284.96" y="72.93" width="1.68" height="1.49" fill="#000004"/><rect x="289.41" y="72.93" width="1.68" height="1.49" fill="#000004"/><rect x="292.37" y="72.93" width="1.68" height="1.49" fill="#310a5c"/><rect x="293.85" y="72.93" width="1.68" height="1.49" fill="#160b39"/><rect x="296.82" y="72.93" width="1.68" height="1.49" fill="#4c0c6b"/><rect x="298.30" y="72.93" width="1.68" height="1.49" fill="#420a68"/><rect x="299.78" y="72.93" width="1.68" height="1.49" fill="#160b39"/><rect x="301.26" y="72.93" width="1.68" height="1.49" fill="#61136e"/><rect x="302.75" y="72.93" width="1.68" height="1.49" fill="#71196e"/><rect x="304.23" y="72.93" width="3.16" height="1.49" fill="#5c126e"/><rect x="307.19" y="72.93" width="1.68" height="1.49" fill="#61136e"/><rect x="308.67" y="72.93" width="3.16" height="1.49" fill="#6a176e"/><rect x="311.64" y="72.93" width="1.68" height="1.49" fill="#751b6e"/><rect x="313.12" y="72.93" width="1.68" height="1.49" fill="#71196e"/><rect x="314.60" y="72.93" width="1.68" height="1.49" fill="#84206b"/><rect x="316.08" y="72.93" width="3.16" height="1.49" fill="#7f1e6c"/><rect x="319.05" y="72.93" width="1.68" height="1.49" fill="#7a1d6d"/><rect x="320.53" y="72.93" width="1.68" height="1.49" fill="#84206b"/><rect x="322.01" y="72.93" width="1.68" height="1.49" fill="#8a226a"/><rect x="323.49" y="72.93" width="3.16" height="1.49" fill="#8f2469"/><rect x="326.46" y="72.93" width="1.68" height="1.49" fill="#7f1e6c"/><rect x="327.94" y="72.93" width="1.68" height="1.49" fill="#751b6e"/><rect x="329.42" y="72.93" width="1.68" height="1.49" fill="#5c126e"/><rect x="330.90" y="72.93" width="1.68" height="1.49" fill="#61136e"/><rect x="332.39" y="72.93" width="1.68" height="1.49" fill="#57106e"/><rect x="333.87" y="72.93" width="1.68" height="1.49" fill="#4c0c6b"/><rect x="335.35" y="72.93" width="1.68" height="1.49" fill="#61136e"/><rect x="336.83" y="72.93" width="1.68" height="1.49" fill="#310a5c"/><rect x="338.31" y="72.93" width="1.68" height="1.49" fill="#160b39"/><rect x="339.80" y="72.93" width="1.68" height="1.49" fill="#000004"/><rect x="342.76" y="72.93" width="1.68" height="1.49" fill="#000004"/><rect x="350.17" y="72.93" width="1.68" height="1.49" fill="#000004"/><rect x="258.29" y="74.22" width="1.68" height="1.49" fill="#000004"/><rect x="286.44" y="74.22" width="1.68" height="1.49" fill="#000004"/><rect x="292.37" y="74.22" width="3.16" height="1.49" fill="#000004"/><rect x="296.82" y="74.22" width="1.68" height="1.49" fill="#420a68"/><rect x="298.30" y="74.22" width="1.68" height="1.49" fill="#160b39"/><rect x="299.78" y="74.22" width="3.16" height="1.49" fill="#310a5c"/><rect x="302.75" y="74.22" width="1.68" height="1.49" fill="#160b39"/><rect x="304.23" y="74.22" width="1.68" height="1.49" fill="#420a68"/><rect x="305.71" y="74.22" width="1.68" height="1.49" fill="#160b39"/><rect x="307.19" y="74.22" width="1.68" height="1.49" fill="#420a68"/><rect x="308.67" y="74.22" width="4.65" height="1.49" fill="#61136e"/><rect x="313.12" y="74.22" width="1.68" height="1.49" fill="#6a176e"/><rect x="314.60" y="74.22" width="3.16" height="1.49" fill="#751b6e"/><rect x="317.57" y="74.22" width="1.68" height="1.49" fill="#7a1d6d"/><rect x="319.05" y="74.22" width="1.68" height="1.49" fill="#751b6e"/><rect x="320.53" y="74.22" width="1.68" height="1.49" fill="#7f1e6c"/><rect x="322.01" y="74.22" width="1.68" height="1.49" fill="#84206b"/><rect x="323.49" y="74.22" width="1.68" height="1.49" fill="#7f1e6c"/><rect x="324.98" y="74.22" width="1.68" height="1.49" fill="#7a1d6d"/><rect x="326.46" y="74.22" width="1.68" height="1.49" fill="#7f1e6c"/><rect x="327.94" y="74.22" width="1.68" height="1.49" fill="#71196e"/><rect x="329.42" y="74.22" width="1.68" height="1.49" fill="#57106e"/><rect x="330.90" y="74.22" width="1.68" height="1.49" fill="#5c126e"/><rect x="332.39" y="74.22" width="1.68" height="1.49" fill="#61136e"/><rect x="333.87" y="74.22" width="1.68" height="1.49" fill="#6a176e"/><rect x="335.35" y="74.22" width="1.68" height="1.49" fill="#310a5c"/><rect x="336.83" y="74.22" width="1.68" height="1.49" fill="#420a68"/><rect x="339.80" y="74.22" width="1.68" height="1.49" fill="#160b39"/><rect x="344.24" y="74.22" width="1.68" height="1.49" fill="#160b39"/><rect x="345.72" y="74.22" width="1.68" height="1.49" fill="#000004"/><rect x="363.51" y="74.22" width="1.68" height="1.49" fill="#000004"/><rect x="250.88" y="75.52" width="1.68" height="1.49" fill="#000004"/><rect x="255.32" y="75.52" width="1.68" height="1.49" fill="#000004"/><rect x="259.77" y="75.52" width="1.68" height="1.49" fill="#000004"/><rect x="286.44" y="75.52" width="1.68" height="1.49" fill="#000004"/><rect x="289.41" y="75.52" width="1.68" height="1.49" fill="#160b39"/><rect x="290.89" y="75.52" width="1.68" height="1.49" fill="#000004"/><rect x="293.85" y="75.52" width="1.68" height="1.49" fill="#000004"/><rect x="296.82" y="75.52" width="4.65" height="1.49" fill="#160b39"/><rect x="301.26" y="75.52" width="1.68" height="1.49" fill="#4c0c6b"/><rect x="302.75" y="75.52" width="1.68" height="1.49" fill="#310a5c"/><rect x="304.23" y="75.52" width="1.68" height="1.49" fill="#000004"/><rect x="305.71" y="75.52" width="1.68" height="1.49" fill="#5c126e"/><rect x="307.19" y="75.52" width="1.68" height="1.49" fill="#71196e"/><rect x="308.67" y="75.52" width="1.68" height="1.49" fill="#4c0c6b"/><rect x="310.16" y="75.52" width="1.68" height="1.49" fill="#310a5c"/><rect x="311.64" y="75.52" width="1.68" height="1.49" fill="#57106e"/><rect x="313.12" y="75.52" width="1.68" height="1.49" fill="#65156e"/><rect x="314.60" y="75.52" width="3.16" height="1.49" fill="#6a176e"/><rect x="317.57" y="75.52" width="4.65" height="1.49" fill="#71196e"/><rect x="322.01" y="75.52" width="1.68" height="1.49" fill="#7a1d6d"/><rect x="323.49" y="75.52" width="4.65" height="1.49" fill="#751b6e"/><rect x="327.94" y="75.52" width="1.68" height="1.49" fill="#6a176e"/><rect x="329.42" y="75.52" width="1.68" height="1.49" fill="#61136e"/><rect x="330.90" y="75.52" width="1.68" height="1.49" fill="#510e6c"/><rect x="332.39" y="75.52" width="1.68" height="1.49" fill="#751b6e"/><rect x="333.87" y="75.52" width="1.68" height="1.49" fill="#160b39"/><rect x="335.35" y="75.52" width="3.16" height="1.49" fill="#4c0c6b"/><rect x="338.31" y="75.52" width="1.68" height="1.49" fill="#310a5c"/><rect x="339.80" y="75.52" width="3.16" height="1.49" fill="#000004"/><rect x="344.24" y="75.52" width="1.68" height="1.49" fill="#000004"/><rect x="345.72" y="75.52" width="1.68" height="1.49" fill="#160b39"/><rect x="369.44" y="75.52" width="1.68" height="1.49" fill="#160b39"/><rect x="246.43" y="76.81" width="1.68" height="1.49" fill="#000004"/><rect x="268.66" y="76.81" width="1.68" height="1.49" fill="#000004"/><rect x="276.07" y="76.81" width="1.68" height="1.49" fill="#000004"/><rect x="284.96" y="76.81" width="1.68" height="1.49" fill="#000004"/><rect x="287.93" y="76.81" width="1.68" height="1.49" fill="#160b39"/><rect x="293.85" y="76.81" width="3.16" height="1.49" fill="#160b39"/><rect x="299.78" y="76.81" width="3.16" height="1.49" fill="#310a5c"/><rect x="302.75" y="76.81" width="1.68" height="1.49" fill="#4c0c6b"/><rect x="304.23" y="76.81" width="3.16" height="1.49" fill="#420a68"/><rect x="307.19" y="76.81" width="1.68" height="1.49" fill="#310a5c"/><rect x="308.67" y="76.81" width="1.68" height="1.49" fill="#160b39"/><rect x="310.16" y="76.81" width="1.68" height="1.49" fill="#61136e"/><rect x="311.64" y="76.81" width="1.68" height="1.49" fill="#71196e"/><rect x="313.12" y="76.81" width="1.68" height="1.49" fill="#310a5c"/><rect x="314.60" y="76.81" width="1.68" height="1.49" fill="#510e6c"/><rect x="316.08" y="76.81" width="3.16" height="1.49" fill="#65156e"/><rect x="319.05" y="76.81" width="1.68" height="1.49" fill="#61136e"/><rect x="320.53" y="76.81" width="1.68" height="1.49" fill="#65156e"/><rect x="322.01" y="76.81" width="4.65" height="1.49" fill="#71196e"/><rect x="326.46" y="76.81" width="1.68" height="1.49" fill="#6a176e"/><rect x="327.94" y="76.81" width="1.68" height="1.49" fill="#65156e"/><rect x="329.42" y="76.81" width="1.68" height="1.49" fill="#6a176e"/><rect x="330.90" y="76.81" width="3.16" height="1.49" fill="#420a68"/><rect x="333.87" y="76.81" width="3.16" height="1.49" fill="#160b39"/><rect x="336.83" y="76.81" width="1.68" height="1.49" fill="#5c126e"/><rect x="338.31" y="76.81" width="1.68" height="1.49" fill="#000004"/><rect x="339.80" y="76.81" width="1.68" height="1.49" fill="#160b39"/><rect x="341.28" y="76.81" width="4.65" height="1.49" fill="#000004"/><rect x="345.72" y="76.81" width="1.68" height="1.49" fill="#160b39"/><rect x="347.21" y="76.81" width="1.68" height="1.49" fill="#000004"/><rect x="367.95" y="76.81" width="1.68" height="1.49" fill="#000004"/><rect x="249.39" y="78.11" width="1.68" height="1.49" fill="#000004"/><rect x="258.29" y="78.11" width="3.16" height="1.49" fill="#000004"/><rect x="264.21" y="78.11" width="1.68" height="1.49" fill="#000004"/><rect x="273.11" y="78.11" width="1.68" height="1.49" fill="#000004"/><rect x="296.82" y="78.11" width="1.68" height="1.49" fill="#000004"/><rect x="298.30" y="78.11" width="1.68" height="1.49" fill="#160b39"/><rect x="299.78" y="78.11" width="1.68" height="1.49" fill="#000004"/><rect x="301.26" y="78.11" width="1.68" height="1.49" fill="#160b39"/><rect x="302.75" y="78.11" width="3.16" height="1.49" fill="#310a5c"/><rect x="305.71" y="78.11" width="3.16" height="1.49" fill="#160b39"/><rect x="308.67" y="78.11" width="3.16" height="1.49" fill="#420a68"/><rect x="311.64" y="78.11" width="3.16" height="1.49" fill="#4c0c6b"/><rect x="314.60" y="78.11" width="1.68" height="1.49" fill="#310a5c"/><rect x="316.08" y="78.11" width="1.68" height="1.49" fill="#4c0c6b"/><rect x="317.57" y="78.11" width="1.68" height="1.49" fill="#5c126e"/><rect x="319.05" y="78.11" width="1.68" height="1.49" fill="#57106e"/><rect x="320.53" y="78.11" width="1.68" height="1.49" fill="#5c126e"/><rect x="322.01" y="78.11" width="3.16" height="1.49" fill="#65156e"/><rect x="324.98" y="78.11" width="1.68" height="1.49" fill="#71196e"/><rect x="326.46" y="78.11" width="1.68" height="1.49" fill="#6a176e"/><rect x="327.94" y="78.11" width="3.16" height="1.49" fill="#5c126e"/><rect x="330.90" y="78.11" width="1.68" height="1.49" fill="#751b6e"/><rect x="332.39" y="78.11" width="1.68" height="1.49" fill="#420a68"/><rect x="333.87" y="78.11" width="1.68" height="1.49" fill="#751b6e"/><rect x="335.35" y="78.11" width="1.68" height="1.49" fill="#420a68"/><rect x="336.83" y="78.11" width="1.68" height="1.49" fill="#310a5c"/><rect x="338.31" y="78.11" width="1.68" height="1.49" fill="#420a68"/><rect x="339.80" y="78.11" width="1.68" height="1.49" fill="#310a5c"/><rect x="341.28" y="78.11" width="1.68" height="1.49" fill="#000004"/><rect x="369.44" y="78.11" width="1.68" height="1.49" fill="#000004"/><rect x="244.95" y="79.41" width="1.68" height="1.49" fill="#000004"/><rect x="262.73" y="79.41" width="1.68" height="1.49" fill="#000004"/><rect x="268.66" y="79.41" width="1.68" height="1.49" fill="#000004"/><rect x="283.48" y="79.41" width="1.68" height="1.49" fill="#000004"/><rect x="293.85" y="79.41" width="3.16" height="1.49" fill="#000004"/><rect x="298.30" y="79.41" width="1.68" height="1.49" fill="#160b39"/><rect x="299.78" y="79.41" width="1.68" height="1.49" fill="#420a68"/><rect x="302.75" y="79.41" width="3.16" height="1.49" fill="#420a68"/><rect x="305.71" y="79.41" width="1.68" height="1.49" fill="#160b39"/><rect x="307.19" y="79.41" width="1.68" height="1.49" fill="#4c0c6b"/><rect x="308.67" y="79.41" width="1.68" height="1.49" fill="#000004"/><rect x="310.16" y="79.41" width="1.68" height="1.49" fill="#310a5c"/><rect x="311.64" y="79.41" width="1.68" height="1.49" fill="#160b39"/><rect x="313.12" y="79.41" width="1.68" height="1.49" fill="#4c0c6b"/><rect x="314.60" y="79.41" width="4.65" height="1.49" fill="#420a68"/><rect x="319.05" y="79.41" width="1.68" height="1.49" fill="#61136e"/><rect x="320.53" y="79.41" width="1.68" height="1.49" fill="#160b39"/><rect x="322.01" y="79.41" width="1.68" height="1.49" fill="#61136e"/><rect x="323.49" y="79.41" width="3.16" height="1.49" fill="#5c126e"/><rect x="326.46" y="79.41" width="1.68" height="1.49" fill="#61136e"/><rect x="327.94" y="79.41" width="1.68" height="1.49" fill="#57106e"/><rect x="329.42" y="79.41" width="3.16" height="1.49" fill="#5c126e"/><rect x="332.39" y="79.41" width="3.16" height="1.49" fill="#420a68"/><rect x="335.35" y="79.41" width="1.68" height="1.49" fill="#310a5c"/><rect x="336.83" y="79.41" width="1.68" height="1.49" fill="#4c0c6b"/><rect x="338.31" y="79.41" width="1.68" height="1.49" fill="#310a5c"/><rect x="339.80" y="79.41" width="1.68" height="1.49" fill="#000004"/><rect x="341.28" y="79.41" width="1.68" height="1.49" fill="#310a5c"/><rect x="345.72" y="79.41" width="1.68" height="1.49" fill="#000004"/><rect x="348.69" y="79.41" width="3.16" height="1.49" fill="#000004"/><rect x="353.13" y="79.41" width="1.68" height="1.49" fill="#000004"/><rect x="362.03" y="79.41" width="3.16" height="1.49" fill="#000004"/><rect x="267.18" y="80.70" width="1.68" height="1.49" fill="#000004"/><rect x="271.62" y="80.70" width="1.68" height="1.49" fill="#000004"/><rect x="292.37" y="80.70" width="1.68" height="1.49" fill="#000004"/><rect x="301.26" y="80.70" width="1.68" height="1.49" fill="#160b39"/><rect x="304.23" y="80.70" width="1.68" height="1.49" fill="#000004"/><rect x="305.71" y="80.70" width="3.16" height="1.49" fill="#310a5c"/><rect x="310.16" y="80.70" width="1.68" height="1.49" fill="#160b39"/><rect x="311.64" y="80.70" width="1.68" height="1.49" fill="#4c0c6b"/><rect x="313.12" y="80.70" width="1.68" height="1.49" fill="#160b39"/><rect x="314.60" y="80.70" width="1.68" height="1.49" fill="#4c0c6b"/><rect x="316.08" y="80.70" width="1.68" height="1.49" fill="#420a68"/><rect x="317.57" y="80.70" width="3.16" height="1.49" fill="#4c0c6b"/><rect x="320.53" y="80.70" width="1.68" height="1.49" fill="#61136e"/><rect x="322.01" y="80.70" width="1.68" height="1.49" fill="#420a68"/><rect x="323.49" y="80.70" width="1.68" height="1.49" fill="#4c0c6b"/><rect x="324.98" y="80.70" width="1.68" height="1.49" fill="#310a5c"/><rect x="326.46" y="80.70" width="1.68" height="1.49" fill="#71196e"/><rect x="327.94" y="80.70" width="1.68" height="1.49" fill="#61136e"/><rect x="329.42" y="80.70" width="1.68" height="1.49" fill="#4c0c6b"/><rect x="330.90" y="80.70" width="3.16" height="1.49" fill="#5c126e"/><rect x="333.87" y="80.70" width="1.68" height="1.49" fill="#4c0c6b"/><rect x="335.35" y="80.70" width="1.68" height="1.49" fill="#160b39"/><rect x="336.83" y="80.70" width="1.68" height="1.49" fill="#5c126e"/><rect x="338.31" y="80.70" width="1.68" height="1.49" fill="#310a5c"/><rect x="339.80" y="80.70" width="1.68" height="1.49" fill="#000004"/><rect x="342.76" y="80.70" width="1.68" height="1.49" fill="#000004"/><rect x="255.32" y="81.99" width="1.68" height="1.49" fill="#000004"/><rect x="280.52" y="81.99" width="1.68" height="1.49" fill="#000004"/><rect x="293.85" y="81.99" width="1.68" height="1.49" fill="#160b39"/><rect x="299.78" y="81.99" width="3.16" height="1.49" fill="#000004"/><rect x="304.23" y="81.99" width="1.68" height="1.49" fill="#000004"/><rect x="307.19" y="81.99" width="3.16" height="1.49" fill="#160b39"/><rect x="313.12" y="81.99" width="1.68" height="1.49" fill="#160b39"/><rect x="314.60" y="81.99" width="3.16" height="1.49" fill="#310a5c"/><rect x="317.57" y="81.99" width="1.68" height="1.49" fill="#000004"/><rect x="319.05" y="81.99" width="1.68" height="1.49" fill="#5c126e"/><rect x="320.53" y="81.99" width="3.16" height="1.49" fill="#4c0c6b"/><rect x="323.49" y="81.99" width="1.68" height="1.49" fill="#6a176e"/><rect x="324.98" y="81.99" width="1.68" height="1.49" fill="#4c0c6b"/><rect x="326.46" y="81.99" width="3.16" height="1.49" fill="#310a5c"/><rect x="329.42" y="81.99" width="1.68" height="1.49" fill="#160b39"/><rect x="330.90" y="81.99" width="1.68" height="1.49" fill="#6a176e"/><rect x="332.39" y="81.99" width="3.16" height="1.49" fill="#310a5c"/><rect x="335.35" y="81.99" width="1.68" height="1.49" fill="#5c126e"/><rect x="336.83" y="81.99" width="4.65" height="1.49" fill="#000004"/><rect x="342.76" y="81.99" width="1.68" height="1.49" fill="#000004"/><rect x="345.72" y="81.99" width="1.68" height="1.49" fill="#000004"/><rect x="356.10" y="81.99" width="1.68" height="1.49" fill="#000004"/><rect x="244.95" y="83.29" width="1.68" height="1.49" fill="#000004"/><rect x="249.39" y="83.29" width="1.68" height="1.49" fill="#000004"/><rect x="298.30" y="83.29" width="1.68" height="1.49" fill="#000004"/><rect x="301.26" y="83.29" width="3.16" height="1.49" fill="#000004"/><rect x="304.23" y="83.29" width="1.68" height="1.49" fill="#160b39"/><rect x="305.71" y="83.29" width="1.68" height="1.49" fill="#000004"/><rect x="307.19" y="83.29" width="3.16" height="1.49" fill="#160b39"/><rect x="310.16" y="83.29" width="1.68" height="1.49" fill="#000004"/><rect x="311.64" y="83.29" width="1.68" height="1.49" fill="#310a5c"/><rect x="313.12" y="83.29" width="3.16" height="1.49" fill="#160b39"/><rect x="316.08" y="83.29" width="1.68" height="1.49" fill="#420a68"/><rect x="317.57" y="83.29" width="1.68" height="1.49" fill="#000004"/><rect x="319.05" y="83.29" width="1.68" height="1.49" fill="#310a5c"/><rect x="320.53" y="83.29" width="3.16" height="1.49" fill="#5c126e"/><rect x="323.49" y="83.29" width="1.68" height="1.49" fill="#420a68"/><rect x="324.98" y="83.29" width="1.68" height="1.49" fill="#5c126e"/><rect x="326.46" y="83.29" width="1.68" height="1.49" fill="#310a5c"/><rect x="327.94" y="83.29" width="1.68" height="1.49" fill="#420a68"/><rect x="329.42" y="83.29" width="1.68" height="1.49" fill="#310a5c"/><rect x="330.90" y="83.29" width="3.16" height="1.49" fill="#420a68"/><rect x="333.87" y="83.29" width="1.68" height="1.49" fill="#4c0c6b"/><rect x="335.35" y="83.29" width="1.68" height="1.49" fill="#310a5c"/><rect x="336.83" y="83.29" width="3.16" height="1.49" fill="#000004"/><rect x="341.28" y="83.29" width="1.68" height="1.49" fill="#000004"/><rect x="359.06" y="83.29" width="1.68" height="1.49" fill="#000004"/><rect x="265.70" y="84.58" width="1.68" height="1.49" fill="#000004"/><rect x="277.55" y="84.58" width="1.68" height="1.49" fill="#000004"/><rect x="287.93" y="84.58" width="1.68" height="1.49" fill="#000004"/><rect x="296.82" y="84.58" width="1.68" height="1.49" fill="#000004"/><rect x="298.30" y="84.58" width="1.68" height="1.49" fill="#160b39"/><rect x="304.23" y="84.58" width="1.68" height="1.49" fill="#160b39"/><rect x="314.60" y="84.58" width="3.16" height="1.49" fill="#160b39"/><rect x="317.57" y="84.58" width="1.68" height="1.49" fill="#000004"/><rect x="319.05" y="84.58" width="3.16" height="1.49" fill="#160b39"/><rect x="322.01" y="84.58" width="1.68" height="1.49" fill="#4c0c6b"/><rect x="323.49" y="84.58" width="1.68" height="1.49" fill="#61136e"/><rect x="324.98" y="84.58" width="1.68" height="1.49" fill="#420a68"/><rect x="326.46" y="84.58" width="1.68" height="1.49" fill="#160b39"/><rect x="327.94" y="84.58" width="3.16" height="1.49" fill="#4c0c6b"/><rect x="330.90" y="84.58" width="1.68" height="1.49" fill="#310a5c"/><rect x="332.39" y="84.58" width="1.68" height="1.49" fill="#4c0c6b"/><rect x="333.87" y="84.58" width="1.68" height="1.49" fill="#6a176e"/><rect x="335.35" y="84.58" width="3.16" height="1.49" fill="#4c0c6b"/><rect x="338.31" y="84.58" width="1.68" height="1.49" fill="#160b39"/><rect x="339.80" y="84.58" width="3.16" height="1.49" fill="#000004"/><rect x="342.76" y="84.58" width="1.68" height="1.49" fill="#160b39"/><rect x="366.47" y="84.58" width="3.16" height="1.49" fill="#000004"/><rect x="250.88" y="85.88" width="1.68" height="1.49" fill="#000004"/><rect x="274.59" y="85.88" width="1.68" height="1.49" fill="#000004"/><rect x="295.34" y="85.88" width="1.68" height="1.49" fill="#000004"/><rect x="299.78" y="85.88" width="4.65" height="1.49" fill="#000004"/><rect x="307.19" y="85.88" width="1.68" height="1.49" fill="#000004"/><rect x="311.64" y="85.88" width="1.68" height="1.49" fill="#000004"/><rect x="316.08" y="85.88" width="1.68" height="1.49" fill="#420a68"/><rect x="317.57" y="85.88" width="1.68" height="1.49" fill="#310a5c"/><rect x="319.05" y="85.88" width="1.68" height="1.49" fill="#160b39"/><rect x="322.01" y="85.88" width="1.68" height="1.49" fill="#4c0c6b"/><rect x="323.49" y="85.88" width="1.68" height="1.49" fill="#310a5c"/><rect x="324.98" y="85.88" width="1.68" height="1.49" fill="#4c0c6b"/><rect x="326.46" y="85.88" width="1.68" height="1.49" fill="#000004"/><rect x="327.94" y="85.88" width="3.16" height="1.49" fill="#160b39"/><rect x="330.90" y="85.88" width="1.68" height="1.49" fill="#420a68"/><rect x="332.39" y="85.88" width="1.68" height="1.49" fill="#61136e"/><rect x="333.87" y="85.88" width="1.68" height="1.49" fill="#160b39"/><rect x="335.35" y="85.88" width="1.68" height="1.49" fill="#5c126e"/><rect x="336.83" y="85.88" width="3.16" height="1.49" fill="#310a5c"/><rect x="341.28" y="85.88" width="1.68" height="1.49" fill="#160b39"/><rect x="354.62" y="85.88" width="1.68" height="1.49" fill="#000004"/><rect x="253.84" y="87.17" width="1.68" height="1.49" fill="#000004"/><rect x="264.21" y="87.17" width="3.16" height="1.49" fill="#000004"/><rect x="284.96" y="87.17" width="1.68" height="1.49" fill="#000004"/><rect x="299.78" y="87.17" width="3.16" height="1.49" fill="#000004"/><rect x="305.71" y="87.17" width="1.68" height="1.49" fill="#000004"/><rect x="310.16" y="87.17" width="1.68" height="1.49" fill="#160b39"/><rect x="311.64" y="87.17" width="1.68" height="1.49" fill="#000004"/><rect x="313.12" y="87.17" width="1.68" height="1.49" fill="#160b39"/><rect x="314.60" y="87.17" width="3.16" height="1.49" fill="#000004"/><rect x="317.57" y="87.17" width="4.65" height="1.49" fill="#160b39"/><rect x="322.01" y="87.17" width="1.68" height="1.49" fill="#000004"/><rect x="323.49" y="87.17" width="1.68" height="1.49" fill="#310a5c"/><rect x="324.98" y="87.17" width="1.68" height="1.49" fill="#4c0c6b"/><rect x="326.46" y="87.17" width="3.16" height="1.49" fill="#310a5c"/><rect x="329.42" y="87.17" width="3.16" height="1.49" fill="#420a68"/><rect x="332.39" y="87.17" width="1.68" height="1.49" fill="#160b39"/><rect x="333.87" y="87.17" width="1.68" height="1.49" fill="#420a68"/><rect x="335.35" y="87.17" width="1.68" height="1.49" fill="#000004"/><rect x="336.83" y="87.17" width="1.68" height="1.49" fill="#160b39"/><rect x="338.31" y="87.17" width="1.68" height="1.49" fill="#5c126e"/><rect x="341.28" y="87.17" width="1.68" height="1.49" fill="#160b39"/><rect x="344.24" y="87.17" width="1.68" height="1.49" fill="#000004"/><rect x="347.21" y="87.17" width="3.16" height="1.49" fill="#160b39"/><rect x="296.82" y="88.47" width="1.68" height="1.49" fill="#000004"/><rect x="304.23" y="88.47" width="1.68" height="1.49" fill="#000004"/><rect x="307.19" y="88.47" width="3.16" height="1.49" fill="#000004"/><rect x="316.08" y="88.47" width="3.16" height="1.49" fill="#000004"/><rect x="319.05" y="88.47" width="1.68" height="1.49" fill="#310a5c"/><rect x="320.53" y="88.47" width="1.68" height="1.49" fill="#160b39"/><rect x="323.49" y="88.47" width="1.68" height="1.49" fill="#310a5c"/><rect x="324.98" y="88.47" width="1.68" height="1.49" fill="#4c0c6b"/><rect x="327.94" y="88.47" width="1.68" height="1.49" fill="#420a68"/><rect x="329.42" y="88.47" width="1.68" height="1.49" fill="#4c0c6b"/><rect x="330.90" y="88.47" width="1.68" height="1.49" fill="#000004"/><rect x="332.39" y="88.47" width="1.68" height="1.49" fill="#310a5c"/><rect x="333.87" y="88.47" width="1.68" height="1.49" fill="#160b39"/><rect x="335.35" y="88.47" width="1.68" height="1.49" fill="#000004"/><rect x="336.83" y="88.47" width="3.16" height="1.49" fill="#310a5c"/><rect x="341.28" y="88.47" width="3.16" height="1.49" fill="#000004"/><rect x="345.72" y="88.47" width="1.68" height="1.49" fill="#000004"/><rect x="348.69" y="88.47" width="1.68" height="1.49" fill="#000004"/><rect x="369.44" y="88.47" width="1.68" height="1.49" fill="#000004"/><rect x="273.11" y="89.77" width="1.68" height="1.49" fill="#000004"/><rect x="304.23" y="89.77" width="1.68" height="1.49" fill="#160b39"/><rect x="311.64" y="89.77" width="1.68" height="1.49" fill="#160b39"/><rect x="313.12" y="89.77" width="3.16" height="1.49" fill="#000004"/><rect x="319.05" y="89.77" width="1.68" height="1.49" fill="#5c126e"/><rect x="320.53" y="89.77" width="3.16" height="1.49" fill="#310a5c"/><rect x="324.98" y="89.77" width="1.68" height="1.49" fill="#160b39"/><rect x="326.46" y="89.77" width="1.68" height="1.49" fill="#000004"/><rect x="329.42" y="89.77" width="3.16" height="1.49" fill="#4c0c6b"/><rect x="332.39" y="89.77" width="1.68" height="1.49" fill="#310a5c"/><rect x="333.87" y="89.77" width="1.68" height="1.49" fill="#4c0c6b"/><rect x="335.35" y="89.77" width="1.68" height="1.49" fill="#5c126e"/><rect x="336.83" y="89.77" width="1.68" height="1.49" fill="#160b39"/><rect x="338.31" y="89.77" width="1.68" height="1.49" fill="#4c0c6b"/><rect x="345.72" y="89.77" width="1.68" height="1.49" fill="#160b39"/><rect x="348.69" y="89.77" width="1.68" height="1.49" fill="#000004"/><rect x="351.65" y="89.77" width="1.68" height="1.49" fill="#000004"/><rect x="364.99" y="89.77" width="1.68" height="1.49" fill="#000004"/><rect x="273.11" y="91.06" width="1.68" height="1.49" fill="#000004"/><rect x="302.75" y="91.06" width="1.68" height="1.49" fill="#160b39"/><rect x="313.12" y="91.06" width="1.68" height="1.49" fill="#000004"/><rect x="317.57" y="91.06" width="1.68" height="1.49" fill="#160b39"/><rect x="320.53" y="91.06" width="3.16" height="1.49" fill="#160b39"/><rect x="323.49" y="91.06" width="1.68" height="1.49" fill="#310a5c"/><rect x="324.98" y="91.06" width="3.16" height="1.49" fill="#000004"/><rect x="327.94" y="91.06" width="3.16" height="1.49" fill="#160b39"/><rect x="330.90" y="91.06" width="1.68" height="1.49" fill="#5c126e"/><rect x="332.39" y="91.06" width="3.16" height="1.49" fill="#310a5c"/><rect x="335.35" y="91.06" width="1.68" height="1.49" fill="#160b39"/><rect x="336.83" y="91.06" width="1.68" height="1.49" fill="#71196e"/><rect x="338.31" y="91.06" width="1.68" height="1.49" fill="#160b39"/><rect x="342.76" y="91.06" width="4.65" height="1.49" fill="#000004"/><rect x="348.69" y="91.06" width="1.68" height="1.49" fill="#000004"/><rect x="350.17" y="91.06" width="1.68" height="1.49" fill="#160b39"/><rect x="351.65" y="91.06" width="1.68" height="1.49" fill="#000004"/><rect x="354.62" y="91.06" width="1.68" height="1.49" fill="#000004"/><rect x="363.51" y="91.06" width="1.68" height="1.49" fill="#000004"/><rect x="264.21" y="92.35" width="3.16" height="1.49" fill="#000004"/><rect x="270.14" y="92.35" width="1.68" height="1.49" fill="#000004"/><rect x="292.37" y="92.35" width="3.16" height="1.49" fill="#000004"/><rect x="299.78" y="92.35" width="3.16" height="1.49" fill="#000004"/><rect x="310.16" y="92.35" width="1.68" height="1.49" fill="#000004"/><rect x="313.12" y="92.35" width="1.68" height="1.49" fill="#160b39"/><rect x="317.57" y="92.35" width="4.65" height="1.49" fill="#000004"/><rect x="322.01" y="92.35" width="1.68" height="1.49" fill="#160b39"/><rect x="324.98" y="92.35" width="1.68" height="1.49" fill="#160b39"/><rect x="326.46" y="92.35" width="3.16" height="1.49" fill="#000004"/><rect x="329.42" y="92.35" width="3.16" height="1.49" fill="#160b39"/><rect x="333.87" y="92.35" width="1.68" height="1.49" fill="#61136e"/><rect x="335.35" y="92.35" width="1.68" height="1.49" fill="#4c0c6b"/><rect x="336.83" y="92.35" width="1.68" height="1.49" fill="#310a5c"/><rect x="338.31" y="92.35" width="1.68" height="1.49" fill="#160b39"/><rect x="341.28" y="92.35" width="3.16" height="1.49" fill="#000004"/><rect x="345.72" y="92.35" width="3.16" height="1.49" fill="#000004"/><rect x="350.17" y="92.35" width="3.16" height="1.49" fill="#000004"/><rect x="295.34" y="93.65" width="1.68" height="1.49" fill="#000004"/><rect x="305.71" y="93.65" width="1.68" height="1.49" fill="#000004"/><rect x="308.67" y="93.65" width="1.68" height="1.49" fill="#000004"/><rect x="311.64" y="93.65" width="1.68" height="1.49" fill="#160b39"/><rect x="314.60" y="93.65" width="3.16" height="1.49" fill="#000004"/><rect x="317.57" y="93.65" width="1.68" height="1.49" fill="#160b39"/><rect x="320.53" y="93.65" width="3.16" height="1.49" fill="#000004"/><rect x="323.49" y="93.65" width="1.68" height="1.49" fill="#420a68"/><rect x="324.98" y="93.65" width="3.16" height="1.49" fill="#160b39"/><rect x="327.94" y="93.65" width="1.68" height="1.49" fill="#310a5c"/><rect x="329.42" y="93.65" width="1.68" height="1.49" fill="#160b39"/><rect x="330.90" y="93.65" width="1.68" height="1.49" fill="#000004"/><rect x="332.39" y="93.65" width="1.68" height="1.49" fill="#310a5c"/><rect x="333.87" y="93.65" width="1.68" height="1.49" fill="#61136e"/><rect x="335.35" y="93.65" width="1.68" height="1.49" fill="#310a5c"/><rect x="336.83" y="93.65" width="1.68" height="1.49" fill="#160b39"/><rect x="338.31" y="93.65" width="1.68" height="1.49" fill="#000004"/><rect x="341.28" y="93.65" width="3.16" height="1.49" fill="#000004"/><rect x="345.72" y="93.65" width="1.68" height="1.49" fill="#000004"/><rect x="359.06" y="93.65" width="1.68" height="1.49" fill="#000004"/><rect x="310.16" y="94.94" width="1.68" height="1.49" fill="#000004"/><rect x="311.64" y="94.94" width="1.68" height="1.49" fill="#160b39"/><rect x="319.05" y="94.94" width="1.68" height="1.49" fill="#310a5c"/><rect x="323.49" y="94.94" width="1.68" height="1.49" fill="#000004"/><rect x="326.46" y="94.94" width="1.68" height="1.49" fill="#160b39"/><rect x="327.94" y="94.94" width="1.68" height="1.49" fill="#000004"/><rect x="329.42" y="94.94" width="1.68" height="1.49" fill="#310a5c"/><rect x="330.90" y="94.94" width="3.16" height="1.49" fill="#420a68"/><rect x="333.87" y="94.94" width="3.16" height="1.49" fill="#000004"/><rect x="336.83" y="94.94" width="3.16" height="1.49" fill="#160b39"/><rect x="341.28" y="94.94" width="1.68" height="1.49" fill="#160b39"/><rect x="354.62" y="94.94" width="1.68" height="1.49" fill="#000004"/><rect x="357.58" y="94.94" width="1.68" height="1.49" fill="#000004"/><rect x="366.47" y="94.94" width="1.68" height="1.49" fill="#000004"/><rect x="293.85" y="96.24" width="1.68" height="1.49" fill="#000004"/><rect x="310.16" y="96.24" width="3.16" height="1.49" fill="#000004"/><rect x="314.60" y="96.24" width="1.68" height="1.49" fill="#160b39"/><rect x="316.08" y="96.24" width="1.68" height="1.49" fill="#000004"/><rect x="319.05" y="96.24" width="1.68" height="1.49" fill="#000004"/><rect x="324.98" y="96.24" width="1.68" height="1.49" fill="#000004"/><rect x="326.46" y="96.24" width="4.65" height="1.49" fill="#160b39"/><rect x="330.90" y="96.24" width="1.68" height="1.49" fill="#000004"/><rect x="332.39" y="96.24" width="1.68" height="1.49" fill="#310a5c"/><rect x="333.87" y="96.24" width="3.16" height="1.49" fill="#000004"/><rect x="336.83" y="96.24" width="1.68" height="1.49" fill="#420a68"/><rect x="338.31" y="96.24" width="1.68" height="1.49" fill="#310a5c"/><rect x="341.28" y="96.24" width="1.68" height="1.49" fill="#310a5c"/><rect x="344.24" y="96.24" width="1.68" height="1.49" fill="#000004"/><rect x="348.69" y="96.24" width="1.68" height="1.49" fill="#000004"/><rect x="267.18" y="97.53" width="1.68" height="1.49" fill="#000004"/><rect x="293.85" y="97.53" width="1.68" height="1.49" fill="#000004"/><rect x="317.57" y="97.53" width="3.16" height="1.49" fill="#160b39"/><rect x="320.53" y="97.53" width="4.65" height="1.49" fill="#000004"/><rect x="324.98" y="97.53" width="1.68" height="1.49" fill="#160b39"/><rect x="327.94" y="97.53" width="1.68" height="1.49" fill="#000004"/><rect x="329.42" y="97.53" width="1.68" height="1.49" fill="#160b39"/><rect x="330.90" y="97.53" width="1.68" height="1.49" fill="#5c126e"/><rect x="332.39" y="97.53" width="1.68" height="1.49" fill="#000004"/><rect x="333.87" y="97.53" width="1.68" height="1.49" fill="#420a68"/><rect x="335.35" y="97.53" width="1.68" height="1.49" fill="#000004"/><rect x="336.83" y="97.53" width="1.68" height="1.49" fill="#420a68"/><rect x="338.31" y="97.53" width="1.68" height="1.49" fill="#160b39"/><rect x="344.24" y="97.53" width="1.68" height="1.49" fill="#000004"/><rect x="296.82" y="98.83" width="1.68" height="1.49" fill="#000004"/><rect x="302.75" y="98.83" width="1.68" height="1.49" fill="#000004"/><rect x="314.60" y="98.83" width="1.68" height="1.49" fill="#000004"/><rect x="319.05" y="98.83" width="1.68" height="1.49" fill="#000004"/><rect x="323.49" y="98.83" width="3.16" height="1.49" fill="#000004"/><rect x="326.46" y="98.83" width="3.16" height="1.49" fill="#160b39"/><rect x="329.42" y="98.83" width="1.68" height="1.49" fill="#310a5c"/><rect x="330.90" y="98.83" width="3.16" height="1.49" fill="#000004"/><rect x="333.87" y="98.83" width="3.16" height="1.49" fill="#160b39"/><rect x="336.83" y="98.83" width="1.68" height="1.49" fill="#4c0c6b"/><rect x="338.31" y="98.83" width="1.68" height="1.49" fill="#420a68"/><rect x="341.28" y="98.83" width="1.68" height="1.49" fill="#160b39"/><rect x="342.76" y="98.83" width="1.68" height="1.49" fill="#000004"/><rect x="345.72" y="98.83" width="3.16" height="1.49" fill="#000004"/><rect x="363.51" y="98.83" width="1.68" height="1.49" fill="#000004"/><rect x="311.64" y="100.12" width="1.68" height="1.49" fill="#000004"/><rect x="314.60" y="100.12" width="3.16" height="1.49" fill="#000004"/><rect x="319.05" y="100.12" width="1.68" height="1.49" fill="#000004"/><rect x="323.49" y="100.12" width="1.68" height="1.49" fill="#000004"/><rect x="326.46" y="100.12" width="1.68" height="1.49" fill="#160b39"/><rect x="329.42" y="100.12" width="1.68" height="1.49" fill="#000004"/><rect x="330.90" y="100.12" width="1.68" height="1.49" fill="#160b39"/><rect x="333.87" y="100.12" width="1.68" height="1.49" fill="#420a68"/><rect x="335.35" y="100.12" width="1.68" height="1.49" fill="#160b39"/><rect x="339.80" y="100.12" width="1.68" height="1.49" fill="#160b39"/><rect x="341.28" y="100.12" width="4.65" height="1.49" fill="#000004"/><rect x="350.17" y="100.12" width="3.16" height="1.49" fill="#000004"/><rect x="363.51" y="100.12" width="1.68" height="1.49" fill="#000004"/><rect x="366.47" y="100.12" width="1.68" height="1.49" fill="#000004"/><rect x="290.89" y="101.42" width="1.68" height="1.49" fill="#000004"/><rect x="304.23" y="101.42" width="1.68" height="1.49" fill="#000004"/><rect x="324.98" y="101.42" width="1.68" height="1.49" fill="#000004"/><rect x="327.94" y="101.42" width="1.68" height="1.49" fill="#000004"/><rect x="329.42" y="101.42" width="3.16" height="1.49" fill="#160b39"/><rect x="332.39" y="101.42" width="1.68" height="1.49" fill="#000004"/><rect x="333.87" y="101.42" width="1.68" height="1.49" fill="#310a5c"/><rect x="335.35" y="101.42" width="3.16" height="1.49" fill="#4c0c6b"/><rect x="338.31" y="101.42" width="1.68" height="1.49" fill="#310a5c"/><rect x="341.28" y="101.42" width="1.68" height="1.49" fill="#160b39"/><rect x="342.76" y="101.42" width="3.16" height="1.49" fill="#000004"/><rect x="347.21" y="101.42" width="3.16" height="1.49" fill="#000004"/><rect x="356.10" y="101.42" width="1.68" height="1.49" fill="#000004"/><rect x="360.54" y="101.42" width="1.68" height="1.49" fill="#000004"/><rect x="363.51" y="101.42" width="1.68" height="1.49" fill="#000004"/><rect x="311.64" y="102.71" width="1.68" height="1.49" fill="#000004"/><rect x="317.57" y="102.71" width="1.68" height="1.49" fill="#000004"/><rect x="320.53" y="102.71" width="1.68" height="1.49" fill="#000004"/><rect x="326.46" y="102.71" width="4.65" height="1.49" fill="#000004"/><rect x="332.39" y="102.71" width="3.16" height="1.49" fill="#000004"/><rect x="335.35" y="102.71" width="1.68" height="1.49" fill="#160b39"/><rect x="338.31" y="102.71" width="1.68" height="1.49" fill="#000004"/><rect x="341.28" y="102.71" width="1.68" height="1.49" fill="#420a68"/><rect x="342.76" y="102.71" width="1.68" height="1.49" fill="#000004"/><rect x="345.72" y="102.71" width="3.16" height="1.49" fill="#000004"/><rect x="354.62" y="102.71" width="1.68" height="1.49" fill="#000004"/><rect x="369.44" y="102.71" width="3.16" height="1.49" fill="#000004"/><rect x="289.41" y="104.01" width="1.68" height="1.49" fill="#000004"/><rect x="295.34" y="104.01" width="1.68" height="1.49" fill="#000004"/><rect x="323.49" y="104.01" width="1.68" height="1.49" fill="#000004"/><rect x="324.98" y="104.01" width="1.68" height="1.49" fill="#160b39"/><rect x="330.90" y="104.01" width="6.13" height="1.49" fill="#000004"/><rect x="336.83" y="104.01" width="1.68" height="1.49" fill="#160b39"/><rect x="338.31" y="104.01" width="1.68" height="1.49" fill="#310a5c"/><rect x="339.80" y="104.01" width="1.68" height="1.49" fill="#000004"/><rect x="344.24" y="104.01" width="1.68" height="1.49" fill="#000004"/><rect x="348.69" y="104.01" width="1.68" height="1.49" fill="#000004"/><rect x="351.65" y="104.01" width="1.68" height="1.49" fill="#000004"/><rect x="354.62" y="104.01" width="1.68" height="1.49" fill="#000004"/><rect x="357.58" y="104.01" width="1.68" height="1.49" fill="#000004"/><rect x="313.12" y="105.30" width="1.68" height="1.49" fill="#000004"/><rect x="327.94" y="105.30" width="1.68" height="1.49" fill="#160b39"/><rect x="329.42" y="105.30" width="3.16" height="1.49" fill="#000004"/><rect x="333.87" y="105.30" width="1.68" height="1.49" fill="#160b39"/><rect x="335.35" y="105.30" width="1.68" height="1.49" fill="#310a5c"/><rect x="336.83" y="105.30" width="1.68" height="1.49" fill="#000004"/><rect x="338.31" y="105.30" width="1.68" height="1.49" fill="#310a5c"/><rect x="339.80" y="105.30" width="1.68" height="1.49" fill="#000004"/><rect x="342.76" y="105.30" width="1.68" height="1.49" fill="#000004"/><rect x="345.72" y="105.30" width="1.68" height="1.49" fill="#000004"/><rect x="322.01" y="106.60" width="4.65" height="1.49" fill="#000004"/><rect x="330.90" y="106.60" width="1.68" height="1.49" fill="#160b39"/><rect x="332.39" y="106.60" width="3.16" height="1.49" fill="#310a5c"/><rect x="335.35" y="106.60" width="3.16" height="1.49" fill="#000004"/><rect x="338.31" y="106.60" width="1.68" height="1.49" fill="#420a68"/><rect x="356.10" y="106.60" width="3.16" height="1.49" fill="#000004"/><rect x="369.44" y="106.60" width="1.68" height="1.49" fill="#000004"/><rect x="313.12" y="107.89" width="1.68" height="1.49" fill="#000004"/><rect x="323.49" y="107.89" width="1.68" height="1.49" fill="#000004"/><rect x="326.46" y="107.89" width="1.68" height="1.49" fill="#000004"/><rect x="329.42" y="107.89" width="1.68" height="1.49" fill="#000004"/><rect x="332.39" y="107.89" width="1.68" height="1.49" fill="#000004"/><rect x="335.35" y="107.89" width="1.68" height="1.49" fill="#000004"/><rect x="338.31" y="107.89" width="1.68" height="1.49" fill="#000004"/><rect x="342.76" y="107.89" width="3.16" height="1.49" fill="#000004"/><rect x="353.13" y="107.89" width="1.68" height="1.49" fill="#000004"/><rect x="366.47" y="107.89" width="3.16" height="1.49" fill="#000004"/><rect x="317.57" y="109.19" width="1.68" height="1.49" fill="#000004"/><rect x="326.46" y="109.19" width="1.68" height="1.49" fill="#000004"/><rect x="329.42" y="109.19" width="4.65" height="1.49" fill="#000004"/><rect x="333.87" y="109.19" width="1.68" height="1.49" fill="#420a68"/><rect x="335.35" y="109.19" width="1.68" height="1.49" fill="#000004"/><rect x="336.83" y="109.19" width="1.68" height="1.49" fill="#4c0c6b"/><rect x="338.31" y="109.19" width="1.68" height="1.49" fill="#160b39"/><rect x="339.80" y="109.19" width="3.16" height="1.49" fill="#000004"/><rect x="351.65" y="109.19" width="1.68" height="1.49" fill="#000004"/><rect x="366.47" y="109.19" width="1.68" height="1.49" fill="#000004"/><rect x="326.46" y="110.48" width="1.68" height="1.49" fill="#000004"/><rect x="330.90" y="110.48" width="1.68" height="1.49" fill="#160b39"/><rect x="332.39" y="110.48" width="1.68" height="1.49" fill="#310a5c"/><rect x="336.83" y="110.48" width="3.16" height="1.49" fill="#160b39"/><rect x="341.28" y="110.48" width="1.68" height="1.49" fill="#310a5c"/><rect x="342.76" y="110.48" width="1.68" height="1.49" fill="#000004"/><rect x="345.72" y="110.48" width="1.68" height="1.49" fill="#000004"/><rect x="348.69" y="110.48" width="1.68" height="1.49" fill="#160b39"/><rect x="369.44" y="110.48" width="3.16" height="1.49" fill="#000004"/><rect x="296.82" y="111.78" width="3.16" height="1.49" fill="#000004"/><rect x="327.94" y="111.78" width="1.68" height="1.49" fill="#000004"/><rect x="329.42" y="111.78" width="1.68" height="1.49" fill="#160b39"/><rect x="330.90" y="111.78" width="1.68" height="1.49" fill="#000004"/><rect x="332.39" y="111.78" width="1.68" height="1.49" fill="#160b39"/><rect x="335.35" y="111.78" width="3.16" height="1.49" fill="#160b39"/><rect x="339.80" y="111.78" width="1.68" height="1.49" fill="#000004"/><rect x="344.24" y="111.78" width="1.68" height="1.49" fill="#000004"/><rect x="345.72" y="111.78" width="1.68" height="1.49" fill="#160b39"/><rect x="347.21" y="111.78" width="1.68" height="1.49" fill="#000004"/><rect x="354.62" y="111.78" width="1.68" height="1.49" fill="#000004"/><rect x="292.37" y="113.07" width="1.68" height="1.49" fill="#000004"/><rect x="305.71" y="113.07" width="1.68" height="1.49" fill="#000004"/><rect x="317.57" y="113.07" width="1.68" height="1.49" fill="#000004"/><rect x="324.98" y="113.07" width="1.68" height="1.49" fill="#000004"/><rect x="336.83" y="113.07" width="1.68" height="1.49" fill="#160b39"/><rect x="341.28" y="113.07" width="1.68" height="1.49" fill="#000004"/><rect x="344.24" y="113.07" width="1.68" height="1.49" fill="#000004"/><rect x="348.69" y="113.07" width="1.68" height="1.49" fill="#000004"/><rect x="351.65" y="113.07" width="1.68" height="1.49" fill="#000004"/><rect x="369.44" y="113.07" width="1.68" height="1.49" fill="#000004"/><rect x="333.87" y="114.37" width="4.65" height="1.49" fill="#160b39"/><rect x="338.31" y="114.37" width="1.68" height="1.49" fill="#000004"/><rect x="341.28" y="114.37" width="1.68" height="1.49" fill="#160b39"/><rect x="344.24" y="114.37" width="1.68" height="1.49" fill="#000004"/><rect x="350.17" y="114.37" width="1.68" height="1.49" fill="#000004"/><rect x="305.71" y="115.66" width="1.68" height="1.49" fill="#000004"/><rect x="329.42" y="115.66" width="1.68" height="1.49" fill="#160b39"/><rect x="333.87" y="115.66" width="1.68" height="1.49" fill="#000004"/><rect x="336.83" y="115.66" width="1.68" height="1.49" fill="#310a5c"/><rect x="341.28" y="115.66" width="1.68" height="1.49" fill="#000004"/><rect x="344.24" y="115.66" width="3.16" height="1.49" fill="#000004"/><rect x="367.95" y="115.66" width="1.68" height="1.49" fill="#160b39"/><rect x="317.57" y="116.96" width="1.68" height="1.49" fill="#000004"/><rect x="323.49" y="116.96" width="1.68" height="1.49" fill="#000004"/><rect x="335.35" y="116.96" width="3.16" height="1.49" fill="#310a5c"/><rect x="339.80" y="116.96" width="1.68" height="1.49" fill="#160b39"/><rect x="345.72" y="116.96" width="1.68" height="1.49" fill="#160b39"/><rect x="347.21" y="116.96" width="1.68" height="1.49" fill="#000004"/><rect x="351.65" y="116.96" width="3.16" height="1.49" fill="#000004"/><rect x="333.87" y="118.25" width="3.16" height="1.49" fill="#000004"/><rect x="338.31" y="118.25" width="1.68" height="1.49" fill="#000004"/><rect x="342.76" y="118.25" width="1.68" height="1.49" fill="#160b39"/><rect x="344.24" y="118.25" width="3.16" height="1.49" fill="#000004"/><rect x="336.83" y="119.55" width="1.68" height="1.49" fill="#000004"/><rect x="344.24" y="119.55" width="1.68" height="1.49" fill="#310a5c"/><rect x="345.72" y="119.55" width="1.68" height="1.49" fill="#000004"/><rect x="350.17" y="119.55" width="1.68" height="1.49" fill="#000004"/><rect x="357.58" y="119.55" width="1.68" height="1.49" fill="#000004"/><rect x="360.54" y="119.55" width="4.65" height="1.49" fill="#000004"/><rect x="330.90" y="120.84" width="1.68" height="1.49" fill="#160b39"/><rect x="332.39" y="120.84" width="1.68" height="1.49" fill="#000004"/><rect x="335.35" y="120.84" width="1.68" height="1.49" fill="#310a5c"/><rect x="336.83" y="120.84" width="3.16" height="1.49" fill="#160b39"/><rect x="339.80" y="120.84" width="1.68" height="1.49" fill="#000004"/><rect x="347.21" y="120.84" width="1.68" height="1.49" fill="#000004"/><rect x="351.65" y="120.84" width="1.68" height="1.49" fill="#000004"/><rect x="360.54" y="120.84" width="1.68" height="1.49" fill="#000004"/><rect x="369.44" y="120.84" width="3.16" height="1.49" fill="#000004"/><rect x="332.39" y="122.14" width="4.65" height="1.49" fill="#000004"/><rect x="336.83" y="122.14" width="1.68" height="1.49" fill="#420a68"/><rect x="338.31" y="122.14" width="1.68" height="1.49" fill="#160b39"/><rect x="357.58" y="122.14" width="3.16" height="1.49" fill="#000004"/><rect x="362.03" y="122.14" width="1.68" height="1.49" fill="#000004"/><rect x="341.28" y="123.43" width="1.68" height="1.49" fill="#160b39"/><rect x="342.76" y="123.43" width="1.68" height="1.49" fill="#000004"/><rect x="350.17" y="123.43" width="1.68" height="1.49" fill="#160b39"/><rect x="357.58" y="123.43" width="1.68" height="1.49" fill="#000004"/><rect x="362.03" y="123.43" width="1.68" height="1.49" fill="#160b39"/><rect x="330.90" y="124.73" width="1.68" height="1.49" fill="#000004"/><rect x="332.39" y="124.73" width="1.68" height="1.49" fill="#160b39"/><rect x="336.83" y="124.73" width="3.16" height="1.49" fill="#160b39"/><rect x="339.80" y="124.73" width="1.68" height="1.49" fill="#000004"/><rect x="344.24" y="124.73" width="3.16" height="1.49" fill="#000004"/><rect x="362.03" y="124.73" width="1.68" height="1.49" fill="#160b39"/><rect x="314.60" y="126.02" width="1.68" height="1.49" fill="#000004"/><rect x="338.31" y="126.02" width="1.68" height="1.49" fill="#000004"/><rect x="345.72" y="126.02" width="1.68" height="1.49" fill="#000004"/><rect x="354.62" y="126.02" width="1.68" height="1.49" fill="#000004"/><rect x="359.06" y="126.02" width="1.68" height="1.49" fill="#000004"/><rect x="366.47" y="126.02" width="1.68" height="1.49" fill="#160b39"/><rect x="304.23" y="127.32" width="1.68" height="1.49" fill="#000004"/><rect x="338.31" y="127.32" width="1.68" height="1.49" fill="#000004"/><rect x="342.76" y="127.32" width="3.16" height="1.49" fill="#000004"/><rect x="366.47" y="127.32" width="1.68" height="1.49" fill="#000004"/><rect x="369.44" y="127.32" width="1.68" height="1.49" fill="#000004"/><rect x="305.71" y="128.62" width="1.68" height="1.49" fill="#000004"/><rect x="344.24" y="128.62" width="1.68" height="1.49" fill="#000004"/><rect x="369.44" y="128.62" width="1.68" height="1.49" fill="#160b39"/><rect x="320.53" y="129.91" width="1.68" height="1.49" fill="#000004"/><rect x="327.94" y="129.91" width="1.68" height="1.49" fill="#000004"/><rect x="357.58" y="129.91" width="1.68" height="1.49" fill="#000004"/><rect x="335.35" y="131.20" width="1.68" height="1.49" fill="#000004"/><rect x="345.72" y="131.20" width="1.68" height="1.49" fill="#000004"/><polygon points="224.20,33.97 225.19,33.84 226.19,33.71 227.18,33.57 228.18,33.44 229.17,33.30 230.17,33.17 231.16,33.04 232.16,32.90 233.15,32.77 234.15,32.63 235.14,32.50 236.14,32.37 237.13,32.23 238.12,32.10 239.12,31.96 240.11,31.83 241.11,31.70 242.10,31.56 243.10,31.43 244.09,31.30 245.09,31.16 246.08,31.03 247.08,30.89 248.07,30.76 249.07,30.63 250.06,30.51 251.06,30.66 252.05,30.81 253.04,30.96 254.04,31.11 255.03,31.26 256.03,31.40 257.02,31.55 258.02,31.70 259.01,31.85 260.01,32.00 261.00,32.17 262.00,32.33 262.99,32.50 263.99,32.66 264.98,32.83 265.97,33.00 266.97,33.16 267.96,33.33 268.96,33.49 269.95,33.66 270.95,33.82 271.94,33.99 272.94,34.16 273.93,34.32 274.93,34.49 275.92,34.71 276.92,34.95 277.91,35.18 278.90,35.41 279.90,35.64 280.89,35.88 281.89,36.11 282.88,36.34 283.88,36.57 284.87,36.80 285.87,37.04 286.86,37.27 287.86,37.50 288.85,37.73 289.85,37.96 290.84,38.13 291.83,38.28 292.83,38.42 293.82,38.57 294.82,38.72 295.81,38.87 296.81,39.02 297.80,39.17 298.80,39.32 299.79,39.47 300.79,39.62 301.78,39.77 302.78,39.92 303.77,40.07 304.77,40.21 305.76,40.36 306.75,40.51 307.75,40.66 308.74,40.81 309.74,40.96 310.73,41.15 311.73,41.35 312.72,41.54 313.72,41.74 314.71,41.94 315.71,42.14 316.70,42.34 317.70,42.54 318.69,42.74 319.68,42.94 320.68,43.14 321.67,43.33 322.67,43.53 323.66,43.73 324.66,43.93 325.65,44.13 326.65,44.33 327.64,44.53 328.64,44.73 329.63,44.93 330.63,45.19 331.62,45.49 332.61,45.78 333.61,46.08 334.60,46.38 335.60,46.68 336.59,46.98 337.59,47.28 338.58,47.57 339.58,47.87 340.57,48.34 341.57,48.94 342.56,49.54 343.56,50.13 344.55,50.73 345.54,51.33 346.54,51.92 347.53,52.52 348.53,53.12 349.52,53.71 350.52,54.31 351.51,54.91 352.51,55.50 353.50,56.10 354.50,56.70 355.49,57.29 356.49,57.89 357.48,58.49 358.48,59.09 359.47,59.68 360.46,60.62 361.46,61.95 362.45,63.27 363.45,64.60 364.44,65.92 365.44,67.25 366.43,68.86 367.43,70.85 368.42,72.84 369.42,74.83 370.41,76.68 371.41,78.34 372.40,80.00 372.40,133.00 371.41,133.00 370.41,133.00 369.42,133.00 368.42,133.00 367.43,133.00 366.43,133.00 365.44,133.00 364.44,133.00 363.45,133.00 362.45,133.00 361.46,133.00 360.46,133.00 359.47,133.00 358.48,133.00 357.48,129.62 356.49,123.16 355.49,119.15 354.50,117.49 353.50,115.84 352.51,114.18 351.51,112.52 350.52,110.86 349.52,109.05 348.53,107.06 347.53,105.07 346.54,103.08 345.54,101.09 344.55,99.55 343.56,98.56 342.56,97.56 341.57,96.57 340.57,95.57 339.58,94.32 338.58,92.73 337.59,91.14 336.59,89.55 335.60,87.96 334.60,86.29 333.61,84.50 332.61,82.71 331.62,80.92 330.63,79.13 329.63,77.26 328.64,75.27 327.64,73.28 326.65,71.29 325.65,69.30 324.66,67.45 323.66,65.86 322.67,64.27 321.67,62.68 320.68,61.09 319.68,59.84 318.69,59.34 317.70,58.85 316.70,58.35 315.71,57.85 314.71,57.36 313.72,56.86 312.72,56.36 311.73,55.86 310.73,55.37 309.74,54.87 308.74,54.37 307.75,53.87 306.75,53.38 305.76,52.88 304.77,52.38 303.77,51.89 302.78,51.39 301.78,50.89 300.79,50.39 299.79,49.95 298.80,49.70 297.80,49.45 296.81,49.20 295.81,48.95 294.82,48.70 293.82,48.46 292.83,48.21 291.83,47.96 290.84,47.71 289.85,47.47 288.85,47.24 287.86,47.02 286.86,46.79 285.87,46.57 284.87,46.35 283.88,46.12 282.88,45.90 281.89,45.67 280.89,45.45 279.90,45.23 278.90,45.00 277.91,44.78 276.92,44.56 275.92,44.33 274.93,44.11 273.93,43.88 272.94,43.66 271.94,43.44 270.95,43.21 269.95,42.99 268.96,42.87 267.96,42.75 266.97,42.62 265.97,42.50 264.98,42.37 263.99,42.25 262.99,42.12 262.00,42.00 261.00,41.88 260.01,41.75 259.01,41.63 258.02,41.50 257.02,41.38 256.03,41.25 255.03,41.13 254.04,41.00 253.04,40.88 252.05,40.76 251.06,40.63 250.06,40.51 249.07,40.54 248.07,40.57 247.08,40.61 246.08,40.65 245.09,40.69 244.09,40.73 243.10,40.77 242.10,40.80 241.11,40.84 240.11,40.88 239.12,40.92 238.12,40.96 237.13,40.99 236.14,41.03 235.14,41.07 234.15,41.11 233.15,41.15 232.16,41.19 231.16,41.22 230.17,41.26 229.17,41.30 228.18,41.34 227.18,41.38 226.19,41.42 225.19,41.45 224.20,41.49" fill="#d3d3d3" fill-opacity="0.55"/><polyline points="224.2,38.5 235.0,37.0 245.0,34.8 252.0,33.8 260.0,33.6 275.0,36.4 290.0,40.4 300.0,42.2 310.0,44.6 320.0,50.0 330.0,57.7 335.0,62.4 340.0,68.5 343.5,72.0 348.6,74.7 350.0,79.0 349.0,84.0 352.0,88.3 358.7,92.5 365.5,97.6 372.4,100.0" fill="none" stroke="#1a1a1a" stroke-width="1.0" stroke-linejoin="round"/><polyline points="224.2,42.5 235.0,44.0 245.0,46.5 255.0,50.3 265.0,56.4 275.0,63.5 285.0,71.7 295.0,80.8 305.0,98.6 312.0,114.3 316.0,123.0 320.0,132.5" fill="none" stroke="#e0302a" stroke-width="0.8" stroke-dasharray="2.6,1.6"/></g><rect x="225.0" y="105.5" width="70.5" height="26.6" fill="#fff" fill-opacity="0.9"/><rect x="227.6" y="112.0" width="2.6" height="1.6" fill="#b0203a"/><rect x="230.2" y="112.0" width="2.4" height="1.6" fill="#3a1040"/><text x="236.4" y="114.8" font-size="5.95" font-family='"Liberation Serif", serif' fill="#222">E − Dst 2D distribution</text><path d="M227.3,119.4 q1.7,-1.7 3.4,0 t3.4,0" fill="none" stroke="#1a2a2a" stroke-width="1.15"/><text x="236.4" y="121.6" font-size="5.95" font-family='"Liberation Serif", serif' fill="#222">68% C.L.</text><line x1="227.3" y1="127.9" x2="234.3" y2="127.9" stroke="#e0302a" stroke-width="0.8" stroke-dasharray="2.6,1.6"/><text x="236.4" y="129.9" font-size="5.95" font-family='"Liberation Serif", serif' fill="#222">Dst lower limit</text>
<rect x="224.2" y="3.0" width="148.20" height="129.5" fill="none" stroke="#333" stroke-width="0.7"/>
<line x1="224.20" y1="132.50" x2="226.20" y2="132.50" stroke="#222" stroke-width="0.5"/>
<line x1="372.40" y1="132.50" x2="370.40" y2="132.50" stroke="#222" stroke-width="0.5"/>
<line x1="224.20" y1="126.03" x2="225.30" y2="126.03" stroke="#222" stroke-width="0.5"/>
<line x1="372.40" y1="126.03" x2="371.30" y2="126.03" stroke="#222" stroke-width="0.5"/>
<line x1="224.20" y1="119.55" x2="225.30" y2="119.55" stroke="#222" stroke-width="0.5"/>
<line x1="372.40" y1="119.55" x2="371.30" y2="119.55" stroke="#222" stroke-width="0.5"/>
<line x1="224.20" y1="113.08" x2="225.30" y2="113.08" stroke="#222" stroke-width="0.5"/>
<line x1="372.40" y1="113.08" x2="371.30" y2="113.08" stroke="#222" stroke-width="0.5"/>
<line x1="224.20" y1="106.60" x2="225.30" y2="106.60" stroke="#222" stroke-width="0.5"/>
<line x1="372.40" y1="106.60" x2="371.30" y2="106.60" stroke="#222" stroke-width="0.5"/>
<line x1="224.20" y1="100.12" x2="226.20" y2="100.12" stroke="#222" stroke-width="0.5"/>
<line x1="372.40" y1="100.12" x2="370.40" y2="100.12" stroke="#222" stroke-width="0.5"/>
<line x1="224.20" y1="93.65" x2="225.30" y2="93.65" stroke="#222" stroke-width="0.5"/>
<line x1="372.40" y1="93.65" x2="371.30" y2="93.65" stroke="#222" stroke-width="0.5"/>
<line x1="224.20" y1="87.17" x2="225.30" y2="87.17" stroke="#222" stroke-width="0.5"/>
<line x1="372.40" y1="87.17" x2="371.30" y2="87.17" stroke="#222" stroke-width="0.5"/>
<line x1="224.20" y1="80.70" x2="225.30" y2="80.70" stroke="#222" stroke-width="0.5"/>
<line x1="372.40" y1="80.70" x2="371.30" y2="80.70" stroke="#222" stroke-width="0.5"/>
<line x1="224.20" y1="74.22" x2="225.30" y2="74.22" stroke="#222" stroke-width="0.5"/>
<line x1="372.40" y1="74.22" x2="371.30" y2="74.22" stroke="#222" stroke-width="0.5"/>
<line x1="224.20" y1="67.75" x2="226.20" y2="67.75" stroke="#222" stroke-width="0.5"/>
<line x1="372.40" y1="67.75" x2="370.40" y2="67.75" stroke="#222" stroke-width="0.5"/>
<line x1="224.20" y1="61.27" x2="225.30" y2="61.27" stroke="#222" stroke-width="0.5"/>
<line x1="372.40" y1="61.27" x2="371.30" y2="61.27" stroke="#222" stroke-width="0.5"/>
<line x1="224.20" y1="54.80" x2="225.30" y2="54.80" stroke="#222" stroke-width="0.5"/>
<line x1="372.40" y1="54.80" x2="371.30" y2="54.80" stroke="#222" stroke-width="0.5"/>
<line x1="224.20" y1="48.33" x2="225.30" y2="48.33" stroke="#222" stroke-width="0.5"/>
<line x1="372.40" y1="48.33" x2="371.30" y2="48.33" stroke="#222" stroke-width="0.5"/>
<line x1="224.20" y1="41.85" x2="225.30" y2="41.85" stroke="#222" stroke-width="0.5"/>
<line x1="372.40" y1="41.85" x2="371.30" y2="41.85" stroke="#222" stroke-width="0.5"/>
<line x1="224.20" y1="35.38" x2="226.20" y2="35.38" stroke="#222" stroke-width="0.5"/>
<line x1="372.40" y1="35.38" x2="370.40" y2="35.38" stroke="#222" stroke-width="0.5"/>
<line x1="224.20" y1="28.90" x2="225.30" y2="28.90" stroke="#222" stroke-width="0.5"/>
<line x1="372.40" y1="28.90" x2="371.30" y2="28.90" stroke="#222" stroke-width="0.5"/>
<line x1="224.20" y1="22.43" x2="225.30" y2="22.43" stroke="#222" stroke-width="0.5"/>
<line x1="372.40" y1="22.43" x2="371.30" y2="22.43" stroke="#222" stroke-width="0.5"/>
<line x1="224.20" y1="15.95" x2="225.30" y2="15.95" stroke="#222" stroke-width="0.5"/>
<line x1="372.40" y1="15.95" x2="371.30" y2="15.95" stroke="#222" stroke-width="0.5"/>
<line x1="224.20" y1="9.47" x2="225.30" y2="9.47" stroke="#222" stroke-width="0.5"/>
<line x1="372.40" y1="9.47" x2="371.30" y2="9.47" stroke="#222" stroke-width="0.5"/>
<line x1="224.20" y1="3.00" x2="226.20" y2="3.00" stroke="#222" stroke-width="0.5"/>
<line x1="372.40" y1="3.00" x2="370.40" y2="3.00" stroke="#222" stroke-width="0.5"/>
<text x="221.80" y="4.90" font-size="5.95" text-anchor="end" font-family='"Liberation Serif", serif' fill="#222" style="stroke-width:0.1px">50</text>
<text x="221.80" y="37.27" font-size="5.95" text-anchor="end" font-family='"Liberation Serif", serif' fill="#222" style="stroke-width:0.1px">0</text>
<text x="221.80" y="69.65" font-size="5.95" text-anchor="end" font-family='"Liberation Serif", serif' fill="#222" style="stroke-width:0.1px">−50</text>
<text x="221.80" y="102.03" font-size="5.95" text-anchor="end" font-family='"Liberation Serif", serif' fill="#222" style="stroke-width:0.1px">−100</text>
<text x="221.80" y="134.40" font-size="5.95" text-anchor="end" font-family='"Liberation Serif", serif' fill="#222" style="stroke-width:0.1px">−150</text>
<line x1="224.20" y1="132.50" x2="224.20" y2="130.50" stroke="#222" stroke-width="0.5"/>
<line x1="224.20" y1="3.00" x2="224.20" y2="5.00" stroke="#222" stroke-width="0.5"/>
<line x1="235.35" y1="132.50" x2="235.35" y2="131.40" stroke="#222" stroke-width="0.5"/>
<line x1="235.35" y1="3.00" x2="235.35" y2="4.10" stroke="#222" stroke-width="0.5"/>
<line x1="241.88" y1="132.50" x2="241.88" y2="131.40" stroke="#222" stroke-width="0.5"/>
<line x1="241.88" y1="3.00" x2="241.88" y2="4.10" stroke="#222" stroke-width="0.5"/>
<line x1="246.51" y1="132.50" x2="246.51" y2="131.40" stroke="#222" stroke-width="0.5"/>
<line x1="246.51" y1="3.00" x2="246.51" y2="4.10" stroke="#222" stroke-width="0.5"/>
<line x1="250.10" y1="132.50" x2="250.10" y2="131.40" stroke="#222" stroke-width="0.5"/>
<line x1="250.10" y1="3.00" x2="250.10" y2="4.10" stroke="#222" stroke-width="0.5"/>
<line x1="253.03" y1="132.50" x2="253.03" y2="131.40" stroke="#222" stroke-width="0.5"/>
<line x1="253.03" y1="3.00" x2="253.03" y2="4.10" stroke="#222" stroke-width="0.5"/>
<line x1="255.51" y1="132.50" x2="255.51" y2="131.40" stroke="#222" stroke-width="0.5"/>
<line x1="255.51" y1="3.00" x2="255.51" y2="4.10" stroke="#222" stroke-width="0.5"/>
<line x1="257.66" y1="132.50" x2="257.66" y2="131.40" stroke="#222" stroke-width="0.5"/>
<line x1="257.66" y1="3.00" x2="257.66" y2="4.10" stroke="#222" stroke-width="0.5"/>
<line x1="259.55" y1="132.50" x2="259.55" y2="131.40" stroke="#222" stroke-width="0.5"/>
<line x1="259.55" y1="3.00" x2="259.55" y2="4.10" stroke="#222" stroke-width="0.5"/>
<line x1="261.25" y1="132.50" x2="261.25" y2="130.50" stroke="#222" stroke-width="0.5"/>
<line x1="261.25" y1="3.00" x2="261.25" y2="5.00" stroke="#222" stroke-width="0.5"/>
<line x1="272.40" y1="132.50" x2="272.40" y2="131.40" stroke="#222" stroke-width="0.5"/>
<line x1="272.40" y1="3.00" x2="272.40" y2="4.10" stroke="#222" stroke-width="0.5"/>
<line x1="278.93" y1="132.50" x2="278.93" y2="131.40" stroke="#222" stroke-width="0.5"/>
<line x1="278.93" y1="3.00" x2="278.93" y2="4.10" stroke="#222" stroke-width="0.5"/>
<line x1="283.56" y1="132.50" x2="283.56" y2="131.40" stroke="#222" stroke-width="0.5"/>
<line x1="283.56" y1="3.00" x2="283.56" y2="4.10" stroke="#222" stroke-width="0.5"/>
<line x1="287.15" y1="132.50" x2="287.15" y2="131.40" stroke="#222" stroke-width="0.5"/>
<line x1="287.15" y1="3.00" x2="287.15" y2="4.10" stroke="#222" stroke-width="0.5"/>
<line x1="290.08" y1="132.50" x2="290.08" y2="131.40" stroke="#222" stroke-width="0.5"/>
<line x1="290.08" y1="3.00" x2="290.08" y2="4.10" stroke="#222" stroke-width="0.5"/>
<line x1="292.56" y1="132.50" x2="292.56" y2="131.40" stroke="#222" stroke-width="0.5"/>
<line x1="292.56" y1="3.00" x2="292.56" y2="4.10" stroke="#222" stroke-width="0.5"/>
<line x1="294.71" y1="132.50" x2="294.71" y2="131.40" stroke="#222" stroke-width="0.5"/>
<line x1="294.71" y1="3.00" x2="294.71" y2="4.10" stroke="#222" stroke-width="0.5"/>
<line x1="296.60" y1="132.50" x2="296.60" y2="131.40" stroke="#222" stroke-width="0.5"/>
<line x1="296.60" y1="3.00" x2="296.60" y2="4.10" stroke="#222" stroke-width="0.5"/>
<line x1="298.30" y1="132.50" x2="298.30" y2="130.50" stroke="#222" stroke-width="0.5"/>
<line x1="298.30" y1="3.00" x2="298.30" y2="5.00" stroke="#222" stroke-width="0.5"/>
<line x1="309.45" y1="132.50" x2="309.45" y2="131.40" stroke="#222" stroke-width="0.5"/>
<line x1="309.45" y1="3.00" x2="309.45" y2="4.10" stroke="#222" stroke-width="0.5"/>
<line x1="315.98" y1="132.50" x2="315.98" y2="131.40" stroke="#222" stroke-width="0.5"/>
<line x1="315.98" y1="3.00" x2="315.98" y2="4.10" stroke="#222" stroke-width="0.5"/>
<line x1="320.61" y1="132.50" x2="320.61" y2="131.40" stroke="#222" stroke-width="0.5"/>
<line x1="320.61" y1="3.00" x2="320.61" y2="4.10" stroke="#222" stroke-width="0.5"/>
<line x1="324.20" y1="132.50" x2="324.20" y2="131.40" stroke="#222" stroke-width="0.5"/>
<line x1="324.20" y1="3.00" x2="324.20" y2="4.10" stroke="#222" stroke-width="0.5"/>
<line x1="327.13" y1="132.50" x2="327.13" y2="131.40" stroke="#222" stroke-width="0.5"/>
<line x1="327.13" y1="3.00" x2="327.13" y2="4.10" stroke="#222" stroke-width="0.5"/>
<line x1="329.61" y1="132.50" x2="329.61" y2="131.40" stroke="#222" stroke-width="0.5"/>
<line x1="329.61" y1="3.00" x2="329.61" y2="4.10" stroke="#222" stroke-width="0.5"/>
<line x1="331.76" y1="132.50" x2="331.76" y2="131.40" stroke="#222" stroke-width="0.5"/>
<line x1="331.76" y1="3.00" x2="331.76" y2="4.10" stroke="#222" stroke-width="0.5"/>
<line x1="333.65" y1="132.50" x2="333.65" y2="131.40" stroke="#222" stroke-width="0.5"/>
<line x1="333.65" y1="3.00" x2="333.65" y2="4.10" stroke="#222" stroke-width="0.5"/>
<line x1="335.35" y1="132.50" x2="335.35" y2="130.50" stroke="#222" stroke-width="0.5"/>
<line x1="335.35" y1="3.00" x2="335.35" y2="5.00" stroke="#222" stroke-width="0.5"/>
<line x1="346.50" y1="132.50" x2="346.50" y2="131.40" stroke="#222" stroke-width="0.5"/>
<line x1="346.50" y1="3.00" x2="346.50" y2="4.10" stroke="#222" stroke-width="0.5"/>
<line x1="353.03" y1="132.50" x2="353.03" y2="131.40" stroke="#222" stroke-width="0.5"/>
<line x1="353.03" y1="3.00" x2="353.03" y2="4.10" stroke="#222" stroke-width="0.5"/>
<line x1="357.66" y1="132.50" x2="357.66" y2="131.40" stroke="#222" stroke-width="0.5"/>
<line x1="357.66" y1="3.00" x2="357.66" y2="4.10" stroke="#222" stroke-width="0.5"/>
<line x1="361.25" y1="132.50" x2="361.25" y2="131.40" stroke="#222" stroke-width="0.5"/>
<line x1="361.25" y1="3.00" x2="361.25" y2="4.10" stroke="#222" stroke-width="0.5"/>
<line x1="364.18" y1="132.50" x2="364.18" y2="131.40" stroke="#222" stroke-width="0.5"/>
<line x1="364.18" y1="3.00" x2="364.18" y2="4.10" stroke="#222" stroke-width="0.5"/>
<line x1="366.66" y1="132.50" x2="366.66" y2="131.40" stroke="#222" stroke-width="0.5"/>
<line x1="366.66" y1="3.00" x2="366.66" y2="4.10" stroke="#222" stroke-width="0.5"/>
<line x1="368.81" y1="132.50" x2="368.81" y2="131.40" stroke="#222" stroke-width="0.5"/>
<line x1="368.81" y1="3.00" x2="368.81" y2="4.10" stroke="#222" stroke-width="0.5"/>
<line x1="370.70" y1="132.50" x2="370.70" y2="131.40" stroke="#222" stroke-width="0.5"/>
<line x1="370.70" y1="3.00" x2="370.70" y2="4.10" stroke="#222" stroke-width="0.5"/>
<text x="261.25" y="138.30" font-size="5.95" text-anchor="middle" font-family='"Liberation Serif", serif' fill="#222" style="stroke-width:0.1px">0.1</text>
<text x="298.30" y="138.30" font-size="5.95" text-anchor="middle" font-family='"Liberation Serif", serif' fill="#222" style="stroke-width:0.1px">1</text>
<text x="335.35" y="138.30" font-size="5.95" text-anchor="middle" font-family='"Liberation Serif", serif' fill="#222" style="stroke-width:0.1px">10</text>
<text x="372.40" y="138.30" font-size="5.95" text-anchor="middle" font-family='"Liberation Serif", serif' fill="#222" style="stroke-width:0.1px">100</text>
<text x="298.30" y="146.30" font-size="5.95" text-anchor="middle" font-family='"Liberation Serif", serif' fill="#222">Solar wind energy E</text>
<text x="205.60" y="67.30" font-size="5.95" text-anchor="middle" font-family='"Liberation Serif", serif' fill="#222" transform="rotate(-90 205.6 67.3)" style="stroke-width:0.1px">Dst [nT]</text>
<text x="371.60" y="9.00" font-size="5.6" text-anchor="end" font-family='"Liberation Serif", serif' fill="#222">(B)</text>
<defs><linearGradient id="cb" x1="0" y1="1" x2="0" y2="0"><stop offset="0.000" stop-color="#000004"/><stop offset="0.050" stop-color="#060419"/><stop offset="0.100" stop-color="#120a32"/><stop offset="0.150" stop-color="#230c4c"/><stop offset="0.200" stop-color="#360961"/><stop offset="0.250" stop-color="#490b6a"/><stop offset="0.300" stop-color="#5a116e"/><stop offset="0.350" stop-color="#6c186e"/><stop offset="0.400" stop-color="#7d1e6d"/><stop offset="0.450" stop-color="#8f2469"/><stop offset="0.500" stop-color="#a02a63"/><stop offset="0.550" stop-color="#b1325a"/><stop offset="0.600" stop-color="#c13a50"/><stop offset="0.650" stop-color="#d04545"/><stop offset="0.700" stop-color="#de5238"/><stop offset="0.750" stop-color="#e9612b"/><stop offset="0.800" stop-color="#f1731d"/><stop offset="0.850" stop-color="#f8850f"/><stop offset="0.900" stop-color="#fb9906"/><stop offset="0.950" stop-color="#fcae12"/><stop offset="1.000" stop-color="#fac42a"/></linearGradient></defs>
<rect x="376.1" y="3.0" width="6.00" height="129.5" fill="url(#cb)" stroke="#333" stroke-width="0.6"/>
<text x="384.00" y="134.40" font-size="5.95" text-anchor="start" font-family='"Liberation Serif", serif' fill="#222" style="stroke-width:0.1px">1</text>
<text x="384.00" y="119.35" font-size="5.95" text-anchor="start" font-family='"Liberation Serif", serif' fill="#222" style="stroke-width:0.1px">2</text>
<text x="384.00" y="99.45" font-size="5.95" text-anchor="start" font-family='"Liberation Serif", serif' fill="#222" style="stroke-width:0.1px">5</text>
<text x="384.00" y="84.40" font-size="5.95" text-anchor="start" font-family='"Liberation Serif", serif' fill="#222" style="stroke-width:0.1px">10</text>
<text x="384.00" y="69.35" font-size="5.95" text-anchor="start" font-family='"Liberation Serif", serif' fill="#222" style="stroke-width:0.1px">20</text>
<text x="384.00" y="49.45" font-size="5.95" text-anchor="start" font-family='"Liberation Serif", serif' fill="#222" style="stroke-width:0.1px">50</text>
<text x="384.00" y="34.40" font-size="5.95" text-anchor="start" font-family='"Liberation Serif", serif' fill="#222" style="stroke-width:0.1px">100</text>
<text x="384.00" y="19.35" font-size="5.95" text-anchor="start" font-family='"Liberation Serif", serif' fill="#222" style="stroke-width:0.1px">200</text>
<line x1="382.10" y1="132.50" x2="380.50" y2="132.50" stroke="#222" stroke-width="0.5"/>
<line x1="382.10" y1="117.45" x2="380.50" y2="117.45" stroke="#222" stroke-width="0.5"/>
<line x1="382.10" y1="108.64" x2="381.20" y2="108.64" stroke="#222" stroke-width="0.5"/>
<line x1="382.10" y1="102.40" x2="381.20" y2="102.40" stroke="#222" stroke-width="0.5"/>
<line x1="382.10" y1="97.55" x2="380.50" y2="97.55" stroke="#222" stroke-width="0.5"/>
<line x1="382.10" y1="93.59" x2="381.20" y2="93.59" stroke="#222" stroke-width="0.5"/>
<line x1="382.10" y1="90.25" x2="381.20" y2="90.25" stroke="#222" stroke-width="0.5"/>
<line x1="382.10" y1="87.35" x2="381.20" y2="87.35" stroke="#222" stroke-width="0.5"/>
<line x1="382.10" y1="84.79" x2="381.20" y2="84.79" stroke="#222" stroke-width="0.5"/>
<line x1="382.10" y1="82.50" x2="380.50" y2="82.50" stroke="#222" stroke-width="0.5"/>
<line x1="382.10" y1="67.45" x2="380.50" y2="67.45" stroke="#222" stroke-width="0.5"/>
<line x1="382.10" y1="58.64" x2="381.20" y2="58.64" stroke="#222" stroke-width="0.5"/>
<line x1="382.10" y1="52.40" x2="381.20" y2="52.40" stroke="#222" stroke-width="0.5"/>
<line x1="382.10" y1="47.55" x2="380.50" y2="47.55" stroke="#222" stroke-width="0.5"/>
<line x1="382.10" y1="43.59" x2="381.20" y2="43.59" stroke="#222" stroke-width="0.5"/>
<line x1="382.10" y1="40.25" x2="381.20" y2="40.25" stroke="#222" stroke-width="0.5"/>
<line x1="382.10" y1="37.35" x2="381.20" y2="37.35" stroke="#222" stroke-width="0.5"/>
<line x1="382.10" y1="34.79" x2="381.20" y2="34.79" stroke="#222" stroke-width="0.5"/>
<line x1="382.10" y1="32.50" x2="380.50" y2="32.50" stroke="#222" stroke-width="0.5"/>
<line x1="382.10" y1="17.45" x2="380.50" y2="17.45" stroke="#222" stroke-width="0.5"/>
<line x1="382.10" y1="8.64" x2="381.20" y2="8.64" stroke="#222" stroke-width="0.5"/>
<text x="398.60" y="68.00" font-size="5.95" text-anchor="middle" font-family='"Liberation Serif", serif' fill="#222" transform="rotate(-90 398.6 68.0)">Occurrence</text>
<line x1="17.20" y1="276.99" x2="196.40" y2="164.93" stroke="#e0302a" stroke-width="0.9" stroke-dasharray="3,1.8"/>
<circle cx="35.3" cy="261.2" r="1.25" fill="#2a2ad8" fill-opacity="0.24" stroke="#2a2ad0" stroke-opacity="0.78" stroke-width="0.8"/><circle cx="42.9" cy="260.7" r="1.25" fill="#2a2ad8" fill-opacity="0.24" stroke="#2a2ad0" stroke-opacity="0.78" stroke-width="0.8"/><circle cx="44.0" cy="262.2" r="1.25" fill="#2a2ad8" fill-opacity="0.24" stroke="#2a2ad0" stroke-opacity="0.78" stroke-width="0.8"/><circle cx="41.4" cy="264.2" r="1.25" fill="#2a2ad8" fill-opacity="0.24" stroke="#2a2ad0" stroke-opacity="0.78" stroke-width="0.8"/><circle cx="38.4" cy="264.2" r="1.25" fill="#2a2ad8" fill-opacity="0.24" stroke="#2a2ad0" stroke-opacity="0.78" stroke-width="0.8"/><circle cx="32.3" cy="264.2" r="1.25" fill="#2a2ad8" fill-opacity="0.24" stroke="#2a2ad0" stroke-opacity="0.78" stroke-width="0.8"/><circle cx="34.3" cy="266.3" r="1.25" fill="#2a2ad8" fill-opacity="0.24" stroke="#2a2ad0" stroke-opacity="0.78" stroke-width="0.8"/><circle cx="31.2" cy="268.3" r="1.25" fill="#2a2ad8" fill-opacity="0.24" stroke="#2a2ad0" stroke-opacity="0.78" stroke-width="0.8"/><circle cx="30.2" cy="271.4" r="1.25" fill="#2a2ad8" fill-opacity="0.24" stroke="#2a2ad0" stroke-opacity="0.78" stroke-width="0.8"/><circle cx="29.2" cy="272.9" r="1.25" fill="#2a2ad8" fill-opacity="0.24" stroke="#2a2ad0" stroke-opacity="0.78" stroke-width="0.8"/><circle cx="36.3" cy="271.9" r="1.25" fill="#2a2ad8" fill-opacity="0.24" stroke="#2a2ad0" stroke-opacity="0.78" stroke-width="0.8"/><circle cx="37.9" cy="271.4" r="1.25" fill="#2a2ad8" fill-opacity="0.24" stroke="#2a2ad0" stroke-opacity="0.78" stroke-width="0.8"/><circle cx="38.9" cy="273.4" r="1.25" fill="#2a2ad8" fill-opacity="0.24" stroke="#2a2ad0" stroke-opacity="0.78" stroke-width="0.8"/><circle cx="42.9" cy="269.3" r="1.25" fill="#2a2ad8" fill-opacity="0.24" stroke="#2a2ad0" stroke-opacity="0.78" stroke-width="0.8"/><circle cx="41.9" cy="272.9" r="1.25" fill="#2a2ad8" fill-opacity="0.24" stroke="#2a2ad0" stroke-opacity="0.78" stroke-width="0.8"/><circle cx="26.2" cy="273.4" r="1.25" fill="#2a2ad8" fill-opacity="0.24" stroke="#2a2ad0" stroke-opacity="0.78" stroke-width="0.8"/><circle cx="24.6" cy="274.4" r="1.25" fill="#2a2ad8" fill-opacity="0.24" stroke="#2a2ad0" stroke-opacity="0.78" stroke-width="0.8"/><circle cx="23.1" cy="275.4" r="1.25" fill="#2a2ad8" fill-opacity="0.24" stroke="#2a2ad0" stroke-opacity="0.78" stroke-width="0.8"/><circle cx="45.5" cy="259.7" r="1.25" fill="#2a2ad8" fill-opacity="0.24" stroke="#2a2ad0" stroke-opacity="0.78" stroke-width="0.8"/><circle cx="42.0" cy="240.7" r="1.25" fill="#2a2ad8" fill-opacity="0.24" stroke="#2a2ad0" stroke-opacity="0.78" stroke-width="0.8"/><circle cx="52.9" cy="242.7" r="1.25" fill="#2a2ad8" fill-opacity="0.24" stroke="#2a2ad0" stroke-opacity="0.78" stroke-width="0.8"/><circle cx="59.7" cy="244.1" r="1.25" fill="#2a2ad8" fill-opacity="0.24" stroke="#2a2ad0" stroke-opacity="0.78" stroke-width="0.8"/><circle cx="67.1" cy="242.7" r="1.25" fill="#2a2ad8" fill-opacity="0.24" stroke="#2a2ad0" stroke-opacity="0.78" stroke-width="0.8"/><circle cx="73.9" cy="242.7" r="1.25" fill="#2a2ad8" fill-opacity="0.24" stroke="#2a2ad0" stroke-opacity="0.78" stroke-width="0.8"/><circle cx="75.9" cy="245.4" r="1.25" fill="#2a2ad8" fill-opacity="0.24" stroke="#2a2ad0" stroke-opacity="0.78" stroke-width="0.8"/><circle cx="46.8" cy="245.4" r="1.25" fill="#2a2ad8" fill-opacity="0.24" stroke="#2a2ad0" stroke-opacity="0.78" stroke-width="0.8"/><circle cx="45.4" cy="248.1" r="1.25" fill="#2a2ad8" fill-opacity="0.24" stroke="#2a2ad0" stroke-opacity="0.78" stroke-width="0.8"/><circle cx="52.9" cy="247.5" r="1.25" fill="#2a2ad8" fill-opacity="0.24" stroke="#2a2ad0" stroke-opacity="0.78" stroke-width="0.8"/><circle cx="50.8" cy="249.5" r="1.25" fill="#2a2ad8" fill-opacity="0.24" stroke="#2a2ad0" stroke-opacity="0.78" stroke-width="0.8"/><circle cx="57.6" cy="249.5" r="1.25" fill="#2a2ad8" fill-opacity="0.24" stroke="#2a2ad0" stroke-opacity="0.78" stroke-width="0.8"/><circle cx="61.0" cy="246.1" r="1.25" fill="#2a2ad8" fill-opacity="0.24" stroke="#2a2ad0" stroke-opacity="0.78" stroke-width="0.8"/><circle cx="63.1" cy="250.2" r="1.25" fill="#2a2ad8" fill-opacity="0.24" stroke="#2a2ad0" stroke-opacity="0.78" stroke-width="0.8"/><circle cx="67.8" cy="248.8" r="1.25" fill="#2a2ad8" fill-opacity="0.24" stroke="#2a2ad0" stroke-opacity="0.78" stroke-width="0.8"/><circle cx="71.2" cy="247.5" r="1.25" fill="#2a2ad8" fill-opacity="0.24" stroke="#2a2ad0" stroke-opacity="0.78" stroke-width="0.8"/><circle cx="73.2" cy="250.2" r="1.25" fill="#2a2ad8" fill-opacity="0.24" stroke="#2a2ad0" stroke-opacity="0.78" stroke-width="0.8"/><circle cx="70.5" cy="252.2" r="1.25" fill="#2a2ad8" fill-opacity="0.24" stroke="#2a2ad0" stroke-opacity="0.78" stroke-width="0.8"/><circle cx="66.4" cy="252.9" r="1.25" fill="#2a2ad8" fill-opacity="0.24" stroke="#2a2ad0" stroke-opacity="0.78" stroke-width="0.8"/><circle cx="53.6" cy="252.9" r="1.25" fill="#2a2ad8" fill-opacity="0.24" stroke="#2a2ad0" stroke-opacity="0.78" stroke-width="0.8"/><circle cx="56.3" cy="254.2" r="1.25" fill="#2a2ad8" fill-opacity="0.24" stroke="#2a2ad0" stroke-opacity="0.78" stroke-width="0.8"/><circle cx="60.3" cy="254.2" r="1.25" fill="#2a2ad8" fill-opacity="0.24" stroke="#2a2ad0" stroke-opacity="0.78" stroke-width="0.8"/><circle cx="51.5" cy="257.0" r="1.25" fill="#2a2ad8" fill-opacity="0.24" stroke="#2a2ad0" stroke-opacity="0.78" stroke-width="0.8"/><circle cx="48.1" cy="260.3" r="1.25" fill="#2a2ad8" fill-opacity="0.24" stroke="#2a2ad0" stroke-opacity="0.78" stroke-width="0.8"/><circle cx="53.6" cy="260.3" r="1.25" fill="#2a2ad8" fill-opacity="0.24" stroke="#2a2ad0" stroke-opacity="0.78" stroke-width="0.8"/><circle cx="50.8" cy="261.7" r="1.25" fill="#2a2ad8" fill-opacity="0.24" stroke="#2a2ad0" stroke-opacity="0.78" stroke-width="0.8"/><circle cx="57.0" cy="261.0" r="1.25" fill="#2a2ad8" fill-opacity="0.24" stroke="#2a2ad0" stroke-opacity="0.78" stroke-width="0.8"/><circle cx="60.3" cy="259.0" r="1.25" fill="#2a2ad8" fill-opacity="0.24" stroke="#2a2ad0" stroke-opacity="0.78" stroke-width="0.8"/><circle cx="63.7" cy="261.0" r="1.25" fill="#2a2ad8" fill-opacity="0.24" stroke="#2a2ad0" stroke-opacity="0.78" stroke-width="0.8"/><circle cx="68.5" cy="261.0" r="1.25" fill="#2a2ad8" fill-opacity="0.24" stroke="#2a2ad0" stroke-opacity="0.78" stroke-width="0.8"/><circle cx="66.4" cy="263.7" r="1.25" fill="#2a2ad8" fill-opacity="0.24" stroke="#2a2ad0" stroke-opacity="0.78" stroke-width="0.8"/><circle cx="72.5" cy="263.0" r="1.25" fill="#2a2ad8" fill-opacity="0.24" stroke="#2a2ad0" stroke-opacity="0.78" stroke-width="0.8"/><circle cx="75.9" cy="256.3" r="1.25" fill="#2a2ad8" fill-opacity="0.24" stroke="#2a2ad0" stroke-opacity="0.78" stroke-width="0.8"/><circle cx="70.5" cy="256.3" r="1.25" fill="#2a2ad8" fill-opacity="0.24" stroke="#2a2ad0" stroke-opacity="0.78" stroke-width="0.8"/><circle cx="49.5" cy="269.2" r="1.25" fill="#2a2ad8" fill-opacity="0.24" stroke="#2a2ad0" stroke-opacity="0.78" stroke-width="0.8"/><circle cx="59.7" cy="268.5" r="1.25" fill="#2a2ad8" fill-opacity="0.24" stroke="#2a2ad0" stroke-opacity="0.78" stroke-width="0.8"/><circle cx="67.1" cy="270.5" r="1.25" fill="#2a2ad8" fill-opacity="0.24" stroke="#2a2ad0" stroke-opacity="0.78" stroke-width="0.8"/><circle cx="40.0" cy="270.5" r="1.25" fill="#2a2ad8" fill-opacity="0.24" stroke="#2a2ad0" stroke-opacity="0.78" stroke-width="0.8"/><circle cx="77.7" cy="237.7" r="1.25" fill="#2a2ad8" fill-opacity="0.24" stroke="#2a2ad0" stroke-opacity="0.78" stroke-width="0.8"/><circle cx="83.8" cy="239.7" r="1.25" fill="#2a2ad8" fill-opacity="0.24" stroke="#2a2ad0" stroke-opacity="0.78" stroke-width="0.8"/><circle cx="90.6" cy="239.1" r="1.25" fill="#2a2ad8" fill-opacity="0.24" stroke="#2a2ad0" stroke-opacity="0.78" stroke-width="0.8"/><circle cx="94.0" cy="238.4" r="1.25" fill="#2a2ad8" fill-opacity="0.24" stroke="#2a2ad0" stroke-opacity="0.78" stroke-width="0.8"/><circle cx="98.0" cy="237.0" r="1.25" fill="#2a2ad8" fill-opacity="0.24" stroke="#2a2ad0" stroke-opacity="0.78" stroke-width="0.8"/><circle cx="97.4" cy="241.1" r="1.25" fill="#2a2ad8" fill-opacity="0.24" stroke="#2a2ad0" stroke-opacity="0.78" stroke-width="0.8"/><circle cx="81.1" cy="243.8" r="1.25" fill="#2a2ad8" fill-opacity="0.24" stroke="#2a2ad0" stroke-opacity="0.78" stroke-width="0.8"/><circle cx="89.2" cy="243.1" r="1.25" fill="#2a2ad8" fill-opacity="0.24" stroke="#2a2ad0" stroke-opacity="0.78" stroke-width="0.8"/><circle cx="93.3" cy="243.1" r="1.25" fill="#2a2ad8" fill-opacity="0.24" stroke="#2a2ad0" stroke-opacity="0.78" stroke-width="0.8"/><circle cx="86.5" cy="245.8" r="1.25" fill="#2a2ad8" fill-opacity="0.24" stroke="#2a2ad0" stroke-opacity="0.78" stroke-width="0.8"/><circle cx="96.0" cy="245.8" r="1.25" fill="#2a2ad8" fill-opacity="0.24" stroke="#2a2ad0" stroke-opacity="0.78" stroke-width="0.8"/><circle cx="79.1" cy="250.6" r="1.25" fill="#2a2ad8" fill-opacity="0.24" stroke="#2a2ad0" stroke-opacity="0.78" stroke-width="0.8"/><circle cx="81.8" cy="249.9" r="1.25" fill="#2a2ad8" fill-opacity="0.24" stroke="#2a2ad0" stroke-opacity="0.78" stroke-width="0.8"/><circle cx="81.1" cy="252.6" r="1.25" fill="#2a2ad8" fill-opacity="0.24" stroke="#2a2ad0" stroke-opacity="0.78" stroke-width="0.8"/><circle cx="89.2" cy="260.8" r="1.25" fill="#2a2ad8" fill-opacity="0.24" stroke="#2a2ad0" stroke-opacity="0.78" stroke-width="0.8"/><circle cx="96.3" cy="200.7" r="1.25" fill="#2a2ad8" fill-opacity="0.24" stroke="#2a2ad0" stroke-opacity="0.78" stroke-width="0.8"/><circle cx="77.3" cy="217.6" r="1.25" fill="#2a2ad8" fill-opacity="0.24" stroke="#2a2ad0" stroke-opacity="0.78" stroke-width="0.8"/><circle cx="67.8" cy="219.0" r="1.25" fill="#2a2ad8" fill-opacity="0.24" stroke="#2a2ad0" stroke-opacity="0.78" stroke-width="0.8"/><circle cx="71.2" cy="220.3" r="1.25" fill="#2a2ad8" fill-opacity="0.24" stroke="#2a2ad0" stroke-opacity="0.78" stroke-width="0.8"/><circle cx="69.9" cy="223.0" r="1.25" fill="#2a2ad8" fill-opacity="0.24" stroke="#2a2ad0" stroke-opacity="0.78" stroke-width="0.8"/><circle cx="58.4" cy="229.2" r="1.25" fill="#2a2ad8" fill-opacity="0.24" stroke="#2a2ad0" stroke-opacity="0.78" stroke-width="0.8"/><circle cx="64.5" cy="227.8" r="1.25" fill="#2a2ad8" fill-opacity="0.24" stroke="#2a2ad0" stroke-opacity="0.78" stroke-width="0.8"/><circle cx="85.5" cy="227.8" r="1.25" fill="#2a2ad8" fill-opacity="0.24" stroke="#2a2ad0" stroke-opacity="0.78" stroke-width="0.8"/><circle cx="89.5" cy="227.1" r="1.25" fill="#2a2ad8" fill-opacity="0.24" stroke="#2a2ad0" stroke-opacity="0.78" stroke-width="0.8"/><circle cx="92.9" cy="228.5" r="1.25" fill="#2a2ad8" fill-opacity="0.24" stroke="#2a2ad0" stroke-opacity="0.78" stroke-width="0.8"/><circle cx="84.8" cy="230.5" r="1.25" fill="#2a2ad8" fill-opacity="0.24" stroke="#2a2ad0" stroke-opacity="0.78" stroke-width="0.8"/><circle cx="82.1" cy="232.5" r="1.25" fill="#2a2ad8" fill-opacity="0.24" stroke="#2a2ad0" stroke-opacity="0.78" stroke-width="0.8"/><circle cx="78.7" cy="234.6" r="1.25" fill="#2a2ad8" fill-opacity="0.24" stroke="#2a2ad0" stroke-opacity="0.78" stroke-width="0.8"/><circle cx="72.6" cy="234.6" r="1.25" fill="#2a2ad8" fill-opacity="0.24" stroke="#2a2ad0" stroke-opacity="0.78" stroke-width="0.8"/><circle cx="74.6" cy="236.6" r="1.25" fill="#2a2ad8" fill-opacity="0.24" stroke="#2a2ad0" stroke-opacity="0.78" stroke-width="0.8"/><circle cx="66.5" cy="236.6" r="1.25" fill="#2a2ad8" fill-opacity="0.24" stroke="#2a2ad0" stroke-opacity="0.78" stroke-width="0.8"/><circle cx="59.7" cy="236.6" r="1.25" fill="#2a2ad8" fill-opacity="0.24" stroke="#2a2ad0" stroke-opacity="0.78" stroke-width="0.8"/><circle cx="90.9" cy="232.5" r="1.25" fill="#2a2ad8" fill-opacity="0.24" stroke="#2a2ad0" stroke-opacity="0.78" stroke-width="0.8"/><circle cx="95.0" cy="233.2" r="1.25" fill="#2a2ad8" fill-opacity="0.24" stroke="#2a2ad0" stroke-opacity="0.78" stroke-width="0.8"/><circle cx="93.6" cy="236.6" r="1.25" fill="#2a2ad8" fill-opacity="0.24" stroke="#2a2ad0" stroke-opacity="0.78" stroke-width="0.8"/><circle cx="84.1" cy="238.0" r="1.25" fill="#2a2ad8" fill-opacity="0.24" stroke="#2a2ad0" stroke-opacity="0.78" stroke-width="0.8"/><circle cx="39.4" cy="225.3" r="1.25" fill="#2a2ad8" fill-opacity="0.24" stroke="#2a2ad0" stroke-opacity="0.78" stroke-width="0.8"/><circle cx="55.6" cy="233.5" r="1.25" fill="#2a2ad8" fill-opacity="0.24" stroke="#2a2ad0" stroke-opacity="0.78" stroke-width="0.8"/><circle cx="47.5" cy="244.3" r="1.25" fill="#2a2ad8" fill-opacity="0.24" stroke="#2a2ad0" stroke-opacity="0.78" stroke-width="0.8"/><circle cx="109.9" cy="207.9" r="1.25" fill="#2a2ad8" fill-opacity="0.24" stroke="#2a2ad0" stroke-opacity="0.78" stroke-width="0.8"/><circle cx="105.8" cy="210.6" r="1.25" fill="#2a2ad8" fill-opacity="0.24" stroke="#2a2ad0" stroke-opacity="0.78" stroke-width="0.8"/><circle cx="107.2" cy="213.3" r="1.25" fill="#2a2ad8" fill-opacity="0.24" stroke="#2a2ad0" stroke-opacity="0.78" stroke-width="0.8"/><circle cx="113.3" cy="209.9" r="1.25" fill="#2a2ad8" fill-opacity="0.24" stroke="#2a2ad0" stroke-opacity="0.78" stroke-width="0.8"/><circle cx="114.7" cy="212.6" r="1.25" fill="#2a2ad8" fill-opacity="0.24" stroke="#2a2ad0" stroke-opacity="0.78" stroke-width="0.8"/><circle cx="118.1" cy="207.9" r="1.25" fill="#2a2ad8" fill-opacity="0.24" stroke="#2a2ad0" stroke-opacity="0.78" stroke-width="0.8"/><circle cx="122.8" cy="207.2" r="1.25" fill="#2a2ad8" fill-opacity="0.24" stroke="#2a2ad0" stroke-opacity="0.78" stroke-width="0.8"/><circle cx="129.6" cy="217.4" r="1.25" fill="#2a2ad8" fill-opacity="0.24" stroke="#2a2ad0" stroke-opacity="0.78" stroke-width="0.8"/><circle cx="100.4" cy="218.7" r="1.25" fill="#2a2ad8" fill-opacity="0.24" stroke="#2a2ad0" stroke-opacity="0.78" stroke-width="0.8"/><circle cx="103.1" cy="220.1" r="1.25" fill="#2a2ad8" fill-opacity="0.24" stroke="#2a2ad0" stroke-opacity="0.78" stroke-width="0.8"/><circle cx="108.6" cy="219.4" r="1.25" fill="#2a2ad8" fill-opacity="0.24" stroke="#2a2ad0" stroke-opacity="0.78" stroke-width="0.8"/><circle cx="99.1" cy="223.5" r="1.25" fill="#2a2ad8" fill-opacity="0.24" stroke="#2a2ad0" stroke-opacity="0.78" stroke-width="0.8"/><circle cx="105.2" cy="224.2" r="1.25" fill="#2a2ad8" fill-opacity="0.24" stroke="#2a2ad0" stroke-opacity="0.78" stroke-width="0.8"/><circle cx="97.7" cy="227.5" r="1.25" fill="#2a2ad8" fill-opacity="0.24" stroke="#2a2ad0" stroke-opacity="0.78" stroke-width="0.8"/><circle cx="97.7" cy="231.6" r="1.25" fill="#2a2ad8" fill-opacity="0.24" stroke="#2a2ad0" stroke-opacity="0.78" stroke-width="0.8"/><circle cx="100.4" cy="231.6" r="1.25" fill="#2a2ad8" fill-opacity="0.24" stroke="#2a2ad0" stroke-opacity="0.78" stroke-width="0.8"/><circle cx="106.5" cy="232.3" r="1.25" fill="#2a2ad8" fill-opacity="0.24" stroke="#2a2ad0" stroke-opacity="0.78" stroke-width="0.8"/><circle cx="95.2" cy="184.4" r="1.25" fill="#2a2ad8" fill-opacity="0.24" stroke="#2a2ad0" stroke-opacity="0.78" stroke-width="0.8"/><circle cx="139.9" cy="209.0" r="1.25" fill="#2a2ad8" fill-opacity="0.24" stroke="#2a2ad0" stroke-opacity="0.78" stroke-width="0.8"/><circle cx="170.9" cy="167.7" r="1.25" fill="#2a2ad8" fill-opacity="0.24" stroke="#2a2ad0" stroke-opacity="0.78" stroke-width="0.8"/><circle cx="58.1" cy="236.4" r="1.25" fill="#2a2ad8" fill-opacity="0.24" stroke="#2a2ad0" stroke-opacity="0.78" stroke-width="0.8"/><circle cx="60.8" cy="237.1" r="1.25" fill="#2a2ad8" fill-opacity="0.24" stroke="#2a2ad0" stroke-opacity="0.78" stroke-width="0.8"/><circle cx="66.2" cy="237.8" r="1.25" fill="#2a2ad8" fill-opacity="0.24" stroke="#2a2ad0" stroke-opacity="0.78" stroke-width="0.8"/><circle cx="70.3" cy="240.5" r="1.25" fill="#2a2ad8" fill-opacity="0.24" stroke="#2a2ad0" stroke-opacity="0.78" stroke-width="0.8"/><circle cx="61.4" cy="244.5" r="1.25" fill="#2a2ad8" fill-opacity="0.24" stroke="#2a2ad0" stroke-opacity="0.78" stroke-width="0.8"/><circle cx="63.5" cy="246.6" r="1.25" fill="#2a2ad8" fill-opacity="0.24" stroke="#2a2ad0" stroke-opacity="0.78" stroke-width="0.8"/><circle cx="67.5" cy="245.2" r="1.25" fill="#2a2ad8" fill-opacity="0.24" stroke="#2a2ad0" stroke-opacity="0.78" stroke-width="0.8"/><circle cx="73.0" cy="248.6" r="1.25" fill="#2a2ad8" fill-opacity="0.24" stroke="#2a2ad0" stroke-opacity="0.78" stroke-width="0.8"/><circle cx="40.4" cy="262.5" r="1.25" fill="#2a2ad8" fill-opacity="0.24" stroke="#2a2ad0" stroke-opacity="0.78" stroke-width="0.8"/><circle cx="42.0" cy="265.8" r="1.25" fill="#2a2ad8" fill-opacity="0.24" stroke="#2a2ad0" stroke-opacity="0.78" stroke-width="0.8"/><circle cx="30.2" cy="269.4" r="1.25" fill="#2a2ad8" fill-opacity="0.24" stroke="#2a2ad0" stroke-opacity="0.78" stroke-width="0.8"/><circle cx="35.1" cy="272.3" r="1.25" fill="#2a2ad8" fill-opacity="0.24" stroke="#2a2ad0" stroke-opacity="0.78" stroke-width="0.8"/><circle cx="41.6" cy="269.4" r="1.25" fill="#2a2ad8" fill-opacity="0.24" stroke="#2a2ad0" stroke-opacity="0.78" stroke-width="0.8"/><circle cx="35.0" cy="270.0" r="1.25" fill="#2a2ad8" fill-opacity="0.24" stroke="#2a2ad0" stroke-opacity="0.78" stroke-width="0.8"/><circle cx="54.3" cy="243.7" r="1.25" fill="#2a2ad8" fill-opacity="0.24" stroke="#2a2ad0" stroke-opacity="0.78" stroke-width="0.8"/><circle cx="63.2" cy="245.4" r="1.25" fill="#2a2ad8" fill-opacity="0.24" stroke="#2a2ad0" stroke-opacity="0.78" stroke-width="0.8"/><circle cx="62.8" cy="251.5" r="1.25" fill="#2a2ad8" fill-opacity="0.24" stroke="#2a2ad0" stroke-opacity="0.78" stroke-width="0.8"/><circle cx="59.1" cy="253.1" r="1.25" fill="#2a2ad8" fill-opacity="0.24" stroke="#2a2ad0" stroke-opacity="0.78" stroke-width="0.8"/><circle cx="60.4" cy="255.5" r="1.25" fill="#2a2ad8" fill-opacity="0.24" stroke="#2a2ad0" stroke-opacity="0.78" stroke-width="0.8"/><circle cx="48.1" cy="256.0" r="1.25" fill="#2a2ad8" fill-opacity="0.24" stroke="#2a2ad0" stroke-opacity="0.78" stroke-width="0.8"/><circle cx="50.6" cy="255.1" r="1.25" fill="#2a2ad8" fill-opacity="0.24" stroke="#2a2ad0" stroke-opacity="0.78" stroke-width="0.8"/><circle cx="46.9" cy="258.8" r="1.25" fill="#2a2ad8" fill-opacity="0.24" stroke="#2a2ad0" stroke-opacity="0.78" stroke-width="0.8"/><circle cx="44.1" cy="259.6" r="1.25" fill="#2a2ad8" fill-opacity="0.24" stroke="#2a2ad0" stroke-opacity="0.78" stroke-width="0.8"/><circle cx="54.3" cy="259.2" r="1.25" fill="#2a2ad8" fill-opacity="0.24" stroke="#2a2ad0" stroke-opacity="0.78" stroke-width="0.8"/><circle cx="73.0" cy="237.8" r="1.25" fill="#2a2ad8" fill-opacity="0.24" stroke="#2a2ad0" stroke-opacity="0.78" stroke-width="0.8"/><circle cx="79.1" cy="238.6" r="1.25" fill="#2a2ad8" fill-opacity="0.24" stroke="#2a2ad0" stroke-opacity="0.78" stroke-width="0.8"/><circle cx="72.2" cy="245.1" r="1.25" fill="#2a2ad8" fill-opacity="0.24" stroke="#2a2ad0" stroke-opacity="0.78" stroke-width="0.8"/><circle cx="63.3" cy="248.4" r="1.25" fill="#2a2ad8" fill-opacity="0.24" stroke="#2a2ad0" stroke-opacity="0.78" stroke-width="0.8"/><circle cx="73.8" cy="247.5" r="1.25" fill="#2a2ad8" fill-opacity="0.24" stroke="#2a2ad0" stroke-opacity="0.78" stroke-width="0.8"/><circle cx="97.5" cy="226.3" r="1.25" fill="#2a2ad8" fill-opacity="0.24" stroke="#2a2ad0" stroke-opacity="0.78" stroke-width="0.8"/><circle cx="91.8" cy="227.9" r="1.25" fill="#2a2ad8" fill-opacity="0.24" stroke="#2a2ad0" stroke-opacity="0.78" stroke-width="0.8"/><circle cx="80.8" cy="234.0" r="1.25" fill="#2a2ad8" fill-opacity="0.24" stroke="#2a2ad0" stroke-opacity="0.78" stroke-width="0.8"/><circle cx="91.0" cy="229.9" r="1.25" fill="#2a2ad8" fill-opacity="0.24" stroke="#2a2ad0" stroke-opacity="0.78" stroke-width="0.8"/>
<rect x="17.2" y="150.1" width="179.20" height="129.10" fill="none" stroke="#333" stroke-width="0.7"/>
<line x1="17.20" y1="279.20" x2="17.20" y2="280.90" stroke="#222" stroke-width="0.45"/>
<line x1="20.40" y1="279.20" x2="20.40" y2="280.10" stroke="#222" stroke-width="0.45"/>
<line x1="23.60" y1="279.20" x2="23.60" y2="280.10" stroke="#222" stroke-width="0.45"/>
<line x1="26.80" y1="279.20" x2="26.80" y2="280.10" stroke="#222" stroke-width="0.45"/>
<line x1="30.00" y1="279.20" x2="30.00" y2="280.90" stroke="#222" stroke-width="0.45"/>
<line x1="33.20" y1="279.20" x2="33.20" y2="280.10" stroke="#222" stroke-width="0.45"/>
<line x1="36.40" y1="279.20" x2="36.40" y2="280.10" stroke="#222" stroke-width="0.45"/>
<line x1="39.60" y1="279.20" x2="39.60" y2="280.10" stroke="#222" stroke-width="0.45"/>
<line x1="42.80" y1="279.20" x2="42.80" y2="280.90" stroke="#222" stroke-width="0.45"/>
<line x1="46.00" y1="279.20" x2="46.00" y2="280.10" stroke="#222" stroke-width="0.45"/>
<line x1="49.20" y1="279.20" x2="49.20" y2="280.10" stroke="#222" stroke-width="0.45"/>
<line x1="52.40" y1="279.20" x2="52.40" y2="280.10" stroke="#222" stroke-width="0.45"/>
<line x1="55.60" y1="279.20" x2="55.60" y2="280.90" stroke="#222" stroke-width="0.45"/>
<line x1="58.80" y1="279.20" x2="58.80" y2="280.10" stroke="#222" stroke-width="0.45"/>
<line x1="62.00" y1="279.20" x2="62.00" y2="280.10" stroke="#222" stroke-width="0.45"/>
<line x1="65.20" y1="279.20" x2="65.20" y2="280.10" stroke="#222" stroke-width="0.45"/>
<line x1="68.40" y1="279.20" x2="68.40" y2="280.90" stroke="#222" stroke-width="0.45"/>
<line x1="71.60" y1="279.20" x2="71.60" y2="280.10" stroke="#222" stroke-width="0.45"/>
<line x1="74.80" y1="279.20" x2="74.80" y2="280.10" stroke="#222" stroke-width="0.45"/>
<line x1="78.00" y1="279.20" x2="78.00" y2="280.10" stroke="#222" stroke-width="0.45"/>
<line x1="81.20" y1="279.20" x2="81.20" y2="280.90" stroke="#222" stroke-width="0.45"/>
<line x1="84.40" y1="279.20" x2="84.40" y2="280.10" stroke="#222" stroke-width="0.45"/>
<line x1="87.60" y1="279.20" x2="87.60" y2="280.10" stroke="#222" stroke-width="0.45"/>
<line x1="90.80" y1="279.20" x2="90.80" y2="280.10" stroke="#222" stroke-width="0.45"/>
<line x1="94.00" y1="279.20" x2="94.00" y2="280.90" stroke="#222" stroke-width="0.45"/>
<line x1="97.20" y1="279.20" x2="97.20" y2="280.10" stroke="#222" stroke-width="0.45"/>
<line x1="100.40" y1="279.20" x2="100.40" y2="280.10" stroke="#222" stroke-width="0.45"/>
<line x1="103.60" y1="279.20" x2="103.60" y2="280.10" stroke="#222" stroke-width="0.45"/>
<line x1="106.80" y1="279.20" x2="106.80" y2="280.90" stroke="#222" stroke-width="0.45"/>
<line x1="110.00" y1="279.20" x2="110.00" y2="280.10" stroke="#222" stroke-width="0.45"/>
<line x1="113.20" y1="279.20" x2="113.20" y2="280.10" stroke="#222" stroke-width="0.45"/>
<line x1="116.40" y1="279.20" x2="116.40" y2="280.10" stroke="#222" stroke-width="0.45"/>
<line x1="119.60" y1="279.20" x2="119.60" y2="280.90" stroke="#222" stroke-width="0.45"/>
<line x1="122.80" y1="279.20" x2="122.80" y2="280.10" stroke="#222" stroke-width="0.45"/>
<line x1="126.00" y1="279.20" x2="126.00" y2="280.10" stroke="#222" stroke-width="0.45"/>
<line x1="129.20" y1="279.20" x2="129.20" y2="280.10" stroke="#222" stroke-width="0.45"/>
<line x1="132.40" y1="279.20" x2="132.40" y2="280.90" stroke="#222" stroke-width="0.45"/>
<line x1="135.60" y1="279.20" x2="135.60" y2="280.10" stroke="#222" stroke-width="0.45"/>
<line x1="138.80" y1="279.20" x2="138.80" y2="280.10" stroke="#222" stroke-width="0.45"/>
<line x1="142.00" y1="279.20" x2="142.00" y2="280.10" stroke="#222" stroke-width="0.45"/>
<line x1="145.20" y1="279.20" x2="145.20" y2="280.90" stroke="#222" stroke-width="0.45"/>
<line x1="148.40" y1="279.20" x2="148.40" y2="280.10" stroke="#222" stroke-width="0.45"/>
<line x1="151.60" y1="279.20" x2="151.60" y2="280.10" stroke="#222" stroke-width="0.45"/>
<line x1="154.80" y1="279.20" x2="154.80" y2="280.10" stroke="#222" stroke-width="0.45"/>
<line x1="158.00" y1="279.20" x2="158.00" y2="280.90" stroke="#222" stroke-width="0.45"/>
<line x1="161.20" y1="279.20" x2="161.20" y2="280.10" stroke="#222" stroke-width="0.45"/>
<line x1="164.40" y1="279.20" x2="164.40" y2="280.10" stroke="#222" stroke-width="0.45"/>
<line x1="167.60" y1="279.20" x2="167.60" y2="280.10" stroke="#222" stroke-width="0.45"/>
<line x1="170.80" y1="279.20" x2="170.80" y2="280.90" stroke="#222" stroke-width="0.45"/>
<line x1="174.00" y1="279.20" x2="174.00" y2="280.10" stroke="#222" stroke-width="0.45"/>
<line x1="177.20" y1="279.20" x2="177.20" y2="280.10" stroke="#222" stroke-width="0.45"/>
<line x1="180.40" y1="279.20" x2="180.40" y2="280.10" stroke="#222" stroke-width="0.45"/>
<line x1="183.60" y1="279.20" x2="183.60" y2="280.90" stroke="#222" stroke-width="0.45"/>
<line x1="186.80" y1="279.20" x2="186.80" y2="280.10" stroke="#222" stroke-width="0.45"/>
<line x1="190.00" y1="279.20" x2="190.00" y2="280.10" stroke="#222" stroke-width="0.45"/>
<line x1="193.20" y1="279.20" x2="193.20" y2="280.10" stroke="#222" stroke-width="0.45"/>
<line x1="196.40" y1="279.20" x2="196.40" y2="280.90" stroke="#222" stroke-width="0.45"/>
<line x1="17.20" y1="279.20" x2="15.50" y2="279.20" stroke="#222" stroke-width="0.45"/>
<line x1="17.20" y1="276.89" x2="16.30" y2="276.89" stroke="#222" stroke-width="0.45"/>
<line x1="17.20" y1="274.59" x2="16.30" y2="274.59" stroke="#222" stroke-width="0.45"/>
<line x1="17.20" y1="272.28" x2="16.30" y2="272.28" stroke="#222" stroke-width="0.45"/>
<line x1="17.20" y1="269.98" x2="16.30" y2="269.98" stroke="#222" stroke-width="0.45"/>
<line x1="17.20" y1="267.67" x2="16.30" y2="267.67" stroke="#222" stroke-width="0.45"/>
<line x1="17.20" y1="265.37" x2="16.30" y2="265.37" stroke="#222" stroke-width="0.45"/>
<line x1="17.20" y1="263.06" x2="16.30" y2="263.06" stroke="#222" stroke-width="0.45"/>
<line x1="17.20" y1="260.76" x2="15.50" y2="260.76" stroke="#222" stroke-width="0.45"/>
<line x1="17.20" y1="258.45" x2="16.30" y2="258.45" stroke="#222" stroke-width="0.45"/>
<line x1="17.20" y1="256.15" x2="16.30" y2="256.15" stroke="#222" stroke-width="0.45"/>
<line x1="17.20" y1="253.84" x2="16.30" y2="253.84" stroke="#222" stroke-width="0.45"/>
<line x1="17.20" y1="251.54" x2="16.30" y2="251.54" stroke="#222" stroke-width="0.45"/>
<line x1="17.20" y1="249.23" x2="16.30" y2="249.23" stroke="#222" stroke-width="0.45"/>
<line x1="17.20" y1="246.92" x2="16.30" y2="246.92" stroke="#222" stroke-width="0.45"/>
<line x1="17.20" y1="244.62" x2="16.30" y2="244.62" stroke="#222" stroke-width="0.45"/>
<line x1="17.20" y1="242.31" x2="15.50" y2="242.31" stroke="#222" stroke-width="0.45"/>
<line x1="17.20" y1="240.01" x2="16.30" y2="240.01" stroke="#222" stroke-width="0.45"/>
<line x1="17.20" y1="237.70" x2="16.30" y2="237.70" stroke="#222" stroke-width="0.45"/>
<line x1="17.20" y1="235.40" x2="16.30" y2="235.40" stroke="#222" stroke-width="0.45"/>
<line x1="17.20" y1="233.09" x2="16.30" y2="233.09" stroke="#222" stroke-width="0.45"/>
<line x1="17.20" y1="230.79" x2="16.30" y2="230.79" stroke="#222" stroke-width="0.45"/>
<line x1="17.20" y1="228.48" x2="16.30" y2="228.48" stroke="#222" stroke-width="0.45"/>
<line x1="17.20" y1="226.18" x2="16.30" y2="226.18" stroke="#222" stroke-width="0.45"/>
<line x1="17.20" y1="223.87" x2="15.50" y2="223.87" stroke="#222" stroke-width="0.45"/>
<line x1="17.20" y1="221.57" x2="16.30" y2="221.57" stroke="#222" stroke-width="0.45"/>
<line x1="17.20" y1="219.26" x2="16.30" y2="219.26" stroke="#222" stroke-width="0.45"/>
<line x1="17.20" y1="216.96" x2="16.30" y2="216.96" stroke="#222" stroke-width="0.45"/>
<line x1="17.20" y1="214.65" x2="16.30" y2="214.65" stroke="#222" stroke-width="0.45"/>
<line x1="17.20" y1="212.34" x2="16.30" y2="212.34" stroke="#222" stroke-width="0.45"/>
<line x1="17.20" y1="210.04" x2="16.30" y2="210.04" stroke="#222" stroke-width="0.45"/>
<line x1="17.20" y1="207.73" x2="16.30" y2="207.73" stroke="#222" stroke-width="0.45"/>
<line x1="17.20" y1="205.43" x2="15.50" y2="205.43" stroke="#222" stroke-width="0.45"/>
<line x1="17.20" y1="203.12" x2="16.30" y2="203.12" stroke="#222" stroke-width="0.45"/>
<line x1="17.20" y1="200.82" x2="16.30" y2="200.82" stroke="#222" stroke-width="0.45"/>
<line x1="17.20" y1="198.51" x2="16.30" y2="198.51" stroke="#222" stroke-width="0.45"/>
<line x1="17.20" y1="196.21" x2="16.30" y2="196.21" stroke="#222" stroke-width="0.45"/>
<line x1="17.20" y1="193.90" x2="16.30" y2="193.90" stroke="#222" stroke-width="0.45"/>
<line x1="17.20" y1="191.60" x2="16.30" y2="191.60" stroke="#222" stroke-width="0.45"/>
<line x1="17.20" y1="189.29" x2="16.30" y2="189.29" stroke="#222" stroke-width="0.45"/>
<line x1="17.20" y1="186.99" x2="15.50" y2="186.99" stroke="#222" stroke-width="0.45"/>
<line x1="17.20" y1="184.68" x2="16.30" y2="184.68" stroke="#222" stroke-width="0.45"/>
<line x1="17.20" y1="182.38" x2="16.30" y2="182.38" stroke="#222" stroke-width="0.45"/>
<line x1="17.20" y1="180.07" x2="16.30" y2="180.07" stroke="#222" stroke-width="0.45"/>
<line x1="17.20" y1="177.76" x2="16.30" y2="177.76" stroke="#222" stroke-width="0.45"/>
<line x1="17.20" y1="175.46" x2="16.30" y2="175.46" stroke="#222" stroke-width="0.45"/>
<line x1="17.20" y1="173.15" x2="16.30" y2="173.15" stroke="#222" stroke-width="0.45"/>
<line x1="17.20" y1="170.85" x2="16.30" y2="170.85" stroke="#222" stroke-width="0.45"/>
<line x1="17.20" y1="168.54" x2="15.50" y2="168.54" stroke="#222" stroke-width="0.45"/>
<line x1="17.20" y1="166.24" x2="16.30" y2="166.24" stroke="#222" stroke-width="0.45"/>
<line x1="17.20" y1="163.93" x2="16.30" y2="163.93" stroke="#222" stroke-width="0.45"/>
<line x1="17.20" y1="161.63" x2="16.30" y2="161.63" stroke="#222" stroke-width="0.45"/>
<line x1="17.20" y1="159.32" x2="16.30" y2="159.32" stroke="#222" stroke-width="0.45"/>
<line x1="17.20" y1="157.02" x2="16.30" y2="157.02" stroke="#222" stroke-width="0.45"/>
<line x1="17.20" y1="154.71" x2="16.30" y2="154.71" stroke="#222" stroke-width="0.45"/>
<line x1="17.20" y1="152.41" x2="16.30" y2="152.41" stroke="#222" stroke-width="0.45"/>
<line x1="17.20" y1="150.10" x2="15.50" y2="150.10" stroke="#222" stroke-width="0.45"/>
<text x="17.20" y="286.00" font-size="4.7" text-anchor="middle" font-family='"Liberation Sans", sans-serif' fill="#222">0</text>
<text x="30.00" y="286.00" font-size="4.7" text-anchor="middle" font-family='"Liberation Sans", sans-serif' fill="#222">1</text>
<text x="42.80" y="286.00" font-size="4.7" text-anchor="middle" font-family='"Liberation Sans", sans-serif' fill="#222">2</text>
<text x="55.60" y="286.00" font-size="4.7" text-anchor="middle" font-family='"Liberation Sans", sans-serif' fill="#222">3</text>
<text x="68.40" y="286.00" font-size="4.7" text-anchor="middle" font-family='"Liberation Sans", sans-serif' fill="#222">4</text>
<text x="81.20" y="286.00" font-size="4.7" text-anchor="middle" font-family='"Liberation Sans", sans-serif' fill="#222">5</text>
<text x="94.00" y="286.00" font-size="4.7" text-anchor="middle" font-family='"Liberation Sans", sans-serif' fill="#222">6</text>
<text x="106.80" y="286.00" font-size="4.7" text-anchor="middle" font-family='"Liberation Sans", sans-serif' fill="#222">7</text>
<text x="119.60" y="286.00" font-size="4.7" text-anchor="middle" font-family='"Liberation Sans", sans-serif' fill="#222">8</text>
<text x="132.40" y="286.00" font-size="4.7" text-anchor="middle" font-family='"Liberation Sans", sans-serif' fill="#222">9</text>
<text x="145.20" y="286.00" font-size="4.7" text-anchor="middle" font-family='"Liberation Sans", sans-serif' fill="#222">10</text>
<text x="158.00" y="286.00" font-size="4.7" text-anchor="middle" font-family='"Liberation Sans", sans-serif' fill="#222">11</text>
<text x="170.80" y="286.00" font-size="4.7" text-anchor="middle" font-family='"Liberation Sans", sans-serif' fill="#222">12</text>
<text x="183.60" y="286.00" font-size="4.7" text-anchor="middle" font-family='"Liberation Sans", sans-serif' fill="#222">13</text>
<text x="196.40" y="286.00" font-size="4.7" text-anchor="middle" font-family='"Liberation Sans", sans-serif' fill="#222">14</text>
<text x="15.00" y="280.90" font-size="4.7" text-anchor="end" font-family='"Liberation Sans", sans-serif' fill="#222">0</text>
<text x="15.00" y="262.46" font-size="4.7" text-anchor="end" font-family='"Liberation Sans", sans-serif' fill="#222">2</text>
<text x="15.00" y="244.01" font-size="4.7" text-anchor="end" font-family='"Liberation Sans", sans-serif' fill="#222">4</text>
<text x="15.00" y="225.57" font-size="4.7" text-anchor="end" font-family='"Liberation Sans", sans-serif' fill="#222">6</text>
<text x="15.00" y="207.13" font-size="4.7" text-anchor="end" font-family='"Liberation Sans", sans-serif' fill="#222">8</text>
<text x="15.00" y="188.69" font-size="4.7" text-anchor="end" font-family='"Liberation Sans", sans-serif' fill="#222">10</text>
<text x="15.00" y="170.24" font-size="4.7" text-anchor="end" font-family='"Liberation Sans", sans-serif' fill="#222">12</text>
<text x="15.00" y="151.80" font-size="4.7" text-anchor="end" font-family='"Liberation Sans", sans-serif' fill="#222">14</text>
<text x="106.80" y="293.70" font-size="5.5" text-anchor="middle" font-family='"Liberation Sans", sans-serif' fill="#222">Δt<tspan font-size="3.7" dy="0.9">ICME−H</tspan><tspan dy="-0.9"> [day]</tspan></text>
<text x="4.90" y="214.80" font-size="5.9" text-anchor="middle" font-family='"Liberation Sans", sans-serif' fill="#222" transform="rotate(-90 4.9 214.8)">Δt<tspan font-size="4.3" dy="0.9">fit</tspan><tspan dy="-0.9"> [day]</tspan></text>
<text x="195.40" y="156.80" font-size="5.6" text-anchor="end" font-family='"Liberation Serif", serif' fill="#222">(C)</text>
<line x1="20.00" y1="155.60" x2="27.20" y2="155.60" stroke="#e0302a" stroke-width="0.9" stroke-dasharray="2,1.2"/>
<circle cx="23.6" cy="155.6" r="1.3" fill="none" stroke="#7a3fb0" stroke-width="0.6"/>
<text x="30.20" y="157.40" font-size="5.3" text-anchor="start" font-family='"Liberation Sans", sans-serif' fill="#222">Linear fit (<tspan font-style="italic">ρ</tspan> = 0.83)</text>
</svg>
</body></html>
